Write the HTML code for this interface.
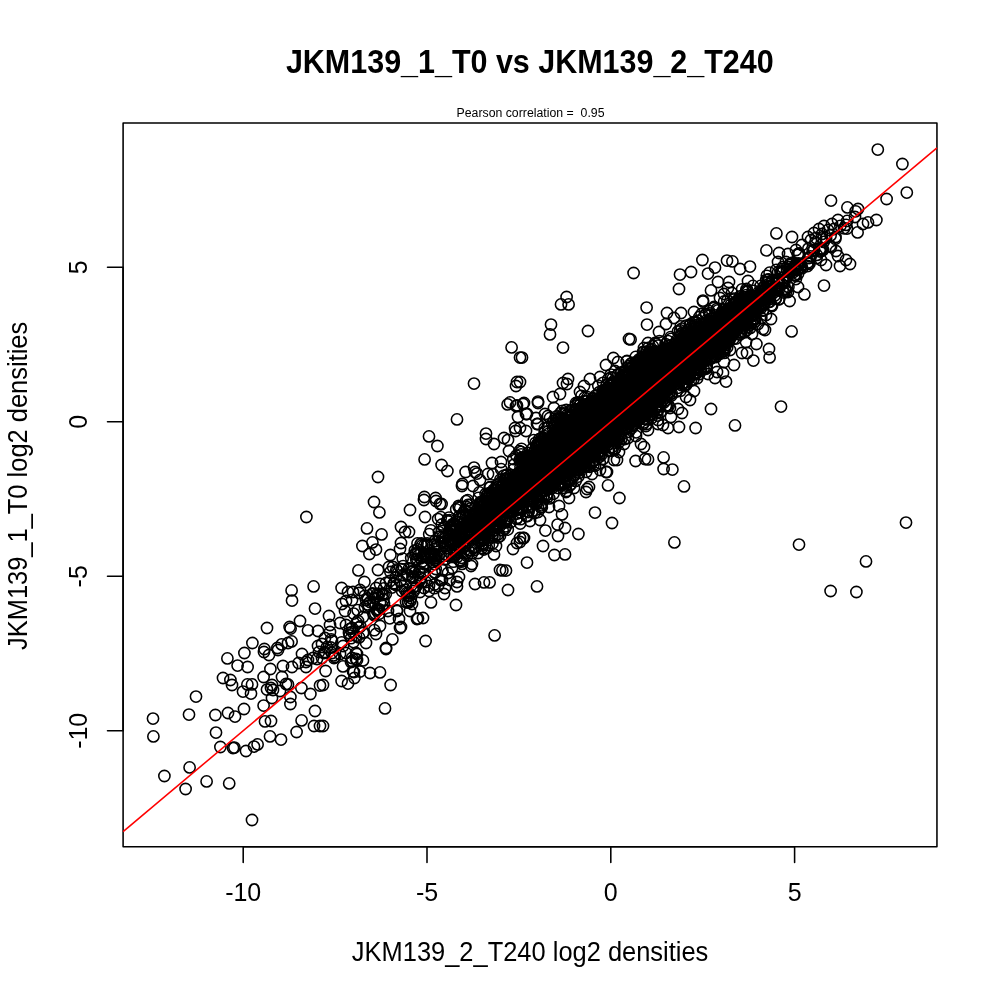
<!DOCTYPE html>
<html><head><meta charset="utf-8"><title>JKM139_1_T0 vs JKM139_2_T240</title>
<style>
html,body{margin:0;padding:0;background:#fff;}
body{width:1000px;height:1000px;overflow:hidden;font-family:"Liberation Sans",sans-serif;}
svg{display:block;will-change:transform;}
text{font-family:"Liberation Sans",sans-serif;fill:#000;}
.pts circle{r:5.62px;fill:none;stroke:#000;stroke-width:1.55px;}
.ln{stroke:#000;stroke-width:1.56px;fill:none;stroke-linecap:round;stroke-linejoin:round;}
.ax{font-size:25px;text-anchor:middle;}
</style></head><body>
<svg width="1000" height="1000" viewBox="0 0 1000 1000">
<rect width="1000" height="1000" fill="#fff"/>
<text transform="translate(529.8 72.7) scale(1.016 1.125)" text-anchor="middle" font-size="30" font-weight="bold">JKM139_1_T0 vs JKM139_2_T240</text>
<text transform="translate(530.5 117) scale(0.984 1.08)" text-anchor="middle" font-size="12.5">Pearson correlation =&#160; 0.95</text>
<g class="pts"><circle cx="636.1" cy="399.1"/><circle cx="672.2" cy="353.7"/><circle cx="567.3" cy="431.9"/><circle cx="374.3" cy="630.2"/><circle cx="678.3" cy="353.4"/><circle cx="567.9" cy="454.3"/><circle cx="556.3" cy="441.7"/><circle cx="611.1" cy="425.4"/><circle cx="812.7" cy="251"/><circle cx="635.5" cy="373.2"/><circle cx="545.7" cy="461.9"/><circle cx="633.4" cy="400.7"/><circle cx="449.1" cy="540.2"/><circle cx="603.3" cy="411"/><circle cx="637" cy="395.3"/><circle cx="609.5" cy="406.8"/><circle cx="538.9" cy="457.9"/><circle cx="541.4" cy="455.9"/><circle cx="363.8" cy="632.3"/><circle cx="526.1" cy="479.5"/><circle cx="707.3" cy="340.8"/><circle cx="694.4" cy="351.1"/><circle cx="663.3" cy="349.6"/><circle cx="618.5" cy="409.4"/><circle cx="703.6" cy="368.6"/><circle cx="630.3" cy="378.3"/><circle cx="586.9" cy="443"/><circle cx="524.5" cy="493.5"/><circle cx="585.1" cy="446"/><circle cx="628.6" cy="388.4"/><circle cx="639" cy="384.4"/><circle cx="524.7" cy="463.2"/><circle cx="552.3" cy="457.3"/><circle cx="500.5" cy="521.9"/><circle cx="545.6" cy="452.7"/><circle cx="567.3" cy="414.8"/><circle cx="644.4" cy="386.4"/><circle cx="693.7" cy="359.9"/><circle cx="717.9" cy="327.2"/><circle cx="522.7" cy="508.5"/><circle cx="730.7" cy="318"/><circle cx="535.1" cy="472.2"/><circle cx="639.8" cy="373"/><circle cx="584.5" cy="427.6"/><circle cx="552.3" cy="471.6"/><circle cx="705.6" cy="349.9"/><circle cx="619.8" cy="424.1"/><circle cx="665.7" cy="381.2"/><circle cx="583.6" cy="441.8"/><circle cx="513.3" cy="459"/><circle cx="643.4" cy="374"/><circle cx="615" cy="448.5"/><circle cx="577.4" cy="430.2"/><circle cx="649.3" cy="392.4"/><circle cx="614" cy="407.6"/><circle cx="720.5" cy="335.8"/><circle cx="734.1" cy="318"/><circle cx="666.1" cy="355.4"/><circle cx="519.2" cy="473"/><circle cx="683.8" cy="361"/><circle cx="636.9" cy="383.8"/><circle cx="612.8" cy="378.2"/><circle cx="548.8" cy="469.4"/><circle cx="581.6" cy="451.8"/><circle cx="577.8" cy="453.3"/><circle cx="625.1" cy="415.4"/><circle cx="560.4" cy="428.1"/><circle cx="598.8" cy="448.3"/><circle cx="613.3" cy="407.1"/><circle cx="714.4" cy="322.4"/><circle cx="626.6" cy="392"/><circle cx="706.4" cy="330.7"/><circle cx="727.8" cy="309"/><circle cx="595.9" cy="423.5"/><circle cx="746.4" cy="309.4"/><circle cx="680.9" cy="355.7"/><circle cx="657.2" cy="378.6"/><circle cx="574.8" cy="437.7"/><circle cx="542.1" cy="455.3"/><circle cx="545" cy="455.2"/><circle cx="692" cy="356.6"/><circle cx="605.9" cy="393.2"/><circle cx="643.7" cy="378.1"/><circle cx="755.1" cy="309.8"/><circle cx="636.8" cy="394.8"/><circle cx="536.2" cy="480.8"/><circle cx="592" cy="426.8"/><circle cx="683.8" cy="341"/><circle cx="508.9" cy="487.5"/><circle cx="679.7" cy="360.8"/><circle cx="614.9" cy="401.7"/><circle cx="461.9" cy="528.8"/><circle cx="424.5" cy="564.3"/><circle cx="554.7" cy="470.2"/><circle cx="623.8" cy="393.7"/><circle cx="628.7" cy="415.6"/><circle cx="648" cy="383.1"/><circle cx="569.7" cy="460.1"/><circle cx="617.9" cy="423.5"/><circle cx="643.4" cy="413.6"/><circle cx="538.5" cy="485.7"/><circle cx="454" cy="556"/><circle cx="754" cy="318.3"/><circle cx="466.1" cy="501.2"/><circle cx="571.4" cy="428.2"/><circle cx="636.5" cy="407.8"/><circle cx="570.4" cy="410.4"/><circle cx="678.3" cy="363.1"/><circle cx="669.8" cy="369.5"/><circle cx="540.4" cy="445"/><circle cx="639.1" cy="375.8"/><circle cx="500.2" cy="511.6"/><circle cx="637.6" cy="399.7"/><circle cx="680.2" cy="351.5"/><circle cx="658.4" cy="363.4"/><circle cx="712.8" cy="326"/><circle cx="436.1" cy="560.2"/><circle cx="545.5" cy="442.8"/><circle cx="741.8" cy="311.8"/><circle cx="555.7" cy="433.4"/><circle cx="643.3" cy="401"/><circle cx="585.4" cy="435.8"/><circle cx="644.4" cy="406.9"/><circle cx="584.6" cy="397.7"/><circle cx="618.2" cy="374.1"/><circle cx="554.4" cy="447.4"/><circle cx="601.5" cy="444.3"/><circle cx="666.1" cy="353.6"/><circle cx="567.1" cy="468.1"/><circle cx="668.8" cy="370.4"/><circle cx="517.8" cy="488.7"/><circle cx="491.3" cy="520.2"/><circle cx="559.8" cy="436.9"/><circle cx="689.5" cy="344.5"/><circle cx="537.2" cy="451.6"/><circle cx="708.8" cy="338.7"/><circle cx="655.7" cy="407.4"/><circle cx="659.7" cy="369.3"/><circle cx="687.1" cy="361"/><circle cx="583.3" cy="440.4"/><circle cx="614" cy="412.6"/><circle cx="538.4" cy="467.2"/><circle cx="617.5" cy="428.4"/><circle cx="714.5" cy="334.3"/><circle cx="536.3" cy="464.1"/><circle cx="640.4" cy="361"/><circle cx="820.2" cy="251.6"/><circle cx="693" cy="360.3"/><circle cx="588.5" cy="435.6"/><circle cx="536.4" cy="469.8"/><circle cx="667.4" cy="394.2"/><circle cx="598.9" cy="422.8"/><circle cx="593.7" cy="417"/><circle cx="693.4" cy="357.7"/><circle cx="586.9" cy="427.4"/><circle cx="658.3" cy="376.6"/><circle cx="688.7" cy="349"/><circle cx="586.9" cy="429.5"/><circle cx="668.1" cy="345.7"/><circle cx="523.7" cy="469.5"/><circle cx="687" cy="345"/><circle cx="513.5" cy="469.5"/><circle cx="789.5" cy="271.7"/><circle cx="625.4" cy="405.3"/><circle cx="665.5" cy="356.8"/><circle cx="723.2" cy="351.3"/><circle cx="670.4" cy="365.4"/><circle cx="604.7" cy="424.3"/><circle cx="570.4" cy="427.4"/><circle cx="657.8" cy="363.5"/><circle cx="471.9" cy="553.2"/><circle cx="710.9" cy="344.1"/><circle cx="554.1" cy="455.8"/><circle cx="549" cy="440.6"/><circle cx="610.8" cy="438.9"/><circle cx="533.7" cy="459.9"/><circle cx="606.9" cy="408.5"/><circle cx="646.1" cy="383.4"/><circle cx="615.6" cy="414.8"/><circle cx="613.4" cy="410.9"/><circle cx="617.5" cy="406.7"/><circle cx="676.5" cy="391.5"/><circle cx="534.7" cy="475.4"/><circle cx="508.9" cy="502.1"/><circle cx="739.5" cy="299.1"/><circle cx="763.6" cy="302.6"/><circle cx="611.4" cy="384.2"/><circle cx="723.5" cy="319.2"/><circle cx="570.8" cy="484.3"/><circle cx="480.5" cy="507.1"/><circle cx="603" cy="419.4"/><circle cx="668.2" cy="352.4"/><circle cx="668.3" cy="352.4"/><circle cx="695.3" cy="363.6"/><circle cx="661.7" cy="367.6"/><circle cx="530.8" cy="475.4"/><circle cx="530.2" cy="472.6"/><circle cx="630" cy="374.5"/><circle cx="736.2" cy="315.1"/><circle cx="613.1" cy="428.9"/><circle cx="759" cy="291.9"/><circle cx="680.2" cy="366.6"/><circle cx="679.7" cy="376.3"/><circle cx="640.2" cy="371.1"/><circle cx="596.6" cy="439.3"/><circle cx="651.3" cy="352.1"/><circle cx="575.3" cy="452.6"/><circle cx="543.9" cy="460.9"/><circle cx="670.4" cy="351.3"/><circle cx="659.8" cy="373.8"/><circle cx="752.5" cy="298"/><circle cx="591.5" cy="401.2"/><circle cx="614.9" cy="427.1"/><circle cx="493.6" cy="526.9"/><circle cx="622" cy="386.9"/><circle cx="454" cy="531.6"/><circle cx="637.4" cy="384.3"/><circle cx="486.5" cy="510"/><circle cx="547.6" cy="442.8"/><circle cx="706.6" cy="351.8"/><circle cx="600.8" cy="422.2"/><circle cx="654.9" cy="364.5"/><circle cx="681.3" cy="352.7"/><circle cx="635.1" cy="381.9"/><circle cx="648" cy="381.6"/><circle cx="590.9" cy="440.1"/><circle cx="588.7" cy="442"/><circle cx="585.4" cy="416"/><circle cx="666.8" cy="372.1"/><circle cx="576" cy="426.5"/><circle cx="585.5" cy="405.1"/><circle cx="674.9" cy="349"/><circle cx="656.2" cy="378.3"/><circle cx="699.3" cy="326.5"/><circle cx="621.9" cy="392.1"/><circle cx="647.9" cy="391.6"/><circle cx="593.9" cy="415.4"/><circle cx="565.5" cy="437.3"/><circle cx="596" cy="409.5"/><circle cx="599.4" cy="392.1"/><circle cx="626.8" cy="395.6"/><circle cx="711.1" cy="336.7"/><circle cx="559.3" cy="455.9"/><circle cx="608.9" cy="397.8"/><circle cx="485.9" cy="498.6"/><circle cx="540.6" cy="482.2"/><circle cx="687.9" cy="341.7"/><circle cx="604.8" cy="412.8"/><circle cx="619.5" cy="388.2"/><circle cx="571.1" cy="427.4"/><circle cx="670.8" cy="345.3"/><circle cx="661" cy="397.7"/><circle cx="599" cy="416.9"/><circle cx="649.1" cy="353.7"/><circle cx="640.2" cy="390.6"/><circle cx="638.8" cy="390.6"/><circle cx="605.4" cy="417.2"/><circle cx="637.4" cy="414.5"/><circle cx="755.8" cy="300.6"/><circle cx="568.6" cy="446.6"/><circle cx="481.4" cy="507"/><circle cx="671.1" cy="352.1"/><circle cx="539.8" cy="468.7"/><circle cx="572.2" cy="441.7"/><circle cx="607.7" cy="400.3"/><circle cx="643.1" cy="380"/><circle cx="670" cy="368.7"/><circle cx="577.3" cy="442"/><circle cx="597.4" cy="414.4"/><circle cx="521.2" cy="451.9"/><circle cx="639.4" cy="394.2"/><circle cx="519.8" cy="479.5"/><circle cx="563.3" cy="435.3"/><circle cx="434.6" cy="544.7"/><circle cx="529.9" cy="458.7"/><circle cx="412.9" cy="576.6"/><circle cx="559.9" cy="447.1"/><circle cx="536.3" cy="446"/><circle cx="590.9" cy="434.2"/><circle cx="684.3" cy="363.3"/><circle cx="728.3" cy="320.4"/><circle cx="645.8" cy="394"/><circle cx="644.6" cy="363"/><circle cx="671.2" cy="385.6"/><circle cx="748.3" cy="310.2"/><circle cx="509.4" cy="510.6"/><circle cx="723.6" cy="309.5"/><circle cx="633.3" cy="385.6"/><circle cx="648.1" cy="379.2"/><circle cx="747.6" cy="326.7"/><circle cx="575.5" cy="440.5"/><circle cx="421.3" cy="543.5"/><circle cx="651.7" cy="389.5"/><circle cx="696" cy="350.4"/><circle cx="575.7" cy="429"/><circle cx="517.4" cy="500.2"/><circle cx="568.1" cy="466.3"/><circle cx="730.8" cy="317.9"/><circle cx="715.4" cy="321.4"/><circle cx="696.7" cy="356"/><circle cx="360.4" cy="626.5"/><circle cx="553.9" cy="453.2"/><circle cx="679" cy="349.3"/><circle cx="544.8" cy="460.9"/><circle cx="737.9" cy="320.1"/><circle cx="653.7" cy="380.9"/><circle cx="613.4" cy="420.9"/><circle cx="620.3" cy="434.7"/><circle cx="493.3" cy="514.4"/><circle cx="669.2" cy="381.4"/><circle cx="570.2" cy="445.7"/><circle cx="600.9" cy="455.4"/><circle cx="565.5" cy="449.3"/><circle cx="638.5" cy="414.6"/><circle cx="584.9" cy="459.8"/><circle cx="652.8" cy="378.8"/><circle cx="435.7" cy="569"/><circle cx="656.4" cy="354.8"/><circle cx="660.5" cy="381.4"/><circle cx="603.9" cy="393.7"/><circle cx="599.6" cy="431.6"/><circle cx="568.5" cy="439.7"/><circle cx="546.8" cy="460.9"/><circle cx="532.6" cy="461.3"/><circle cx="603.2" cy="423.7"/><circle cx="662.5" cy="385.2"/><circle cx="560.8" cy="438.2"/><circle cx="611.5" cy="407.2"/><circle cx="514.2" cy="494.6"/><circle cx="604.9" cy="408"/><circle cx="480.6" cy="540.8"/><circle cx="701.2" cy="370.7"/><circle cx="377.2" cy="609.9"/><circle cx="582.9" cy="434.3"/><circle cx="485.8" cy="517.7"/><circle cx="683" cy="347"/><circle cx="600.6" cy="398"/><circle cx="571.8" cy="432.2"/><circle cx="587.9" cy="436.1"/><circle cx="491.8" cy="505"/><circle cx="748.5" cy="298.3"/><circle cx="641" cy="373.6"/><circle cx="624.7" cy="402.2"/><circle cx="628.5" cy="393.9"/><circle cx="620.4" cy="417.7"/><circle cx="627.1" cy="383.4"/><circle cx="684.3" cy="356.2"/><circle cx="619.3" cy="441.7"/><circle cx="590.2" cy="424.4"/><circle cx="583.6" cy="444.3"/><circle cx="650" cy="375.6"/><circle cx="505.9" cy="526.3"/><circle cx="728.4" cy="331.3"/><circle cx="554.9" cy="446.4"/><circle cx="695.1" cy="346.9"/><circle cx="459.3" cy="548.4"/><circle cx="538.9" cy="443.3"/><circle cx="727.1" cy="315.8"/><circle cx="532.1" cy="466.7"/><circle cx="615" cy="371"/><circle cx="597.4" cy="429.2"/><circle cx="579.5" cy="472.8"/><circle cx="665.6" cy="344.1"/><circle cx="681.6" cy="342.5"/><circle cx="673.8" cy="367.1"/><circle cx="703.6" cy="347.4"/><circle cx="601.1" cy="427"/><circle cx="611.7" cy="407.7"/><circle cx="520.2" cy="477.3"/><circle cx="467.7" cy="500.2"/><circle cx="516.5" cy="518.9"/><circle cx="580.1" cy="461.1"/><circle cx="562.7" cy="440.9"/><circle cx="574.4" cy="442.2"/><circle cx="556.5" cy="452.3"/><circle cx="666.7" cy="364.6"/><circle cx="710.2" cy="324.2"/><circle cx="569.7" cy="485.6"/><circle cx="555.8" cy="453.8"/><circle cx="597.5" cy="436.9"/><circle cx="735.5" cy="315.4"/><circle cx="656.1" cy="383.7"/><circle cx="517.1" cy="513.6"/><circle cx="652.1" cy="383.6"/><circle cx="718.8" cy="348.9"/><circle cx="498.2" cy="493.9"/><circle cx="737" cy="323.9"/><circle cx="725.2" cy="342.2"/><circle cx="481" cy="532.6"/><circle cx="601.7" cy="410.1"/><circle cx="662.1" cy="360.2"/><circle cx="823.7" cy="241.9"/><circle cx="683" cy="349.5"/><circle cx="674.3" cy="370.1"/><circle cx="799.6" cy="263.9"/><circle cx="600.6" cy="409.6"/><circle cx="742.5" cy="299.1"/><circle cx="738.5" cy="308.2"/><circle cx="584.1" cy="434.5"/><circle cx="604.3" cy="431.1"/><circle cx="586.6" cy="439.5"/><circle cx="520.5" cy="495.9"/><circle cx="666.4" cy="390.7"/><circle cx="646.6" cy="392.8"/><circle cx="549.8" cy="438.2"/><circle cx="561.9" cy="448.6"/><circle cx="668.2" cy="349.3"/><circle cx="572.6" cy="446.3"/><circle cx="537" cy="444.6"/><circle cx="652.5" cy="380.6"/><circle cx="566.4" cy="451"/><circle cx="447" cy="555.5"/><circle cx="626.1" cy="400.9"/><circle cx="628.6" cy="391.9"/><circle cx="654.7" cy="393"/><circle cx="763.4" cy="291.5"/><circle cx="555.9" cy="441.2"/><circle cx="798.2" cy="263.4"/><circle cx="631.9" cy="373.1"/><circle cx="745.7" cy="311.3"/><circle cx="614.4" cy="380.6"/><circle cx="653.7" cy="394"/><circle cx="573.7" cy="442.3"/><circle cx="448.5" cy="555.8"/><circle cx="487.7" cy="494.4"/><circle cx="574.9" cy="467.3"/><circle cx="442.5" cy="570.4"/><circle cx="596.9" cy="441.3"/><circle cx="655.1" cy="377.5"/><circle cx="553.7" cy="472.4"/><circle cx="715" cy="332.9"/><circle cx="498.5" cy="524.7"/><circle cx="438.1" cy="519.1"/><circle cx="434" cy="555.9"/><circle cx="637.9" cy="414.6"/><circle cx="526.6" cy="494.1"/><circle cx="575.4" cy="457.1"/><circle cx="494.7" cy="520.9"/><circle cx="647.6" cy="388.1"/><circle cx="634.6" cy="379.8"/><circle cx="557.6" cy="464.2"/><circle cx="747.4" cy="303.9"/><circle cx="639.6" cy="387"/><circle cx="413.1" cy="571.5"/><circle cx="480.9" cy="519.6"/><circle cx="651.5" cy="367.1"/><circle cx="675.2" cy="374.7"/><circle cx="534" cy="478.1"/><circle cx="695.9" cy="364"/><circle cx="553.5" cy="493.7"/><circle cx="590.1" cy="443.3"/><circle cx="611.2" cy="415.2"/><circle cx="598.5" cy="401.7"/><circle cx="656.1" cy="378.5"/><circle cx="702.6" cy="346.2"/><circle cx="571.1" cy="450.4"/><circle cx="737.8" cy="316.3"/><circle cx="500.4" cy="494.5"/><circle cx="795.3" cy="274.7"/><circle cx="469.8" cy="530.9"/><circle cx="611" cy="431.3"/><circle cx="746.7" cy="301.6"/><circle cx="514.2" cy="496.1"/><circle cx="591.1" cy="450.1"/><circle cx="635.8" cy="414.1"/><circle cx="625.7" cy="383.3"/><circle cx="684.6" cy="356.3"/><circle cx="652.8" cy="376"/><circle cx="604.2" cy="439.6"/><circle cx="618.1" cy="414.6"/><circle cx="595.6" cy="415.4"/><circle cx="471.9" cy="526.2"/><circle cx="420.6" cy="558.3"/><circle cx="585.6" cy="434.8"/><circle cx="566.2" cy="442.3"/><circle cx="532.7" cy="479.6"/><circle cx="754" cy="315.5"/><circle cx="603.1" cy="458.9"/><circle cx="564.8" cy="464.4"/><circle cx="564.2" cy="482.7"/><circle cx="575.1" cy="409.4"/><circle cx="729.5" cy="330.1"/><circle cx="681.3" cy="370.7"/><circle cx="585.1" cy="442.4"/><circle cx="482.9" cy="516.9"/><circle cx="635.7" cy="356.9"/><circle cx="646" cy="369.9"/><circle cx="777.3" cy="282.7"/><circle cx="681.1" cy="365.7"/><circle cx="763.9" cy="287.1"/><circle cx="702.7" cy="343.3"/><circle cx="635.4" cy="392.1"/><circle cx="541.3" cy="466.9"/><circle cx="565" cy="450.9"/><circle cx="515.6" cy="499.1"/><circle cx="727.6" cy="320.1"/><circle cx="407.9" cy="575.6"/><circle cx="518.3" cy="473.2"/><circle cx="627.2" cy="394"/><circle cx="595.7" cy="412.2"/><circle cx="644.9" cy="394"/><circle cx="589.4" cy="465.6"/><circle cx="718.2" cy="352.9"/><circle cx="657.6" cy="367.6"/><circle cx="713.5" cy="340.5"/><circle cx="611.2" cy="414.3"/><circle cx="646.8" cy="356.7"/><circle cx="519.3" cy="451.2"/><circle cx="439.9" cy="536.7"/><circle cx="752.9" cy="302"/><circle cx="528.6" cy="456.1"/><circle cx="494.6" cy="490.4"/><circle cx="629.1" cy="383.1"/><circle cx="506.7" cy="480.4"/><circle cx="680.5" cy="340.9"/><circle cx="519.6" cy="481.3"/><circle cx="637.1" cy="402.8"/><circle cx="700.7" cy="347.8"/><circle cx="612.3" cy="396"/><circle cx="623.1" cy="399.6"/><circle cx="660.7" cy="375.2"/><circle cx="799.2" cy="253.4"/><circle cx="594.6" cy="442.2"/><circle cx="673.2" cy="354.4"/><circle cx="639.3" cy="369"/><circle cx="603.7" cy="400.9"/><circle cx="563.6" cy="444.8"/><circle cx="571" cy="431.8"/><circle cx="591.5" cy="444.6"/><circle cx="744.1" cy="307"/><circle cx="808.4" cy="248.6"/><circle cx="464.8" cy="520.8"/><circle cx="536.7" cy="503.6"/><circle cx="568.3" cy="428.4"/><circle cx="686" cy="372.8"/><circle cx="573.9" cy="427.3"/><circle cx="703" cy="340"/><circle cx="565.8" cy="452.8"/><circle cx="564.7" cy="447.2"/><circle cx="665.4" cy="361.2"/><circle cx="523.5" cy="486.9"/><circle cx="566.5" cy="438.5"/><circle cx="663.8" cy="379.1"/><circle cx="781.9" cy="269.2"/><circle cx="704.5" cy="327.1"/><circle cx="710.7" cy="334.8"/><circle cx="702.8" cy="340.9"/><circle cx="656.8" cy="390.8"/><circle cx="559" cy="447.8"/><circle cx="628.9" cy="398.7"/><circle cx="732.9" cy="317.8"/><circle cx="539.2" cy="477"/><circle cx="684.6" cy="362.6"/><circle cx="612.6" cy="410.1"/><circle cx="642.8" cy="401.7"/><circle cx="495" cy="530.1"/><circle cx="707.2" cy="330.6"/><circle cx="468.6" cy="517.3"/><circle cx="586.3" cy="421.5"/><circle cx="628" cy="387"/><circle cx="576" cy="429.4"/><circle cx="633.6" cy="395.3"/><circle cx="654.6" cy="390.9"/><circle cx="683.6" cy="347.6"/><circle cx="757.1" cy="304.1"/><circle cx="515.3" cy="482"/><circle cx="566.6" cy="491"/><circle cx="632.7" cy="399"/><circle cx="494.9" cy="518.1"/><circle cx="480.1" cy="502.7"/><circle cx="705.9" cy="329.1"/><circle cx="515.5" cy="491.6"/><circle cx="606" cy="403.3"/><circle cx="591.2" cy="427"/><circle cx="723.7" cy="339.4"/><circle cx="528.5" cy="466.1"/><circle cx="608.5" cy="400"/><circle cx="494.9" cy="508.6"/><circle cx="723.2" cy="323.1"/><circle cx="558" cy="464.6"/><circle cx="571.9" cy="440.8"/><circle cx="493.6" cy="489.8"/><circle cx="565.6" cy="453.8"/><circle cx="713.1" cy="325.5"/><circle cx="556.6" cy="457.1"/><circle cx="586.9" cy="401.3"/><circle cx="669" cy="356.5"/><circle cx="653.7" cy="384.7"/><circle cx="761.3" cy="306.3"/><circle cx="700.3" cy="357.6"/><circle cx="580.5" cy="457.6"/><circle cx="659.7" cy="374.3"/><circle cx="586.2" cy="447.8"/><circle cx="622.3" cy="407.9"/><circle cx="744.1" cy="307.1"/><circle cx="847.2" cy="220.9"/><circle cx="581.8" cy="422.2"/><circle cx="514.9" cy="504.8"/><circle cx="536.8" cy="471.5"/><circle cx="711.5" cy="326.4"/><circle cx="646.6" cy="382.3"/><circle cx="497.8" cy="534.4"/><circle cx="611" cy="388.2"/><circle cx="643.3" cy="364.9"/><circle cx="461.6" cy="557.8"/><circle cx="714.9" cy="315.4"/><circle cx="616.9" cy="430.1"/><circle cx="737.9" cy="308.4"/><circle cx="591.7" cy="434.3"/><circle cx="657.6" cy="397.2"/><circle cx="661.9" cy="393.8"/><circle cx="487.3" cy="525.5"/><circle cx="766.5" cy="292.5"/><circle cx="671.9" cy="361.5"/><circle cx="602" cy="415.1"/><circle cx="633.8" cy="419.9"/><circle cx="650.2" cy="387.3"/><circle cx="656.7" cy="396"/><circle cx="608.8" cy="407.7"/><circle cx="553" cy="463.4"/><circle cx="598" cy="416.2"/><circle cx="690.9" cy="380.6"/><circle cx="577.3" cy="419.9"/><circle cx="717.2" cy="337.4"/><circle cx="621.3" cy="418.5"/><circle cx="641.7" cy="374.8"/><circle cx="520" cy="498.5"/><circle cx="645.2" cy="392.8"/><circle cx="573.3" cy="467.5"/><circle cx="558.6" cy="453.5"/><circle cx="648.8" cy="399.3"/><circle cx="475.9" cy="529.4"/><circle cx="681.8" cy="352"/><circle cx="572.2" cy="454.7"/><circle cx="493" cy="516.5"/><circle cx="625.7" cy="427.4"/><circle cx="599.3" cy="398.1"/><circle cx="659.3" cy="353.9"/><circle cx="664.2" cy="359.9"/><circle cx="495.4" cy="517.1"/><circle cx="635.6" cy="411.2"/><circle cx="710.5" cy="335"/><circle cx="671.1" cy="370.6"/><circle cx="652.5" cy="381.5"/><circle cx="572.4" cy="415.8"/><circle cx="616.3" cy="393.7"/><circle cx="638.9" cy="405.9"/><circle cx="586.2" cy="447"/><circle cx="577.6" cy="459.4"/><circle cx="601.9" cy="431.9"/><circle cx="547" cy="468.5"/><circle cx="486.2" cy="520.2"/><circle cx="713.1" cy="318"/><circle cx="504.9" cy="528.8"/><circle cx="515.1" cy="486.8"/><circle cx="513.1" cy="506.4"/><circle cx="609" cy="427.5"/><circle cx="571.6" cy="454.6"/><circle cx="656.3" cy="400.7"/><circle cx="581.5" cy="433.9"/><circle cx="520.7" cy="499.7"/><circle cx="596.4" cy="432.3"/><circle cx="685.8" cy="338.5"/><circle cx="518.1" cy="476.4"/><circle cx="685.1" cy="339.3"/><circle cx="633.2" cy="365.4"/><circle cx="782.8" cy="267.2"/><circle cx="640.5" cy="397.6"/><circle cx="583.2" cy="410.7"/><circle cx="729.8" cy="332.7"/><circle cx="588.5" cy="426.4"/><circle cx="652.4" cy="376.6"/><circle cx="678.5" cy="343.1"/><circle cx="643.8" cy="393.4"/><circle cx="602.9" cy="403.7"/><circle cx="590.2" cy="440.5"/><circle cx="537.9" cy="482.2"/><circle cx="602.6" cy="390.4"/><circle cx="679.3" cy="367.7"/><circle cx="742.1" cy="289.3"/><circle cx="641.1" cy="402.9"/><circle cx="686.2" cy="325.6"/><circle cx="664.6" cy="355.3"/><circle cx="688.5" cy="371.7"/><circle cx="646.7" cy="388.7"/><circle cx="575.9" cy="452.5"/><circle cx="582.8" cy="448.5"/><circle cx="696.1" cy="336.7"/><circle cx="648.5" cy="410.8"/><circle cx="546.4" cy="464.9"/><circle cx="498.2" cy="502.1"/><circle cx="745.9" cy="291.5"/><circle cx="667.4" cy="355.5"/><circle cx="612" cy="411"/><circle cx="598.1" cy="446.4"/><circle cx="611.3" cy="433.9"/><circle cx="569" cy="441.7"/><circle cx="790.7" cy="264.3"/><circle cx="549.4" cy="440.7"/><circle cx="520" cy="512.3"/><circle cx="696.7" cy="351.4"/><circle cx="595.4" cy="407"/><circle cx="505.4" cy="522.5"/><circle cx="578.5" cy="448.1"/><circle cx="728.3" cy="331.6"/><circle cx="523" cy="496.6"/><circle cx="527.9" cy="484.4"/><circle cx="741.1" cy="307"/><circle cx="538" cy="443.6"/><circle cx="642.1" cy="366.3"/><circle cx="403.1" cy="566.1"/><circle cx="556.7" cy="464.8"/><circle cx="607.8" cy="402.5"/><circle cx="601.4" cy="434.4"/><circle cx="794.4" cy="275.3"/><circle cx="482.7" cy="543.2"/><circle cx="550.9" cy="486.8"/><circle cx="753.7" cy="319.5"/><circle cx="696.5" cy="350.7"/><circle cx="570.9" cy="447.6"/><circle cx="598.1" cy="412.8"/><circle cx="594.1" cy="431.3"/><circle cx="487.6" cy="515.5"/><circle cx="605.9" cy="405.8"/><circle cx="640.7" cy="359.1"/><circle cx="505" cy="520.9"/><circle cx="569.3" cy="456.2"/><circle cx="666.8" cy="355"/><circle cx="649.2" cy="376.1"/><circle cx="566.6" cy="462.1"/><circle cx="728.6" cy="316.5"/><circle cx="578.4" cy="444.7"/><circle cx="638" cy="409.8"/><circle cx="576.6" cy="455.7"/><circle cx="356.6" cy="622.7"/><circle cx="695.9" cy="336.9"/><circle cx="582.2" cy="430.2"/><circle cx="644.2" cy="400.4"/><circle cx="589.9" cy="427.5"/><circle cx="650.3" cy="410.4"/><circle cx="537.6" cy="501.7"/><circle cx="603.3" cy="445.4"/><circle cx="617.2" cy="420.6"/><circle cx="551.5" cy="440.6"/><circle cx="538.4" cy="499.5"/><circle cx="592.7" cy="441.7"/><circle cx="581.5" cy="426.1"/><circle cx="426.8" cy="545.5"/><circle cx="681.5" cy="350.9"/><circle cx="597.7" cy="427.3"/><circle cx="618.7" cy="382.5"/><circle cx="698.5" cy="362.5"/><circle cx="572.3" cy="438.5"/><circle cx="710.5" cy="344.6"/><circle cx="643.2" cy="360.6"/><circle cx="607.9" cy="433.6"/><circle cx="602.2" cy="419.1"/><circle cx="606.3" cy="397"/><circle cx="669.9" cy="391.8"/><circle cx="521" cy="478.4"/><circle cx="586.1" cy="426.1"/><circle cx="750.7" cy="296.3"/><circle cx="760.6" cy="285.9"/><circle cx="647.8" cy="383.7"/><circle cx="583.7" cy="435.7"/><circle cx="689.5" cy="347.6"/><circle cx="490" cy="492.8"/><circle cx="572.6" cy="469.7"/><circle cx="714.4" cy="323.3"/><circle cx="637" cy="414.4"/><circle cx="547.7" cy="464.2"/><circle cx="668.2" cy="368.4"/><circle cx="528.5" cy="511.6"/><circle cx="585.1" cy="466.6"/><circle cx="475.8" cy="515.4"/><circle cx="599.7" cy="434.3"/><circle cx="586.2" cy="422.1"/><circle cx="584.6" cy="405.8"/><circle cx="609.6" cy="428.8"/><circle cx="677.7" cy="368.5"/><circle cx="601.7" cy="432.8"/><circle cx="665.9" cy="406"/><circle cx="682.5" cy="354"/><circle cx="658.2" cy="384.5"/><circle cx="653" cy="382.9"/><circle cx="557" cy="422.6"/><circle cx="588.9" cy="426.7"/><circle cx="643.2" cy="361.1"/><circle cx="672.2" cy="366.5"/><circle cx="639.7" cy="372.2"/><circle cx="449.5" cy="520.2"/><circle cx="559.5" cy="477.7"/><circle cx="532.3" cy="467.8"/><circle cx="577.3" cy="434.1"/><circle cx="616.5" cy="412.9"/><circle cx="554.1" cy="421"/><circle cx="661.5" cy="358.9"/><circle cx="482.2" cy="504"/><circle cx="625.8" cy="406.9"/><circle cx="596.7" cy="427.6"/><circle cx="613.7" cy="398.6"/><circle cx="558.8" cy="483.9"/><circle cx="673.6" cy="356.2"/><circle cx="452.8" cy="524.1"/><circle cx="541.6" cy="473.6"/><circle cx="772.1" cy="281.8"/><circle cx="617.8" cy="427.3"/><circle cx="468.7" cy="532.5"/><circle cx="735.5" cy="308.3"/><circle cx="593.4" cy="465.1"/><circle cx="530.7" cy="469.1"/><circle cx="673.9" cy="363.3"/><circle cx="647.4" cy="388.9"/><circle cx="549.6" cy="466.3"/><circle cx="653.8" cy="385.5"/><circle cx="599.8" cy="398.5"/><circle cx="430.8" cy="557.1"/><circle cx="564.8" cy="414.1"/><circle cx="549.1" cy="456.7"/><circle cx="593" cy="424"/><circle cx="525.7" cy="488.2"/><circle cx="540.1" cy="454.9"/><circle cx="528.8" cy="481.6"/><circle cx="541.6" cy="459.6"/><circle cx="691.5" cy="351.6"/><circle cx="498.3" cy="487.4"/><circle cx="609.9" cy="428.9"/><circle cx="673.8" cy="377.6"/><circle cx="609.5" cy="385.4"/><circle cx="600.9" cy="415.2"/><circle cx="528.5" cy="471.1"/><circle cx="558.8" cy="419.2"/><circle cx="674.2" cy="344.4"/><circle cx="542.8" cy="461.3"/><circle cx="570.1" cy="423.2"/><circle cx="583.8" cy="435.5"/><circle cx="647.2" cy="395.2"/><circle cx="696.4" cy="338.1"/><circle cx="600.3" cy="430.3"/><circle cx="552.1" cy="481.5"/><circle cx="482.3" cy="505.5"/><circle cx="644.3" cy="405"/><circle cx="562.1" cy="470.7"/><circle cx="591.6" cy="450.5"/><circle cx="497.3" cy="504.1"/><circle cx="503.8" cy="502.8"/><circle cx="709.5" cy="326.7"/><circle cx="718" cy="341"/><circle cx="550.6" cy="472.8"/><circle cx="600.3" cy="427.3"/><circle cx="754.4" cy="302"/><circle cx="573.1" cy="431.2"/><circle cx="487.8" cy="502.8"/><circle cx="650.2" cy="353.7"/><circle cx="692.4" cy="348.4"/><circle cx="573.4" cy="428.2"/><circle cx="579.1" cy="427.4"/><circle cx="740.4" cy="302.7"/><circle cx="494.5" cy="536.9"/><circle cx="645" cy="359.3"/><circle cx="623.8" cy="422"/><circle cx="725.8" cy="339"/><circle cx="540.1" cy="467.5"/><circle cx="577" cy="417"/><circle cx="546.5" cy="454"/><circle cx="766" cy="294.7"/><circle cx="566" cy="463.3"/><circle cx="500" cy="511.5"/><circle cx="690" cy="358.5"/><circle cx="629.1" cy="391.1"/><circle cx="651.6" cy="399.1"/><circle cx="586.2" cy="415.1"/><circle cx="565.3" cy="437.5"/><circle cx="718.2" cy="332.8"/><circle cx="580.9" cy="450"/><circle cx="608.2" cy="422.9"/><circle cx="578.6" cy="447.6"/><circle cx="576.8" cy="431.9"/><circle cx="742" cy="322.7"/><circle cx="681.8" cy="328.7"/><circle cx="661.2" cy="364"/><circle cx="691" cy="333.6"/><circle cx="655.7" cy="361"/><circle cx="562.1" cy="459.2"/><circle cx="545.3" cy="478.6"/><circle cx="597.7" cy="406.6"/><circle cx="673" cy="365.4"/><circle cx="739.9" cy="334.5"/><circle cx="565.4" cy="454.5"/><circle cx="713.4" cy="352.6"/><circle cx="574.8" cy="459.9"/><circle cx="690.1" cy="368.9"/><circle cx="680.7" cy="355.3"/><circle cx="603.8" cy="425.1"/><circle cx="586.2" cy="471.9"/><circle cx="616.6" cy="395.1"/><circle cx="617.6" cy="388"/><circle cx="798" cy="274"/><circle cx="451.4" cy="530.4"/><circle cx="616.5" cy="409.2"/><circle cx="685.5" cy="365"/><circle cx="656.3" cy="372.2"/><circle cx="617.9" cy="403.2"/><circle cx="686.1" cy="339.2"/><circle cx="721" cy="327"/><circle cx="674.8" cy="344.7"/><circle cx="579.8" cy="445"/><circle cx="575.1" cy="443.7"/><circle cx="550.2" cy="479.6"/><circle cx="506.5" cy="492.9"/><circle cx="595.2" cy="444"/><circle cx="563.6" cy="470.8"/><circle cx="666.2" cy="390.2"/><circle cx="630" cy="410.7"/><circle cx="621.7" cy="411.5"/><circle cx="559.4" cy="458.8"/><circle cx="650.1" cy="375.4"/><circle cx="755.7" cy="301"/><circle cx="683.9" cy="356.9"/><circle cx="724.1" cy="350.7"/><circle cx="615.7" cy="387.9"/><circle cx="724.5" cy="322.7"/><circle cx="631.2" cy="401.2"/><circle cx="624.8" cy="385.6"/><circle cx="718.5" cy="339.3"/><circle cx="662.1" cy="363.8"/><circle cx="480.3" cy="525.6"/><circle cx="602.7" cy="420.3"/><circle cx="566.3" cy="410"/><circle cx="686.8" cy="363.5"/><circle cx="565.1" cy="427.7"/><circle cx="696" cy="352.4"/><circle cx="686.3" cy="376.1"/><circle cx="568" cy="462"/><circle cx="642.5" cy="388.4"/><circle cx="706.9" cy="340.3"/><circle cx="664.2" cy="375.1"/><circle cx="586.6" cy="428.8"/><circle cx="714.9" cy="323.1"/><circle cx="724.1" cy="326.1"/><circle cx="530.3" cy="476"/><circle cx="568.5" cy="481.8"/><circle cx="609.5" cy="422.5"/><circle cx="666.5" cy="405.5"/><circle cx="522.6" cy="482.7"/><circle cx="679.3" cy="366.1"/><circle cx="703.1" cy="343.1"/><circle cx="582.5" cy="421.7"/><circle cx="533.8" cy="458.9"/><circle cx="550" cy="456.9"/><circle cx="585.4" cy="450.1"/><circle cx="604.1" cy="400.5"/><circle cx="642" cy="366.9"/><circle cx="709.6" cy="336.9"/><circle cx="714.9" cy="325.6"/><circle cx="678.8" cy="351.2"/><circle cx="615.6" cy="435.6"/><circle cx="630.5" cy="396.4"/><circle cx="675.4" cy="371.9"/><circle cx="688.9" cy="352.3"/><circle cx="552" cy="472.6"/><circle cx="556.9" cy="454.2"/><circle cx="431.4" cy="553.3"/><circle cx="625.3" cy="412.2"/><circle cx="671.7" cy="365.2"/><circle cx="547" cy="485.1"/><circle cx="513" cy="479.6"/><circle cx="550.2" cy="486"/><circle cx="739.9" cy="301.3"/><circle cx="623.2" cy="395.3"/><circle cx="651.6" cy="383.2"/><circle cx="575.6" cy="421.6"/><circle cx="541.5" cy="457.9"/><circle cx="638.2" cy="403"/><circle cx="459.5" cy="529.8"/><circle cx="585.8" cy="420.1"/><circle cx="629.6" cy="409.9"/><circle cx="684.7" cy="357.6"/><circle cx="647.2" cy="393.7"/><circle cx="631.7" cy="420.3"/><circle cx="487.5" cy="512.7"/><circle cx="606" cy="422.1"/><circle cx="570.2" cy="448.3"/><circle cx="544.2" cy="452.6"/><circle cx="590.1" cy="436.6"/><circle cx="453.2" cy="524.3"/><circle cx="794.9" cy="265.7"/><circle cx="580.9" cy="414.5"/><circle cx="535.9" cy="484.2"/><circle cx="696" cy="347.9"/><circle cx="675.1" cy="359.3"/><circle cx="422.1" cy="545.5"/><circle cx="661.6" cy="392.7"/><circle cx="570.4" cy="416.5"/><circle cx="544.2" cy="483.2"/><circle cx="509.7" cy="499.9"/><circle cx="494.9" cy="497.7"/><circle cx="669.7" cy="369.1"/><circle cx="644.3" cy="363"/><circle cx="632.1" cy="419.2"/><circle cx="652.8" cy="359.9"/><circle cx="560" cy="443.4"/><circle cx="509.4" cy="508.4"/><circle cx="642.1" cy="381.8"/><circle cx="583.2" cy="438.5"/><circle cx="543.4" cy="469.3"/><circle cx="626.6" cy="388.4"/><circle cx="455.1" cy="529.1"/><circle cx="795.9" cy="279.1"/><circle cx="659.3" cy="389.8"/><circle cx="641.9" cy="397.8"/><circle cx="635.7" cy="394.1"/><circle cx="505.9" cy="482.8"/><circle cx="429.2" cy="534.2"/><circle cx="673" cy="374.3"/><circle cx="664.3" cy="362.8"/><circle cx="514.8" cy="484.8"/><circle cx="650.6" cy="364.1"/><circle cx="610.9" cy="384.3"/><circle cx="638.5" cy="392.7"/><circle cx="480.1" cy="503.4"/><circle cx="695.7" cy="374"/><circle cx="690.2" cy="374.7"/><circle cx="625.7" cy="395.7"/><circle cx="661.6" cy="391.8"/><circle cx="609.5" cy="399"/><circle cx="644.3" cy="405.3"/><circle cx="534.7" cy="483.4"/><circle cx="657.1" cy="412.2"/><circle cx="603.1" cy="382.8"/><circle cx="612" cy="410.4"/><circle cx="584" cy="429.8"/><circle cx="636.5" cy="403.7"/><circle cx="577.7" cy="439.4"/><circle cx="652.2" cy="390.6"/><circle cx="625.7" cy="403.2"/><circle cx="666.2" cy="357.4"/><circle cx="657.5" cy="356"/><circle cx="576.3" cy="457.9"/><circle cx="586.5" cy="420.5"/><circle cx="714.2" cy="340.4"/><circle cx="689" cy="358.2"/><circle cx="661.1" cy="366.7"/><circle cx="521.5" cy="459.8"/><circle cx="625.5" cy="404.6"/><circle cx="524" cy="501.7"/><circle cx="666" cy="349.2"/><circle cx="495.5" cy="508.6"/><circle cx="671.6" cy="372.9"/><circle cx="582" cy="459"/><circle cx="566.5" cy="476.1"/><circle cx="725.6" cy="328.8"/><circle cx="699.5" cy="355.5"/><circle cx="653.7" cy="369.8"/><circle cx="617.6" cy="407.2"/><circle cx="582.4" cy="414.8"/><circle cx="716.6" cy="340.1"/><circle cx="671.2" cy="374.9"/><circle cx="536.2" cy="481.3"/><circle cx="625.1" cy="411.8"/><circle cx="553" cy="428.1"/><circle cx="573" cy="439.8"/><circle cx="427.2" cy="543.5"/><circle cx="631.3" cy="391.3"/><circle cx="565.8" cy="458.3"/><circle cx="807.6" cy="266"/><circle cx="531.5" cy="473"/><circle cx="600.1" cy="409.4"/><circle cx="606.2" cy="408.4"/><circle cx="706" cy="338.8"/><circle cx="477.9" cy="517.8"/><circle cx="786.4" cy="277.8"/><circle cx="548.5" cy="474.1"/><circle cx="652.3" cy="355.9"/><circle cx="579.2" cy="410.6"/><circle cx="566.5" cy="436.4"/><circle cx="556.3" cy="446.9"/><circle cx="389.8" cy="618.3"/><circle cx="675.9" cy="359.2"/><circle cx="629.7" cy="413.5"/><circle cx="645.7" cy="368.5"/><circle cx="661.5" cy="352.9"/><circle cx="624.9" cy="418.5"/><circle cx="561.2" cy="434.8"/><circle cx="640.6" cy="387"/><circle cx="564.5" cy="483.8"/><circle cx="505.1" cy="505.3"/><circle cx="507.6" cy="487.4"/><circle cx="669.1" cy="382.9"/><circle cx="585.9" cy="441.2"/><circle cx="695.5" cy="322.1"/><circle cx="575.7" cy="480.9"/><circle cx="650.1" cy="400.3"/><circle cx="797.3" cy="266.4"/><circle cx="645" cy="378"/><circle cx="485.1" cy="502.8"/><circle cx="671.4" cy="338.8"/><circle cx="558.2" cy="457.4"/><circle cx="616.9" cy="396.4"/><circle cx="664.9" cy="353.7"/><circle cx="681.4" cy="348.4"/><circle cx="608.9" cy="451.1"/><circle cx="673.5" cy="355.4"/><circle cx="551" cy="479.5"/><circle cx="648.9" cy="408.3"/><circle cx="697.4" cy="348.7"/><circle cx="740.1" cy="322.3"/><circle cx="783" cy="271.5"/><circle cx="661.5" cy="369.4"/><circle cx="594.6" cy="428.9"/><circle cx="461" cy="517.1"/><circle cx="504.3" cy="484.2"/><circle cx="547.3" cy="497.3"/><circle cx="573.8" cy="463.7"/><circle cx="735.2" cy="317.1"/><circle cx="641.7" cy="372.2"/><circle cx="685.6" cy="358.2"/><circle cx="489.6" cy="494.6"/><circle cx="531.6" cy="472.7"/><circle cx="726" cy="325.2"/><circle cx="592.6" cy="430.9"/><circle cx="668.3" cy="359.8"/><circle cx="533.1" cy="488"/><circle cx="746.3" cy="322.9"/><circle cx="687.4" cy="350"/><circle cx="567.3" cy="451.6"/><circle cx="525" cy="473.9"/><circle cx="480.2" cy="523.6"/><circle cx="656.8" cy="400.2"/><circle cx="652.5" cy="372.7"/><circle cx="690.3" cy="343.2"/><circle cx="694.3" cy="347.3"/><circle cx="730.4" cy="317.5"/><circle cx="458.2" cy="540.4"/><circle cx="587.2" cy="433.6"/><circle cx="668" cy="341.1"/><circle cx="557.1" cy="475.9"/><circle cx="668.7" cy="363.8"/><circle cx="519" cy="484.9"/><circle cx="777.9" cy="279.3"/><circle cx="483.3" cy="538"/><circle cx="584.4" cy="451.5"/><circle cx="566.1" cy="450.9"/><circle cx="423.5" cy="573.3"/><circle cx="699.3" cy="349.5"/><circle cx="649.2" cy="371.8"/><circle cx="539.6" cy="466"/><circle cx="715.7" cy="351.3"/><circle cx="598.5" cy="433.1"/><circle cx="566.2" cy="458.9"/><circle cx="587.4" cy="408.8"/><circle cx="602.4" cy="427.8"/><circle cx="422.2" cy="561.5"/><circle cx="652.2" cy="358.9"/><circle cx="525.7" cy="458.1"/><circle cx="629.9" cy="418"/><circle cx="604.4" cy="434.1"/><circle cx="629.6" cy="384.4"/><circle cx="702.3" cy="339.1"/><circle cx="591.8" cy="426.4"/><circle cx="703.3" cy="351.1"/><circle cx="695.9" cy="351.8"/><circle cx="563.9" cy="476"/><circle cx="703.3" cy="337.3"/><circle cx="582.5" cy="464.3"/><circle cx="599.5" cy="436"/><circle cx="547.3" cy="467.4"/><circle cx="559.2" cy="456.5"/><circle cx="613.3" cy="420.5"/><circle cx="673.5" cy="378.9"/><circle cx="598.7" cy="418.9"/><circle cx="519.8" cy="479.3"/><circle cx="623" cy="399.2"/><circle cx="712.6" cy="331"/><circle cx="512.4" cy="507.3"/><circle cx="620.3" cy="417.4"/><circle cx="528.1" cy="452.9"/><circle cx="653.1" cy="373.2"/><circle cx="680.9" cy="343.4"/><circle cx="689.4" cy="350.6"/><circle cx="645.9" cy="379.9"/><circle cx="590.7" cy="417.4"/><circle cx="707.7" cy="347.1"/><circle cx="585.3" cy="426.8"/><circle cx="532.7" cy="478.8"/><circle cx="711.9" cy="333.2"/><circle cx="664" cy="382.6"/><circle cx="450.2" cy="552.9"/><circle cx="605.9" cy="412.8"/><circle cx="441.5" cy="556.4"/><circle cx="575.9" cy="444"/><circle cx="539.6" cy="493.5"/><circle cx="589" cy="418.4"/><circle cx="645.3" cy="390"/><circle cx="478.3" cy="521.1"/><circle cx="735.5" cy="315.2"/><circle cx="727.2" cy="347.2"/><circle cx="632" cy="401.7"/><circle cx="579.9" cy="456.1"/><circle cx="547.7" cy="482.3"/><circle cx="611.7" cy="417.4"/><circle cx="588.2" cy="437.3"/><circle cx="638.1" cy="379.7"/><circle cx="633.8" cy="384.6"/><circle cx="633.7" cy="397"/><circle cx="584.5" cy="406.7"/><circle cx="742.7" cy="321.5"/><circle cx="699" cy="330.8"/><circle cx="684.3" cy="364.1"/><circle cx="718.4" cy="342.6"/><circle cx="598.8" cy="413.8"/><circle cx="545.8" cy="453.2"/><circle cx="558.1" cy="431.4"/><circle cx="680.4" cy="369.2"/><circle cx="794.5" cy="269.1"/><circle cx="667.1" cy="377"/><circle cx="508.7" cy="483.2"/><circle cx="740.6" cy="314.1"/><circle cx="722.4" cy="339.2"/><circle cx="712.2" cy="336.4"/><circle cx="637" cy="405.2"/><circle cx="654.3" cy="398.8"/><circle cx="618.2" cy="410.2"/><circle cx="351" cy="638.2"/><circle cx="689.8" cy="366.7"/><circle cx="486.6" cy="529.8"/><circle cx="614" cy="432.4"/><circle cx="706" cy="314.7"/><circle cx="762.3" cy="297.9"/><circle cx="600" cy="419.5"/><circle cx="750.3" cy="327.9"/><circle cx="635.5" cy="397.1"/><circle cx="684.3" cy="365.6"/><circle cx="593.9" cy="460.3"/><circle cx="699.4" cy="317"/><circle cx="637.4" cy="387.4"/><circle cx="533.8" cy="440.2"/><circle cx="669.2" cy="395"/><circle cx="823" cy="250.1"/><circle cx="534.5" cy="513.1"/><circle cx="564.2" cy="448"/><circle cx="601.9" cy="430.3"/><circle cx="727" cy="332.8"/><circle cx="592.8" cy="398.2"/><circle cx="699.4" cy="341.7"/><circle cx="620.6" cy="411.4"/><circle cx="608.5" cy="392.7"/><circle cx="560.5" cy="445.2"/><circle cx="585.1" cy="453.8"/><circle cx="590" cy="439.1"/><circle cx="498.7" cy="486.6"/><circle cx="646.7" cy="370.9"/><circle cx="601.4" cy="429.5"/><circle cx="636.5" cy="371.6"/><circle cx="668.6" cy="358.1"/><circle cx="480.8" cy="518"/><circle cx="745.4" cy="319.9"/><circle cx="744" cy="304.7"/><circle cx="475.1" cy="519.2"/><circle cx="591.9" cy="431.4"/><circle cx="735.9" cy="312.5"/><circle cx="761.8" cy="294.9"/><circle cx="554.4" cy="484.2"/><circle cx="613.9" cy="438.6"/><circle cx="709.8" cy="342.9"/><circle cx="459" cy="541.6"/><circle cx="631.9" cy="401.3"/><circle cx="606" cy="440"/><circle cx="640" cy="386.2"/><circle cx="554.1" cy="476.1"/><circle cx="574.3" cy="456.7"/><circle cx="608.6" cy="444.4"/><circle cx="353.6" cy="642.1"/><circle cx="572.2" cy="438.8"/><circle cx="599.4" cy="430"/><circle cx="604.9" cy="424.9"/><circle cx="559.3" cy="441.2"/><circle cx="437.3" cy="545.1"/><circle cx="605.3" cy="399.5"/><circle cx="574.7" cy="417.1"/><circle cx="613.5" cy="421.9"/><circle cx="573.8" cy="422.8"/><circle cx="452.3" cy="543.8"/><circle cx="570.4" cy="435.3"/><circle cx="630" cy="415.5"/><circle cx="630.6" cy="404.4"/><circle cx="590.8" cy="437.1"/><circle cx="416.6" cy="586"/><circle cx="601.8" cy="423.3"/><circle cx="709.3" cy="324.6"/><circle cx="684" cy="358.6"/><circle cx="538.3" cy="478.2"/><circle cx="627.2" cy="399.8"/><circle cx="760.8" cy="300.8"/><circle cx="576.9" cy="420.7"/><circle cx="513.7" cy="495.4"/><circle cx="512.9" cy="478.1"/><circle cx="569.5" cy="432.6"/><circle cx="643.1" cy="400.7"/><circle cx="655.6" cy="408.9"/><circle cx="644.6" cy="407.8"/><circle cx="663.2" cy="352.1"/><circle cx="544.7" cy="491.1"/><circle cx="538.9" cy="474.9"/><circle cx="557.6" cy="444.7"/><circle cx="689.9" cy="362.6"/><circle cx="599" cy="430.1"/><circle cx="680.6" cy="367.9"/><circle cx="597.9" cy="404.7"/><circle cx="651.4" cy="418.3"/><circle cx="644.9" cy="385.5"/><circle cx="620.4" cy="422"/><circle cx="692.8" cy="329.5"/><circle cx="604.9" cy="398.6"/><circle cx="472.9" cy="535.5"/><circle cx="656.8" cy="391.8"/><circle cx="583.5" cy="425"/><circle cx="721.9" cy="337.1"/><circle cx="690" cy="344.7"/><circle cx="575.9" cy="432.9"/><circle cx="545.1" cy="455.3"/><circle cx="528.7" cy="463"/><circle cx="768.8" cy="279.5"/><circle cx="470.1" cy="529.1"/><circle cx="733.2" cy="331.4"/><circle cx="648.5" cy="395.9"/><circle cx="540.7" cy="507.5"/><circle cx="650.7" cy="379.8"/><circle cx="701" cy="349.9"/><circle cx="551.3" cy="448.3"/><circle cx="642.7" cy="390.5"/><circle cx="571.4" cy="461.6"/><circle cx="602.7" cy="425.5"/><circle cx="617.9" cy="393.4"/><circle cx="639.6" cy="375.2"/><circle cx="608" cy="406.2"/><circle cx="608.4" cy="397.2"/><circle cx="535.6" cy="454.1"/><circle cx="704.4" cy="344.4"/><circle cx="693" cy="334"/><circle cx="626.2" cy="388.1"/><circle cx="667.2" cy="376.8"/><circle cx="565" cy="420"/><circle cx="606.6" cy="426.9"/><circle cx="481.8" cy="501.8"/><circle cx="632.8" cy="373.9"/><circle cx="501.7" cy="496.3"/><circle cx="635.6" cy="385.8"/><circle cx="598.2" cy="418.6"/><circle cx="725.7" cy="341.3"/><circle cx="673.2" cy="367"/><circle cx="524.6" cy="457.4"/><circle cx="749.9" cy="301.6"/><circle cx="613.2" cy="417.9"/><circle cx="591" cy="433.8"/><circle cx="560.2" cy="437.2"/><circle cx="503.9" cy="491.5"/><circle cx="599.1" cy="412.5"/><circle cx="639.4" cy="371.2"/><circle cx="576.3" cy="439.9"/><circle cx="586.3" cy="422.6"/><circle cx="680.6" cy="357.5"/><circle cx="599.2" cy="424.2"/><circle cx="507.7" cy="485.8"/><circle cx="499.5" cy="526.6"/><circle cx="635.7" cy="380.8"/><circle cx="846.1" cy="224.9"/><circle cx="523" cy="480"/><circle cx="598.2" cy="425.2"/><circle cx="670.2" cy="388.2"/><circle cx="622.7" cy="386.4"/><circle cx="626.9" cy="412.8"/><circle cx="730.7" cy="309.3"/><circle cx="775.5" cy="290.3"/><circle cx="504.7" cy="478.9"/><circle cx="673.8" cy="361.7"/><circle cx="632.2" cy="385.1"/><circle cx="542.3" cy="460.8"/><circle cx="483.5" cy="532.4"/><circle cx="549.8" cy="479.1"/><circle cx="571.6" cy="444.3"/><circle cx="679.7" cy="351.8"/><circle cx="465.4" cy="546.2"/><circle cx="633.1" cy="377.2"/><circle cx="554.6" cy="434.3"/><circle cx="609" cy="412.9"/><circle cx="622.2" cy="402"/><circle cx="453.7" cy="543.1"/><circle cx="569" cy="446.6"/><circle cx="539.5" cy="456.9"/><circle cx="682.5" cy="352.9"/><circle cx="700.4" cy="336"/><circle cx="546.1" cy="480.2"/><circle cx="565.6" cy="436.7"/><circle cx="487.1" cy="494.8"/><circle cx="611.3" cy="409.7"/><circle cx="690.7" cy="344.3"/><circle cx="466.9" cy="535"/><circle cx="584.2" cy="401.2"/><circle cx="648.6" cy="396.9"/><circle cx="582" cy="440.7"/><circle cx="500" cy="496.7"/><circle cx="646.4" cy="375.7"/><circle cx="655.6" cy="385.2"/><circle cx="521.8" cy="479.4"/><circle cx="466.7" cy="536.3"/><circle cx="597.7" cy="453.9"/><circle cx="542.3" cy="468.7"/><circle cx="774.7" cy="295.6"/><circle cx="717" cy="338.9"/><circle cx="628.4" cy="389.1"/><circle cx="631" cy="418.3"/><circle cx="581" cy="449.5"/><circle cx="479.6" cy="504.4"/><circle cx="670.6" cy="372.4"/><circle cx="529.5" cy="507.4"/><circle cx="456.1" cy="554.5"/><circle cx="642" cy="401.5"/><circle cx="592.2" cy="421.1"/><circle cx="383.5" cy="599.7"/><circle cx="614.3" cy="417.7"/><circle cx="589.9" cy="418.3"/><circle cx="458.7" cy="505.8"/><circle cx="647.9" cy="410.7"/><circle cx="662.5" cy="363.6"/><circle cx="650.1" cy="357"/><circle cx="816.6" cy="258.1"/><circle cx="541.5" cy="465.5"/><circle cx="615.1" cy="395"/><circle cx="656.7" cy="360.9"/><circle cx="683.6" cy="372.6"/><circle cx="701.1" cy="340.2"/><circle cx="390.4" cy="572"/><circle cx="512.7" cy="497.9"/><circle cx="496.2" cy="505.9"/><circle cx="536.1" cy="462.6"/><circle cx="642.4" cy="377.8"/><circle cx="545.4" cy="454.3"/><circle cx="454.2" cy="539.1"/><circle cx="573.4" cy="434.7"/><circle cx="582.9" cy="416.8"/><circle cx="624.5" cy="418.6"/><circle cx="654.3" cy="401.5"/><circle cx="568.8" cy="443.9"/><circle cx="616.8" cy="408.3"/><circle cx="598.2" cy="440.4"/><circle cx="541.9" cy="457.5"/><circle cx="657.6" cy="383.2"/><circle cx="728.8" cy="336.8"/><circle cx="727.2" cy="321"/><circle cx="648.2" cy="353.2"/><circle cx="629.7" cy="378.6"/><circle cx="484" cy="504.7"/><circle cx="552.7" cy="459.1"/><circle cx="584.8" cy="406.3"/><circle cx="638.9" cy="367.7"/><circle cx="532.6" cy="482.2"/><circle cx="706.1" cy="366.9"/><circle cx="748.1" cy="314.1"/><circle cx="587.4" cy="429.6"/><circle cx="598.6" cy="442.7"/><circle cx="594.6" cy="445.1"/><circle cx="561.6" cy="469.6"/><circle cx="596.8" cy="404.3"/><circle cx="599.4" cy="454.4"/><circle cx="674.6" cy="344.1"/><circle cx="588.9" cy="425.5"/><circle cx="576" cy="402.9"/><circle cx="657.5" cy="382.6"/><circle cx="586.4" cy="429.4"/><circle cx="615.5" cy="420"/><circle cx="794.3" cy="267.7"/><circle cx="619.5" cy="385.5"/><circle cx="595.9" cy="424"/><circle cx="560.6" cy="429.3"/><circle cx="744.3" cy="332.4"/><circle cx="563.3" cy="423.2"/><circle cx="589.6" cy="441.2"/><circle cx="620.9" cy="386.4"/><circle cx="508.1" cy="483.6"/><circle cx="651.1" cy="373.1"/><circle cx="519.3" cy="498.2"/><circle cx="678.3" cy="362.1"/><circle cx="605.9" cy="419.3"/><circle cx="570.7" cy="422.2"/><circle cx="690.9" cy="363.4"/><circle cx="608.2" cy="410.8"/><circle cx="717.5" cy="326.1"/><circle cx="594.7" cy="450.7"/><circle cx="579.2" cy="454.3"/><circle cx="550.8" cy="462.2"/><circle cx="665.7" cy="383.4"/><circle cx="607" cy="396.8"/><circle cx="637.6" cy="389.9"/><circle cx="569.5" cy="449.7"/><circle cx="536.6" cy="466.1"/><circle cx="379.3" cy="593.8"/><circle cx="501.4" cy="499.9"/><circle cx="586" cy="414"/><circle cx="654.5" cy="378.3"/><circle cx="660.9" cy="393.3"/><circle cx="618.6" cy="415.8"/><circle cx="349.6" cy="635.5"/><circle cx="559" cy="445.6"/><circle cx="706.7" cy="366.3"/><circle cx="503.5" cy="501.5"/><circle cx="618" cy="389.9"/><circle cx="578.4" cy="476.6"/><circle cx="562.4" cy="488"/><circle cx="678.8" cy="363.1"/><circle cx="723.8" cy="334.5"/><circle cx="548.2" cy="471.1"/><circle cx="611.9" cy="415.9"/><circle cx="624.4" cy="416.6"/><circle cx="631.5" cy="387"/><circle cx="450.4" cy="531.1"/><circle cx="415.9" cy="554"/><circle cx="640" cy="398.3"/><circle cx="494" cy="508.8"/><circle cx="582.8" cy="435.2"/><circle cx="632.7" cy="413.4"/><circle cx="594.6" cy="418.7"/><circle cx="553.3" cy="457.1"/><circle cx="705.1" cy="347.9"/><circle cx="586.6" cy="466.2"/><circle cx="574.2" cy="475.7"/><circle cx="720.5" cy="338.3"/><circle cx="552.7" cy="462.6"/><circle cx="561.3" cy="465.1"/><circle cx="708" cy="325.1"/><circle cx="821.8" cy="248.8"/><circle cx="694.2" cy="363.8"/><circle cx="546.2" cy="465.1"/><circle cx="687.4" cy="336.1"/><circle cx="543" cy="479.7"/><circle cx="519.6" cy="479.5"/><circle cx="610.7" cy="414.3"/><circle cx="470.6" cy="515.5"/><circle cx="510.7" cy="497.9"/><circle cx="536.8" cy="451.5"/><circle cx="583.8" cy="431"/><circle cx="645.4" cy="399.1"/><circle cx="677.5" cy="359.8"/><circle cx="584.9" cy="429.7"/><circle cx="567.7" cy="470.5"/><circle cx="699.9" cy="344.1"/><circle cx="649.7" cy="380.1"/><circle cx="552.8" cy="444.2"/><circle cx="722.2" cy="332.3"/><circle cx="715.7" cy="345.7"/><circle cx="680.6" cy="365.3"/><circle cx="669.5" cy="362.8"/><circle cx="642.9" cy="398.1"/><circle cx="759.3" cy="299.8"/><circle cx="529.9" cy="473"/><circle cx="686.4" cy="342.2"/><circle cx="623.6" cy="411"/><circle cx="634.8" cy="396.1"/><circle cx="658.6" cy="398.7"/><circle cx="621.3" cy="394.8"/><circle cx="402.2" cy="586"/><circle cx="580.8" cy="446.1"/><circle cx="551.7" cy="453"/><circle cx="755.1" cy="299.6"/><circle cx="640.8" cy="386.8"/><circle cx="646.8" cy="393"/><circle cx="528.6" cy="488.1"/><circle cx="612.1" cy="388.6"/><circle cx="666.8" cy="358.1"/><circle cx="742.1" cy="312.3"/><circle cx="693.4" cy="360.8"/><circle cx="484.3" cy="521"/><circle cx="639.5" cy="402.4"/><circle cx="598" cy="412.4"/><circle cx="556.2" cy="453.1"/><circle cx="534.5" cy="450.9"/><circle cx="699.3" cy="347.2"/><circle cx="671.4" cy="395.6"/><circle cx="603.2" cy="405.1"/><circle cx="688.8" cy="363"/><circle cx="719" cy="336.6"/><circle cx="567.5" cy="454.4"/><circle cx="605.9" cy="433.2"/><circle cx="719.9" cy="334.1"/><circle cx="577.8" cy="449.1"/><circle cx="642.5" cy="375.3"/><circle cx="589.7" cy="413.3"/><circle cx="377" cy="610.7"/><circle cx="661.3" cy="375.8"/><circle cx="618.3" cy="410.4"/><circle cx="685.6" cy="374.7"/><circle cx="568.8" cy="426.7"/><circle cx="632.3" cy="396.7"/><circle cx="608" cy="436"/><circle cx="572" cy="424.7"/><circle cx="771.8" cy="281.5"/><circle cx="687.6" cy="330.6"/><circle cx="588.2" cy="443.2"/><circle cx="708.9" cy="344.6"/><circle cx="546.6" cy="440.9"/><circle cx="594" cy="447.3"/><circle cx="607.1" cy="409.1"/><circle cx="569.6" cy="441.4"/><circle cx="581.2" cy="445.9"/><circle cx="693.2" cy="361.7"/><circle cx="663.1" cy="359.4"/><circle cx="659.9" cy="380.6"/><circle cx="518.5" cy="486.2"/><circle cx="742.4" cy="327.9"/><circle cx="640.5" cy="379"/><circle cx="533.1" cy="499"/><circle cx="685.4" cy="332.5"/><circle cx="509" cy="505.6"/><circle cx="636.4" cy="419.7"/><circle cx="757.6" cy="307.2"/><circle cx="724.2" cy="342.3"/><circle cx="666.9" cy="387.2"/><circle cx="449" cy="517.6"/><circle cx="537.2" cy="462.5"/><circle cx="550.5" cy="482.2"/><circle cx="574.8" cy="447.5"/><circle cx="648.2" cy="383.2"/><circle cx="704" cy="361.2"/><circle cx="650.6" cy="391.4"/><circle cx="501.2" cy="469.2"/><circle cx="719.4" cy="317.1"/><circle cx="613.5" cy="413.1"/><circle cx="660.4" cy="370"/><circle cx="581.6" cy="421.1"/><circle cx="582.9" cy="432.5"/><circle cx="679" cy="355.7"/><circle cx="689.8" cy="377.5"/><circle cx="793.9" cy="269.9"/><circle cx="584.7" cy="433.6"/><circle cx="434.5" cy="548.8"/><circle cx="602.8" cy="412.6"/><circle cx="710.4" cy="337.6"/><circle cx="613.6" cy="408.5"/><circle cx="499.3" cy="503.9"/><circle cx="614.9" cy="409.4"/><circle cx="700.6" cy="334.6"/><circle cx="696.4" cy="351.2"/><circle cx="618.1" cy="389.6"/><circle cx="522.6" cy="492.5"/><circle cx="752.1" cy="322.1"/><circle cx="352.1" cy="627.9"/><circle cx="646.4" cy="387.7"/><circle cx="541.6" cy="505.3"/><circle cx="682" cy="358.2"/><circle cx="480.2" cy="502.4"/><circle cx="640.6" cy="397.2"/><circle cx="664.8" cy="358.8"/><circle cx="356" cy="635.8"/><circle cx="707" cy="325"/><circle cx="670.3" cy="370.2"/><circle cx="554.6" cy="463.5"/><circle cx="593.8" cy="447"/><circle cx="652.8" cy="388.4"/><circle cx="651.6" cy="364.9"/><circle cx="611.9" cy="416.6"/><circle cx="588.7" cy="433.5"/><circle cx="720.5" cy="348"/><circle cx="657.4" cy="372.1"/><circle cx="460.8" cy="530.8"/><circle cx="740.4" cy="318.6"/><circle cx="637.1" cy="389.7"/><circle cx="588.2" cy="415.2"/><circle cx="581.1" cy="425.7"/><circle cx="722.4" cy="329.7"/><circle cx="650.4" cy="383.3"/><circle cx="533.1" cy="460.7"/><circle cx="606.4" cy="413.7"/><circle cx="669.4" cy="370.3"/><circle cx="621.7" cy="379.5"/><circle cx="579.3" cy="405.7"/><circle cx="621.7" cy="376.4"/><circle cx="554.9" cy="461.9"/><circle cx="545.3" cy="468"/><circle cx="630.2" cy="368.4"/><circle cx="565.6" cy="461.4"/><circle cx="524.2" cy="497.9"/><circle cx="670.9" cy="368.2"/><circle cx="617.3" cy="414.2"/><circle cx="505.7" cy="504.4"/><circle cx="560.5" cy="443.6"/><circle cx="785.1" cy="288.7"/><circle cx="577.2" cy="425.4"/><circle cx="590.6" cy="423.1"/><circle cx="701.6" cy="314"/><circle cx="592.1" cy="441.2"/><circle cx="763.2" cy="290.1"/><circle cx="591.9" cy="457"/><circle cx="694.9" cy="328.6"/><circle cx="763.1" cy="310.7"/><circle cx="643.4" cy="352.4"/><circle cx="545.6" cy="462.6"/><circle cx="739.9" cy="313.8"/><circle cx="722.2" cy="322.9"/><circle cx="574" cy="467.8"/><circle cx="789.7" cy="267.2"/><circle cx="699.6" cy="341.3"/><circle cx="747.5" cy="308.5"/><circle cx="558.5" cy="454"/><circle cx="528.5" cy="474.4"/><circle cx="435.5" cy="560.6"/><circle cx="629.3" cy="394.3"/><circle cx="408" cy="601.7"/><circle cx="514.2" cy="478.2"/><circle cx="434" cy="553.6"/><circle cx="589.9" cy="437.8"/><circle cx="572.7" cy="453.1"/><circle cx="574.6" cy="465.8"/><circle cx="561" cy="443.9"/><circle cx="493.1" cy="524.1"/><circle cx="594" cy="426"/><circle cx="691.9" cy="327.1"/><circle cx="593.9" cy="440.8"/><circle cx="688.6" cy="336.7"/><circle cx="688.1" cy="347.5"/><circle cx="559.1" cy="462.3"/><circle cx="675.9" cy="355.5"/><circle cx="549" cy="447.8"/><circle cx="633.7" cy="403.2"/><circle cx="707.7" cy="351.3"/><circle cx="597.6" cy="414"/><circle cx="644" cy="381.9"/><circle cx="650.4" cy="388.7"/><circle cx="653.4" cy="381.4"/><circle cx="555.7" cy="452.7"/><circle cx="733.5" cy="338.7"/><circle cx="631.8" cy="391.5"/><circle cx="514" cy="476.7"/><circle cx="587.6" cy="425.3"/><circle cx="496.3" cy="511.5"/><circle cx="676.9" cy="352.7"/><circle cx="569.4" cy="430.6"/><circle cx="618.7" cy="381.4"/><circle cx="591.8" cy="462.5"/><circle cx="587.6" cy="440.6"/><circle cx="669.8" cy="351"/><circle cx="706.1" cy="346.2"/><circle cx="540.3" cy="475.7"/><circle cx="761.1" cy="308.1"/><circle cx="635.8" cy="378.2"/><circle cx="795.5" cy="275.6"/><circle cx="622.2" cy="416.3"/><circle cx="682.1" cy="342.8"/><circle cx="586.7" cy="435.1"/><circle cx="775.9" cy="287"/><circle cx="562.9" cy="456"/><circle cx="680.1" cy="330.4"/><circle cx="624.4" cy="405.6"/><circle cx="643.8" cy="381.4"/><circle cx="626.1" cy="413.6"/><circle cx="708" cy="341"/><circle cx="607.4" cy="406.1"/><circle cx="652.3" cy="365.9"/><circle cx="756.5" cy="298.1"/><circle cx="509.1" cy="498.7"/><circle cx="687.6" cy="353.5"/><circle cx="559.1" cy="431.5"/><circle cx="581.2" cy="462.1"/><circle cx="674.1" cy="376.6"/><circle cx="593.6" cy="427.8"/><circle cx="517.8" cy="489.9"/><circle cx="626.2" cy="409.2"/><circle cx="645.6" cy="389.6"/><circle cx="625.8" cy="397.4"/><circle cx="753.7" cy="313.7"/><circle cx="577.8" cy="436.7"/><circle cx="634.8" cy="389.4"/><circle cx="598" cy="424.1"/><circle cx="601.4" cy="419"/><circle cx="591.8" cy="431"/><circle cx="612.6" cy="403.1"/><circle cx="655.4" cy="386"/><circle cx="641.4" cy="402.9"/><circle cx="736.2" cy="301.2"/><circle cx="680.8" cy="356.1"/><circle cx="588.9" cy="406.5"/><circle cx="642.8" cy="377.2"/><circle cx="706.3" cy="322.4"/><circle cx="610.8" cy="415.9"/><circle cx="492.2" cy="499.8"/><circle cx="802.1" cy="268.2"/><circle cx="510.5" cy="488.7"/><circle cx="577.4" cy="433.4"/><circle cx="596.3" cy="415.1"/><circle cx="613.7" cy="397"/><circle cx="506.9" cy="512.4"/><circle cx="746.4" cy="295.2"/><circle cx="743.6" cy="323"/><circle cx="639.3" cy="387.5"/><circle cx="496.7" cy="485.5"/><circle cx="598.3" cy="424.6"/><circle cx="566.2" cy="438.2"/><circle cx="570.2" cy="434.4"/><circle cx="569.9" cy="465.9"/><circle cx="607.3" cy="425.5"/><circle cx="596" cy="421.4"/><circle cx="385.8" cy="593.9"/><circle cx="501.8" cy="493"/><circle cx="592.1" cy="453.2"/><circle cx="651.9" cy="367.8"/><circle cx="581.3" cy="422.7"/><circle cx="600.6" cy="423.3"/><circle cx="492.8" cy="526"/><circle cx="605.4" cy="394"/><circle cx="652.6" cy="377.4"/><circle cx="656.1" cy="373.2"/><circle cx="605.7" cy="426.6"/><circle cx="542.1" cy="503.3"/><circle cx="625.7" cy="413.5"/><circle cx="672" cy="359.4"/><circle cx="527.7" cy="466.6"/><circle cx="558.5" cy="455.2"/><circle cx="609" cy="428.2"/><circle cx="597.3" cy="434.6"/><circle cx="745.9" cy="303.2"/><circle cx="551.8" cy="485.1"/><circle cx="591.7" cy="409.4"/><circle cx="611" cy="429.7"/><circle cx="720.3" cy="334.4"/><circle cx="685.1" cy="348.2"/><circle cx="708.8" cy="350.4"/><circle cx="533.1" cy="457.4"/><circle cx="554.3" cy="443.3"/><circle cx="651.8" cy="386.4"/><circle cx="645.4" cy="415.8"/><circle cx="474.7" cy="538.1"/><circle cx="539.9" cy="459"/><circle cx="594.6" cy="453.2"/><circle cx="541.8" cy="507.2"/><circle cx="590.1" cy="434.2"/><circle cx="603.4" cy="420.3"/><circle cx="667.6" cy="354.4"/><circle cx="580.4" cy="420.1"/><circle cx="565.3" cy="426.2"/><circle cx="581.2" cy="420.3"/><circle cx="604.7" cy="391.9"/><circle cx="702.5" cy="338.9"/><circle cx="499.6" cy="490.5"/><circle cx="556.4" cy="449.3"/><circle cx="606.2" cy="422.9"/><circle cx="525.1" cy="464.2"/><circle cx="595.8" cy="412.7"/><circle cx="604" cy="419.6"/><circle cx="595.1" cy="465.7"/><circle cx="577" cy="453.6"/><circle cx="554.1" cy="425.8"/><circle cx="577.4" cy="450.3"/><circle cx="694.6" cy="355.1"/><circle cx="581" cy="431.5"/><circle cx="645.6" cy="371.9"/><circle cx="587.5" cy="436.7"/><circle cx="632.3" cy="425.7"/><circle cx="582.7" cy="451"/><circle cx="756.4" cy="297.5"/><circle cx="486.2" cy="508.4"/><circle cx="740.6" cy="318.5"/><circle cx="639.9" cy="397.4"/><circle cx="620.5" cy="427.6"/><circle cx="642.7" cy="388.3"/><circle cx="487" cy="509.6"/><circle cx="561" cy="442.5"/><circle cx="540.7" cy="462.4"/><circle cx="597.4" cy="412.3"/><circle cx="609.6" cy="400.4"/><circle cx="655.5" cy="352.7"/><circle cx="627.5" cy="388.7"/><circle cx="601.8" cy="427.7"/><circle cx="631.8" cy="414.8"/><circle cx="618.2" cy="404.8"/><circle cx="697.5" cy="369.9"/><circle cx="643.8" cy="411.3"/><circle cx="561.3" cy="418.6"/><circle cx="574.1" cy="444.9"/><circle cx="557.5" cy="457.4"/><circle cx="646.8" cy="394.9"/><circle cx="540.3" cy="488"/><circle cx="680.4" cy="354.1"/><circle cx="603.5" cy="435.6"/><circle cx="681.6" cy="333.2"/><circle cx="612.8" cy="421.2"/><circle cx="613.5" cy="390.3"/><circle cx="624.4" cy="381.6"/><circle cx="710.7" cy="347.5"/><circle cx="477.8" cy="509.9"/><circle cx="739.9" cy="320.4"/><circle cx="431.7" cy="554.9"/><circle cx="625.9" cy="405.2"/><circle cx="622.6" cy="396.8"/><circle cx="555.7" cy="478.1"/><circle cx="579.5" cy="459.4"/><circle cx="590.3" cy="431.5"/><circle cx="595.6" cy="423.6"/><circle cx="580.3" cy="425.1"/><circle cx="575.3" cy="425.7"/><circle cx="782" cy="272.6"/><circle cx="701.8" cy="326.7"/><circle cx="502.8" cy="497.7"/><circle cx="708.9" cy="353.3"/><circle cx="505.5" cy="490.4"/><circle cx="654.7" cy="386.6"/><circle cx="610.2" cy="421.8"/><circle cx="571.5" cy="432.1"/><circle cx="638.4" cy="402.6"/><circle cx="493.5" cy="506.9"/><circle cx="579.1" cy="463.4"/><circle cx="629.6" cy="420.2"/><circle cx="561.6" cy="448"/><circle cx="716.3" cy="329.2"/><circle cx="725.7" cy="344.9"/><circle cx="640.7" cy="374.8"/><circle cx="561.8" cy="484.3"/><circle cx="714.1" cy="349.8"/><circle cx="494.7" cy="499.9"/><circle cx="545" cy="464"/><circle cx="625.1" cy="416.3"/><circle cx="659.6" cy="358.2"/><circle cx="583.7" cy="418.6"/><circle cx="721.9" cy="338.5"/><circle cx="537.5" cy="477"/><circle cx="554.6" cy="464.9"/><circle cx="612.3" cy="415.8"/><circle cx="749.1" cy="302.2"/><circle cx="624.3" cy="419.5"/><circle cx="525.4" cy="490.9"/><circle cx="541.2" cy="461.1"/><circle cx="572.8" cy="427.9"/><circle cx="550.9" cy="468.5"/><circle cx="627.7" cy="393"/><circle cx="731.6" cy="311.5"/><circle cx="573.3" cy="432.4"/><circle cx="607.6" cy="439"/><circle cx="525.5" cy="478.3"/><circle cx="661.8" cy="378.2"/><circle cx="698.1" cy="328.3"/><circle cx="552.5" cy="438.2"/><circle cx="581.3" cy="407.3"/><circle cx="547.1" cy="465.7"/><circle cx="558.9" cy="443.9"/><circle cx="690.1" cy="324.5"/><circle cx="666.1" cy="406.1"/><circle cx="567" cy="449.2"/><circle cx="620.5" cy="391.9"/><circle cx="517.3" cy="503.9"/><circle cx="519.6" cy="492.4"/><circle cx="621.8" cy="410.1"/><circle cx="706.5" cy="359.2"/><circle cx="598.5" cy="419.9"/><circle cx="604" cy="431.7"/><circle cx="627.4" cy="385.1"/><circle cx="632.5" cy="377.8"/><circle cx="635.8" cy="376.7"/><circle cx="523.9" cy="486.6"/><circle cx="689.1" cy="353.9"/><circle cx="556.6" cy="447.9"/><circle cx="610.1" cy="420.6"/><circle cx="545.1" cy="484"/><circle cx="528.3" cy="456.9"/><circle cx="565.1" cy="460.3"/><circle cx="650.3" cy="398.1"/><circle cx="645.1" cy="392.3"/><circle cx="619.5" cy="414.9"/><circle cx="734.6" cy="314.8"/><circle cx="780.9" cy="271.9"/><circle cx="566.7" cy="467.4"/><circle cx="611.9" cy="399"/><circle cx="599.4" cy="432.4"/><circle cx="653.1" cy="404.2"/><circle cx="708.1" cy="352.5"/><circle cx="566.2" cy="452.4"/><circle cx="567.8" cy="451.3"/><circle cx="463.8" cy="551.8"/><circle cx="661.6" cy="395.4"/><circle cx="594.7" cy="409.7"/><circle cx="417.5" cy="543.4"/><circle cx="705.2" cy="345.4"/><circle cx="640.8" cy="399.5"/><circle cx="593.1" cy="428.4"/><circle cx="554.3" cy="459.7"/><circle cx="468.3" cy="521.5"/><circle cx="439.2" cy="554.7"/><circle cx="658.9" cy="352.2"/><circle cx="612.6" cy="420.4"/><circle cx="528.5" cy="493.9"/><circle cx="513.7" cy="499.6"/><circle cx="665.8" cy="355.9"/><circle cx="746.7" cy="304.1"/><circle cx="615.7" cy="413.4"/><circle cx="610.2" cy="411.7"/><circle cx="461.3" cy="538.4"/><circle cx="676.1" cy="368.6"/><circle cx="619.6" cy="388.9"/><circle cx="590.5" cy="437.4"/><circle cx="636.1" cy="432.3"/><circle cx="715.2" cy="328.7"/><circle cx="840.4" cy="225.9"/><circle cx="559.8" cy="459.2"/><circle cx="484.1" cy="519.2"/><circle cx="511.6" cy="508.5"/><circle cx="650.7" cy="393"/><circle cx="585.9" cy="450.3"/><circle cx="557.4" cy="449.4"/><circle cx="414.9" cy="588.7"/><circle cx="625" cy="413.7"/><circle cx="697" cy="363.9"/><circle cx="583.2" cy="458.8"/><circle cx="562.7" cy="437.9"/><circle cx="562.7" cy="435.6"/><circle cx="626.4" cy="392.5"/><circle cx="694.1" cy="368.6"/><circle cx="658.3" cy="382.4"/><circle cx="682.2" cy="339.3"/><circle cx="624.2" cy="399.2"/><circle cx="541.6" cy="443.8"/><circle cx="507.8" cy="529.6"/><circle cx="548.3" cy="472.9"/><circle cx="555.4" cy="438.3"/><circle cx="594.1" cy="434.1"/><circle cx="621.7" cy="412"/><circle cx="606.5" cy="394.6"/><circle cx="568" cy="441.8"/><circle cx="597.6" cy="436.5"/><circle cx="576.5" cy="454.5"/><circle cx="592.2" cy="439.5"/><circle cx="539.7" cy="453"/><circle cx="620" cy="418.1"/><circle cx="440.4" cy="579.9"/><circle cx="605.1" cy="404.6"/><circle cx="521.1" cy="471.8"/><circle cx="651.6" cy="368.6"/><circle cx="548.2" cy="470.3"/><circle cx="566.7" cy="446.7"/><circle cx="581.6" cy="467.5"/><circle cx="408.3" cy="602.7"/><circle cx="445.7" cy="558.8"/><circle cx="543" cy="473.6"/><circle cx="698.3" cy="327.6"/><circle cx="734.8" cy="315.6"/><circle cx="414.9" cy="572.5"/><circle cx="715.7" cy="353.7"/><circle cx="687.8" cy="355.8"/><circle cx="660.9" cy="394.3"/><circle cx="720.1" cy="335.4"/><circle cx="597.8" cy="436"/><circle cx="581" cy="431.1"/><circle cx="364.9" cy="595.8"/><circle cx="713.6" cy="345.6"/><circle cx="741.8" cy="325"/><circle cx="544.3" cy="436.2"/><circle cx="604.7" cy="410.7"/><circle cx="584.5" cy="433.8"/><circle cx="516.4" cy="500.9"/><circle cx="563.2" cy="430.5"/><circle cx="693.3" cy="379.5"/><circle cx="631.1" cy="394.9"/><circle cx="609.1" cy="423.5"/><circle cx="616.5" cy="409.1"/><circle cx="566.9" cy="469.6"/><circle cx="580.4" cy="451.3"/><circle cx="530" cy="496.2"/><circle cx="551.2" cy="455.7"/><circle cx="513.3" cy="498.3"/><circle cx="583.5" cy="447.6"/><circle cx="682" cy="372.6"/><circle cx="591" cy="430.8"/><circle cx="712.7" cy="354.5"/><circle cx="653.3" cy="372.7"/><circle cx="652.5" cy="389.9"/><circle cx="600.3" cy="429.8"/><circle cx="531.9" cy="470.9"/><circle cx="690.4" cy="350.7"/><circle cx="603.5" cy="428.9"/><circle cx="521.9" cy="459.6"/><circle cx="601.3" cy="424.7"/><circle cx="698.3" cy="320.7"/><circle cx="575.6" cy="405.7"/><circle cx="647" cy="403.1"/><circle cx="649.1" cy="384"/><circle cx="517.9" cy="500.2"/><circle cx="562.8" cy="459"/><circle cx="709.1" cy="311.2"/><circle cx="722.9" cy="343.8"/><circle cx="495.1" cy="505.3"/><circle cx="677.8" cy="355.7"/><circle cx="692.9" cy="347.7"/><circle cx="563.3" cy="418.5"/><circle cx="662.7" cy="386.9"/><circle cx="642.9" cy="357.6"/><circle cx="661.5" cy="382.6"/><circle cx="489.9" cy="524.5"/><circle cx="702.8" cy="328.1"/><circle cx="703.9" cy="328.5"/><circle cx="623" cy="381.3"/><circle cx="596.1" cy="409.8"/><circle cx="557.2" cy="451"/><circle cx="582.3" cy="424.8"/><circle cx="482.2" cy="510.3"/><circle cx="357.7" cy="610.2"/><circle cx="714.7" cy="356.4"/><circle cx="675" cy="365.5"/><circle cx="510.2" cy="484"/><circle cx="535.4" cy="455.8"/><circle cx="724.6" cy="332.3"/><circle cx="669.8" cy="369.3"/><circle cx="696.3" cy="359.9"/><circle cx="572.7" cy="444"/><circle cx="518.7" cy="498.4"/><circle cx="689.2" cy="344.8"/><circle cx="595.8" cy="395.5"/><circle cx="712.6" cy="328.2"/><circle cx="642.9" cy="371.8"/><circle cx="640.9" cy="374"/><circle cx="686.8" cy="365.3"/><circle cx="565.5" cy="457.2"/><circle cx="513.2" cy="493"/><circle cx="511.7" cy="484.9"/><circle cx="462.6" cy="543.4"/><circle cx="676.3" cy="360.8"/><circle cx="767.7" cy="294.2"/><circle cx="460.2" cy="548.4"/><circle cx="564" cy="445.7"/><circle cx="422.8" cy="556.9"/><circle cx="630.3" cy="416.2"/><circle cx="622.8" cy="396.8"/><circle cx="630.1" cy="396.9"/><circle cx="478.1" cy="540.3"/><circle cx="591.6" cy="425.2"/><circle cx="730.2" cy="315.9"/><circle cx="462" cy="563.9"/><circle cx="551.8" cy="470.7"/><circle cx="438.9" cy="532.1"/><circle cx="446.2" cy="546"/><circle cx="641.5" cy="380.9"/><circle cx="709.7" cy="335.2"/><circle cx="559.8" cy="478"/><circle cx="747.2" cy="290.7"/><circle cx="622.4" cy="376.7"/><circle cx="569.6" cy="455.6"/><circle cx="494.6" cy="497.4"/><circle cx="540.5" cy="456.7"/><circle cx="730.8" cy="304.8"/><circle cx="571" cy="469.1"/><circle cx="627.2" cy="420.8"/><circle cx="547.7" cy="460.4"/><circle cx="585.1" cy="423.4"/><circle cx="589.1" cy="441.8"/><circle cx="706.2" cy="352.9"/><circle cx="752.4" cy="307.6"/><circle cx="562.8" cy="450.4"/><circle cx="568.6" cy="428"/><circle cx="536.2" cy="475.8"/><circle cx="565.8" cy="485.5"/><circle cx="599.2" cy="407.9"/><circle cx="747.8" cy="291.7"/><circle cx="483" cy="515.1"/><circle cx="564.8" cy="468.5"/><circle cx="632.6" cy="415.6"/><circle cx="537.5" cy="463.7"/><circle cx="600.9" cy="412.9"/><circle cx="482.2" cy="543.8"/><circle cx="623.4" cy="406.3"/><circle cx="693.9" cy="361.6"/><circle cx="573.8" cy="441.1"/><circle cx="554.8" cy="470.5"/><circle cx="544.6" cy="467.8"/><circle cx="482" cy="541.1"/><circle cx="452.4" cy="525.2"/><circle cx="637.5" cy="372.2"/><circle cx="636.4" cy="402.1"/><circle cx="709.6" cy="313.4"/><circle cx="595.9" cy="433.8"/><circle cx="522.3" cy="502"/><circle cx="579.4" cy="447.1"/><circle cx="729" cy="324.5"/><circle cx="618.3" cy="418.2"/><circle cx="620.7" cy="407.7"/><circle cx="490.4" cy="487.2"/><circle cx="529.2" cy="477"/><circle cx="662" cy="360.6"/><circle cx="705.8" cy="360.3"/><circle cx="570.5" cy="458.8"/><circle cx="699.2" cy="344.4"/><circle cx="564.4" cy="456.7"/><circle cx="591.9" cy="424.4"/><circle cx="549" cy="486.9"/><circle cx="656.3" cy="366.1"/><circle cx="570.5" cy="480.1"/><circle cx="732" cy="333.5"/><circle cx="634.2" cy="378.9"/><circle cx="588.8" cy="424.8"/><circle cx="565.3" cy="454.7"/><circle cx="503.6" cy="509"/><circle cx="585.6" cy="452.4"/><circle cx="616.8" cy="401.5"/><circle cx="579.2" cy="424.3"/><circle cx="652.7" cy="381.6"/><circle cx="608.3" cy="379.1"/><circle cx="731.5" cy="311.3"/><circle cx="481" cy="512.6"/><circle cx="599.4" cy="404.1"/><circle cx="668.7" cy="405.7"/><circle cx="695.6" cy="358.4"/><circle cx="656.3" cy="377.8"/><circle cx="626.5" cy="413.2"/><circle cx="589.2" cy="431.1"/><circle cx="639.5" cy="381"/><circle cx="654.9" cy="388.6"/><circle cx="663.4" cy="354.3"/><circle cx="623.9" cy="390.3"/><circle cx="673.7" cy="380.2"/><circle cx="423.1" cy="567.7"/><circle cx="638.2" cy="405.8"/><circle cx="704.3" cy="346.4"/><circle cx="663.8" cy="353.2"/><circle cx="637.1" cy="386"/><circle cx="700" cy="359.4"/><circle cx="606.4" cy="415.2"/><circle cx="577.4" cy="454.5"/><circle cx="758.1" cy="300.6"/><circle cx="570.6" cy="426"/><circle cx="744.5" cy="320.4"/><circle cx="694.9" cy="345.3"/><circle cx="710.1" cy="315.3"/><circle cx="727.9" cy="341.9"/><circle cx="552.8" cy="457.4"/><circle cx="496.8" cy="496.6"/><circle cx="655.2" cy="343"/><circle cx="698" cy="341.7"/><circle cx="510.2" cy="499.1"/><circle cx="551.6" cy="454.1"/><circle cx="598.3" cy="385.7"/><circle cx="645.7" cy="402.3"/><circle cx="675.1" cy="365.4"/><circle cx="561.5" cy="468.7"/><circle cx="636.9" cy="421.2"/><circle cx="672.8" cy="356.7"/><circle cx="663.2" cy="389"/><circle cx="561.7" cy="438.3"/><circle cx="560.9" cy="461.8"/><circle cx="465.9" cy="516.5"/><circle cx="578.7" cy="470.6"/><circle cx="543.1" cy="479.2"/><circle cx="694.8" cy="322.8"/><circle cx="590.6" cy="430.1"/><circle cx="559.8" cy="443.8"/><circle cx="591.1" cy="442.8"/><circle cx="662" cy="370.6"/><circle cx="699" cy="362.6"/><circle cx="566.5" cy="460.1"/><circle cx="614.4" cy="449.4"/><circle cx="556" cy="465.5"/><circle cx="602.8" cy="409.8"/><circle cx="539.5" cy="469.3"/><circle cx="742" cy="304"/><circle cx="655.3" cy="361.9"/><circle cx="590.7" cy="433.4"/><circle cx="536.4" cy="481.7"/><circle cx="595.7" cy="420.4"/><circle cx="787.9" cy="275.5"/><circle cx="558.6" cy="438.4"/><circle cx="623.8" cy="391.7"/><circle cx="595.3" cy="418"/><circle cx="798" cy="254.9"/><circle cx="574.4" cy="432.6"/><circle cx="722.4" cy="314.4"/><circle cx="481.5" cy="511.6"/><circle cx="587.5" cy="397.2"/><circle cx="575.5" cy="448.1"/><circle cx="546.4" cy="485"/><circle cx="559.5" cy="451.2"/><circle cx="595.4" cy="432.9"/><circle cx="614.6" cy="410.5"/><circle cx="481.8" cy="530.5"/><circle cx="764.7" cy="294.7"/><circle cx="580.2" cy="411.5"/><circle cx="640.7" cy="418.2"/><circle cx="590.1" cy="402.6"/><circle cx="578.6" cy="448.3"/><circle cx="496.6" cy="518.4"/><circle cx="572.8" cy="420.8"/><circle cx="521.1" cy="476.8"/><circle cx="543.3" cy="460.8"/><circle cx="690.9" cy="353"/><circle cx="518.6" cy="498.6"/><circle cx="553.4" cy="436.4"/><circle cx="740.6" cy="310.5"/><circle cx="689.1" cy="365.3"/><circle cx="623.5" cy="418.6"/><circle cx="576.3" cy="458.1"/><circle cx="719.8" cy="338.8"/><circle cx="659" cy="372"/><circle cx="567.1" cy="429.9"/><circle cx="641.2" cy="407.5"/><circle cx="664.4" cy="369.5"/><circle cx="588.4" cy="443.2"/><circle cx="367.9" cy="598.5"/><circle cx="734" cy="299.6"/><circle cx="634.1" cy="400.8"/><circle cx="700.1" cy="365.2"/><circle cx="629.1" cy="389"/><circle cx="654.6" cy="358.3"/><circle cx="738.9" cy="319.5"/><circle cx="676.4" cy="368.4"/><circle cx="525.2" cy="472.2"/><circle cx="640.4" cy="365.9"/><circle cx="556.1" cy="481.8"/><circle cx="551.1" cy="452.9"/><circle cx="641.2" cy="412.4"/><circle cx="654.5" cy="355.5"/><circle cx="575.6" cy="445.4"/><circle cx="768.1" cy="284.3"/><circle cx="592.3" cy="423.1"/><circle cx="769" cy="295.2"/><circle cx="712.6" cy="331.2"/><circle cx="574.6" cy="453.8"/><circle cx="583" cy="439.2"/><circle cx="594.9" cy="413.2"/><circle cx="601.5" cy="398.2"/><circle cx="625.7" cy="384.5"/><circle cx="760.3" cy="305.8"/><circle cx="720" cy="316"/><circle cx="695.1" cy="321.8"/><circle cx="635.6" cy="405.9"/><circle cx="596.5" cy="441.5"/><circle cx="671.9" cy="347.5"/><circle cx="598.1" cy="433.3"/><circle cx="498" cy="492.7"/><circle cx="506.1" cy="478.3"/><circle cx="579.8" cy="445.8"/><circle cx="490" cy="493.2"/><circle cx="690.6" cy="359.9"/><circle cx="547.1" cy="461.1"/><circle cx="550.9" cy="439.7"/><circle cx="561.2" cy="468.1"/><circle cx="606" cy="403.9"/><circle cx="566.3" cy="442.1"/><circle cx="567.9" cy="456.4"/><circle cx="637.8" cy="410.7"/><circle cx="646.4" cy="376.4"/><circle cx="559.5" cy="453.1"/><circle cx="658.8" cy="361"/><circle cx="623" cy="376.1"/><circle cx="731" cy="324.1"/><circle cx="722" cy="334.4"/><circle cx="651.8" cy="401.5"/><circle cx="526" cy="477"/><circle cx="560.8" cy="485.3"/><circle cx="596.1" cy="409.5"/><circle cx="563.3" cy="439.2"/><circle cx="352.4" cy="631.8"/><circle cx="576.8" cy="409.4"/><circle cx="567.1" cy="455.6"/><circle cx="544.1" cy="463.9"/><circle cx="646.7" cy="386.4"/><circle cx="658.5" cy="352.5"/><circle cx="576.6" cy="434.4"/><circle cx="549.3" cy="469.2"/><circle cx="601" cy="431"/><circle cx="546.5" cy="465.5"/><circle cx="654.1" cy="391.1"/><circle cx="680.5" cy="390.7"/><circle cx="660.6" cy="372.3"/><circle cx="645" cy="366.4"/><circle cx="644.3" cy="422.3"/><circle cx="579.5" cy="423.6"/><circle cx="738.1" cy="328.5"/><circle cx="531.3" cy="482.9"/><circle cx="417.6" cy="553.5"/><circle cx="531.3" cy="488.7"/><circle cx="517.4" cy="517.7"/><circle cx="591.2" cy="434"/><circle cx="715.5" cy="334.1"/><circle cx="474.9" cy="549.8"/><circle cx="673" cy="376.8"/><circle cx="645.4" cy="367.2"/><circle cx="624.8" cy="409.4"/><circle cx="528" cy="491.5"/><circle cx="639.5" cy="383.7"/><circle cx="698.7" cy="343.6"/><circle cx="564.3" cy="432.2"/><circle cx="540" cy="480.6"/><circle cx="743.1" cy="311.6"/><circle cx="597.3" cy="436.4"/><circle cx="692.9" cy="346.4"/><circle cx="670.1" cy="355.5"/><circle cx="587.5" cy="421.1"/><circle cx="725.1" cy="347"/><circle cx="593.7" cy="448"/><circle cx="359.1" cy="637.4"/><circle cx="681.8" cy="376.9"/><circle cx="605.4" cy="414.3"/><circle cx="558.8" cy="454.4"/><circle cx="607.6" cy="392.5"/><circle cx="636.6" cy="404.1"/><circle cx="485.5" cy="535"/><circle cx="502" cy="494.8"/><circle cx="771.4" cy="305.2"/><circle cx="536.4" cy="456.9"/><circle cx="633.4" cy="393.3"/><circle cx="674.4" cy="367.1"/><circle cx="548.4" cy="481.6"/><circle cx="655.4" cy="399.5"/><circle cx="618.9" cy="393.5"/><circle cx="518.4" cy="501.5"/><circle cx="596.8" cy="415.5"/><circle cx="765.4" cy="301.5"/><circle cx="585" cy="430.8"/><circle cx="619.6" cy="420.6"/><circle cx="630.7" cy="393.1"/><circle cx="644.6" cy="401.7"/><circle cx="623.2" cy="390.6"/><circle cx="640.6" cy="393.7"/><circle cx="625" cy="412.8"/><circle cx="517.9" cy="488.3"/><circle cx="635.8" cy="384.2"/><circle cx="589.5" cy="457.8"/><circle cx="727.4" cy="300.4"/><circle cx="770.9" cy="286.8"/><circle cx="709.2" cy="351.7"/><circle cx="620.3" cy="401.4"/><circle cx="683.6" cy="364.6"/><circle cx="518" cy="492.7"/><circle cx="616.8" cy="403"/><circle cx="623.2" cy="404.1"/><circle cx="679.3" cy="343.3"/><circle cx="576.3" cy="437.6"/><circle cx="666.7" cy="369.2"/><circle cx="636.5" cy="394.2"/><circle cx="610.8" cy="400.1"/><circle cx="487.2" cy="502.8"/><circle cx="606.8" cy="384.5"/><circle cx="699" cy="359.6"/><circle cx="640.1" cy="380.1"/><circle cx="562.3" cy="434.9"/><circle cx="556.1" cy="420.1"/><circle cx="574.7" cy="431.9"/><circle cx="756.1" cy="310.4"/><circle cx="594.7" cy="454.4"/><circle cx="651.1" cy="349.7"/><circle cx="633.7" cy="421.5"/><circle cx="517" cy="478.3"/><circle cx="532.4" cy="458.5"/><circle cx="629.8" cy="397.4"/><circle cx="695.5" cy="346.6"/><circle cx="607.2" cy="431.2"/><circle cx="719.4" cy="327.6"/><circle cx="700.9" cy="341.7"/><circle cx="648.4" cy="385"/><circle cx="617.6" cy="416.7"/><circle cx="530.5" cy="497.8"/><circle cx="510.6" cy="495.3"/><circle cx="567.5" cy="458.2"/><circle cx="670.9" cy="381.7"/><circle cx="587" cy="443.6"/><circle cx="735.6" cy="318.8"/><circle cx="642.3" cy="376.6"/><circle cx="565.5" cy="441.1"/><circle cx="460.4" cy="522.4"/><circle cx="533.1" cy="500.7"/><circle cx="612.8" cy="384.8"/><circle cx="594.6" cy="445"/><circle cx="494.2" cy="527.1"/><circle cx="600.2" cy="430"/><circle cx="675.7" cy="357"/><circle cx="434.6" cy="556.5"/><circle cx="591.5" cy="436.9"/><circle cx="564.6" cy="452.2"/><circle cx="458.9" cy="507.2"/><circle cx="531.2" cy="464.5"/><circle cx="647.1" cy="381.7"/><circle cx="427" cy="545.8"/><circle cx="566.1" cy="454.6"/><circle cx="630.1" cy="399"/><circle cx="688.7" cy="378.2"/><circle cx="675" cy="359.4"/><circle cx="638.2" cy="389.5"/><circle cx="585" cy="461.3"/><circle cx="614.8" cy="425"/><circle cx="662.6" cy="359.3"/><circle cx="689.7" cy="363.4"/><circle cx="595.3" cy="412.2"/><circle cx="686.4" cy="362.3"/><circle cx="646.5" cy="424"/><circle cx="455.6" cy="534.8"/><circle cx="639.5" cy="406.9"/><circle cx="694.8" cy="357.8"/><circle cx="552.2" cy="485.7"/><circle cx="478.6" cy="513.8"/><circle cx="759.9" cy="300"/><circle cx="540.8" cy="480.8"/><circle cx="575.9" cy="437.3"/><circle cx="650.8" cy="375"/><circle cx="375.3" cy="613.3"/><circle cx="579.5" cy="452.6"/><circle cx="595" cy="436.9"/><circle cx="604.9" cy="406"/><circle cx="491.1" cy="515.7"/><circle cx="589.7" cy="433.5"/><circle cx="575.5" cy="464.8"/><circle cx="688.3" cy="346"/><circle cx="553.5" cy="454.7"/><circle cx="552.1" cy="487.9"/><circle cx="593.7" cy="423.6"/><circle cx="709.2" cy="328"/><circle cx="647.9" cy="379.2"/><circle cx="635.3" cy="387.7"/><circle cx="571.7" cy="437.7"/><circle cx="461.2" cy="561.7"/><circle cx="634.6" cy="384.7"/><circle cx="685.4" cy="337.6"/><circle cx="653.7" cy="401.7"/><circle cx="476.1" cy="527.5"/><circle cx="485.3" cy="525"/><circle cx="516.9" cy="492.6"/><circle cx="844" cy="228.3"/><circle cx="626.9" cy="412"/><circle cx="777.4" cy="286.8"/><circle cx="650.3" cy="360.5"/><circle cx="566.3" cy="451"/><circle cx="450.8" cy="526.2"/><circle cx="666.5" cy="376.4"/><circle cx="714.4" cy="335.6"/><circle cx="629.5" cy="422.2"/><circle cx="548" cy="427.9"/><circle cx="747.5" cy="299.8"/><circle cx="677.7" cy="349.8"/><circle cx="561.9" cy="437"/><circle cx="665.1" cy="381.4"/><circle cx="781.8" cy="272.9"/><circle cx="479.8" cy="505"/><circle cx="483.3" cy="529.6"/><circle cx="568.9" cy="428.4"/><circle cx="554.1" cy="434.1"/><circle cx="607.9" cy="400.2"/><circle cx="630.6" cy="400.1"/><circle cx="485.6" cy="494"/><circle cx="580.3" cy="438.8"/><circle cx="720.6" cy="321.3"/><circle cx="630.5" cy="412.7"/><circle cx="730.8" cy="319.2"/><circle cx="634.1" cy="424.8"/><circle cx="551.5" cy="459.4"/><circle cx="499.4" cy="490.9"/><circle cx="717.4" cy="332.8"/><circle cx="531.6" cy="473.4"/><circle cx="503.4" cy="491.8"/><circle cx="697.2" cy="378.2"/><circle cx="575.4" cy="463.3"/><circle cx="641.1" cy="407.1"/><circle cx="550.3" cy="479.3"/><circle cx="682.5" cy="346.3"/><circle cx="614.5" cy="401.7"/><circle cx="573.1" cy="424.8"/><circle cx="593.2" cy="446.3"/><circle cx="660.4" cy="404.1"/><circle cx="693.6" cy="345.7"/><circle cx="564.9" cy="449.5"/><circle cx="534" cy="468.9"/><circle cx="580.9" cy="443.9"/><circle cx="704.6" cy="344"/><circle cx="608.7" cy="420.8"/><circle cx="647" cy="394.1"/><circle cx="686.8" cy="358"/><circle cx="651.7" cy="379"/><circle cx="667.2" cy="390.4"/><circle cx="576.4" cy="448.7"/><circle cx="554.2" cy="446.8"/><circle cx="717.9" cy="348.5"/><circle cx="589.8" cy="430"/><circle cx="769.9" cy="299"/><circle cx="757.2" cy="300.4"/><circle cx="613" cy="440.6"/><circle cx="710.2" cy="358.9"/><circle cx="577.8" cy="441.3"/><circle cx="741.8" cy="311.5"/><circle cx="679.7" cy="357.4"/><circle cx="689.4" cy="361"/><circle cx="343.1" cy="646"/><circle cx="753" cy="285.9"/><circle cx="518.3" cy="473.5"/><circle cx="612" cy="436"/><circle cx="582.9" cy="439.6"/><circle cx="574.8" cy="443.4"/><circle cx="567.3" cy="436.4"/><circle cx="609.3" cy="408.4"/><circle cx="661.5" cy="360.5"/><circle cx="755.3" cy="298.6"/><circle cx="556.7" cy="439.4"/><circle cx="597.6" cy="416.5"/><circle cx="574.7" cy="429"/><circle cx="618" cy="422.2"/><circle cx="618.9" cy="401.2"/><circle cx="382.3" cy="605.2"/><circle cx="764.7" cy="289.3"/><circle cx="479.1" cy="533.8"/><circle cx="654.1" cy="383.9"/><circle cx="590.1" cy="422.7"/><circle cx="618.8" cy="424.6"/><circle cx="552.3" cy="457.3"/><circle cx="520.2" cy="523.6"/><circle cx="482.9" cy="522"/><circle cx="682.2" cy="361.6"/><circle cx="646.2" cy="389.5"/><circle cx="596.2" cy="447.7"/><circle cx="613.2" cy="415.1"/><circle cx="518.6" cy="480.9"/><circle cx="707.4" cy="325.7"/><circle cx="687.8" cy="378.9"/><circle cx="576.2" cy="463.4"/><circle cx="738.8" cy="332"/><circle cx="653.6" cy="380.3"/><circle cx="695" cy="335.3"/><circle cx="543.1" cy="472.6"/><circle cx="637.4" cy="378.7"/><circle cx="717.4" cy="326.5"/><circle cx="680.5" cy="378.5"/><circle cx="664.6" cy="365"/><circle cx="525.8" cy="462.5"/><circle cx="575" cy="444.1"/><circle cx="522.5" cy="457.6"/><circle cx="459.4" cy="545.3"/><circle cx="501.5" cy="486.9"/><circle cx="633.4" cy="418.1"/><circle cx="652.8" cy="360"/><circle cx="615" cy="390.1"/><circle cx="560.4" cy="446.5"/><circle cx="695" cy="333.3"/><circle cx="704.1" cy="340.6"/><circle cx="782.1" cy="284.3"/><circle cx="715.7" cy="330.4"/><circle cx="587.5" cy="440.2"/><circle cx="751.8" cy="306.6"/><circle cx="641.5" cy="389.3"/><circle cx="644.9" cy="372.6"/><circle cx="645.7" cy="382.2"/><circle cx="590.3" cy="446.4"/><circle cx="568.7" cy="462.4"/><circle cx="604.3" cy="428.8"/><circle cx="735.9" cy="308.4"/><circle cx="629.5" cy="419.4"/><circle cx="738.8" cy="307.2"/><circle cx="544.8" cy="466.8"/><circle cx="565.3" cy="478.5"/><circle cx="571.3" cy="414.5"/><circle cx="453" cy="541"/><circle cx="406.8" cy="592.9"/><circle cx="582.5" cy="430.9"/><circle cx="626.6" cy="371.5"/><circle cx="672.7" cy="379.6"/><circle cx="715.3" cy="348.1"/><circle cx="705.7" cy="360.6"/><circle cx="654.7" cy="363.3"/><circle cx="607.4" cy="390.6"/><circle cx="659.2" cy="381.3"/><circle cx="684.8" cy="385.1"/><circle cx="515.8" cy="486"/><circle cx="660.9" cy="391.5"/><circle cx="442.3" cy="537.4"/><circle cx="576.3" cy="451.2"/><circle cx="501" cy="514.8"/><circle cx="410.4" cy="569.2"/><circle cx="434.3" cy="588.2"/><circle cx="665" cy="370.5"/><circle cx="631.7" cy="427.9"/><circle cx="537.3" cy="461.7"/><circle cx="536.7" cy="453.1"/><circle cx="683.4" cy="332.8"/><circle cx="633.6" cy="413.7"/><circle cx="679.8" cy="364.5"/><circle cx="562" cy="446.2"/><circle cx="532.1" cy="465"/><circle cx="762.2" cy="292.3"/><circle cx="530.4" cy="499"/><circle cx="562.9" cy="461.7"/><circle cx="521.5" cy="448.8"/><circle cx="570.6" cy="423.2"/><circle cx="570.8" cy="419.6"/><circle cx="629.1" cy="404.5"/><circle cx="672.6" cy="368.4"/><circle cx="601" cy="437.2"/><circle cx="608" cy="408.2"/><circle cx="572" cy="438.6"/><circle cx="754" cy="297"/><circle cx="563.1" cy="463.8"/><circle cx="511" cy="475"/><circle cx="591.1" cy="419.8"/><circle cx="617.5" cy="375.3"/><circle cx="647.7" cy="397.7"/><circle cx="558.9" cy="431.9"/><circle cx="636.2" cy="385.1"/><circle cx="688.6" cy="353.4"/><circle cx="618.6" cy="399.9"/><circle cx="544.8" cy="428.2"/><circle cx="546.1" cy="473.6"/><circle cx="696.9" cy="357.9"/><circle cx="510.3" cy="496"/><circle cx="493.1" cy="502.1"/><circle cx="719.3" cy="329.3"/><circle cx="526.3" cy="516"/><circle cx="665.3" cy="359.6"/><circle cx="353.6" cy="613.6"/><circle cx="538.1" cy="485.3"/><circle cx="502.7" cy="530.4"/><circle cx="601.4" cy="439.8"/><circle cx="542.4" cy="468.4"/><circle cx="719.4" cy="352"/><circle cx="552.4" cy="451.5"/><circle cx="569.2" cy="457"/><circle cx="583.4" cy="406"/><circle cx="610.7" cy="428.5"/><circle cx="579.4" cy="438.5"/><circle cx="661.7" cy="396.1"/><circle cx="556.5" cy="463.8"/><circle cx="719.6" cy="329.5"/><circle cx="606.2" cy="414.1"/><circle cx="508.3" cy="500.2"/><circle cx="724.5" cy="322.8"/><circle cx="556.3" cy="470.5"/><circle cx="414.8" cy="550.6"/><circle cx="434.4" cy="564.2"/><circle cx="592.3" cy="448.5"/><circle cx="739.2" cy="303.9"/><circle cx="665.2" cy="371.6"/><circle cx="473.7" cy="513.7"/><circle cx="773.1" cy="293.1"/><circle cx="523.7" cy="491.5"/><circle cx="584.8" cy="440.5"/><circle cx="815.3" cy="242.4"/><circle cx="617.2" cy="422.6"/><circle cx="611.3" cy="427.2"/><circle cx="695.7" cy="338.7"/><circle cx="657.8" cy="406.4"/><circle cx="590.1" cy="428.9"/><circle cx="552.4" cy="466.7"/><circle cx="607.9" cy="391.1"/><circle cx="646.2" cy="394.7"/><circle cx="680.9" cy="344.2"/><circle cx="645.5" cy="362.7"/><circle cx="579.2" cy="441.6"/><circle cx="484.3" cy="539.8"/><circle cx="754.6" cy="296.3"/><circle cx="603.5" cy="402.9"/><circle cx="590.1" cy="450.8"/><circle cx="547.5" cy="481.1"/><circle cx="707.6" cy="339.6"/><circle cx="696.5" cy="352.9"/><circle cx="699" cy="333.9"/><circle cx="646.3" cy="366.6"/><circle cx="659.4" cy="355.6"/><circle cx="604.7" cy="413.6"/><circle cx="514.4" cy="503.8"/><circle cx="535.5" cy="468.9"/><circle cx="528.2" cy="480.2"/><circle cx="750.2" cy="313.5"/><circle cx="605.2" cy="434.7"/><circle cx="524.1" cy="488.4"/><circle cx="725.8" cy="313.7"/><circle cx="720.5" cy="326.9"/><circle cx="647.2" cy="362.2"/><circle cx="643.9" cy="397.8"/><circle cx="526.3" cy="481.5"/><circle cx="508" cy="493.1"/><circle cx="586.3" cy="412.9"/><circle cx="699.6" cy="351.5"/><circle cx="528.4" cy="487.4"/><circle cx="724.6" cy="333.7"/><circle cx="430.8" cy="530.3"/><circle cx="637.3" cy="387.8"/><circle cx="537.5" cy="464.9"/><circle cx="617.6" cy="422.7"/><circle cx="577.8" cy="453.3"/><circle cx="542" cy="476.2"/><circle cx="544.1" cy="481.6"/><circle cx="565.4" cy="451.3"/><circle cx="665.7" cy="368.4"/><circle cx="563.1" cy="451.5"/><circle cx="615.3" cy="390.8"/><circle cx="704.6" cy="345.9"/><circle cx="658.2" cy="381.9"/><circle cx="560.3" cy="473.9"/><circle cx="696.2" cy="353.6"/><circle cx="643.8" cy="369.2"/><circle cx="569.2" cy="447.9"/><circle cx="633.6" cy="397.3"/><circle cx="610.5" cy="425"/><circle cx="723" cy="328.9"/><circle cx="531.6" cy="469.4"/><circle cx="494.5" cy="510.3"/><circle cx="656" cy="382"/><circle cx="613.2" cy="395.1"/><circle cx="486.9" cy="501.9"/><circle cx="579.2" cy="441.1"/><circle cx="536.7" cy="489.8"/><circle cx="636.6" cy="396.7"/><circle cx="532.8" cy="475.6"/><circle cx="677.5" cy="369.9"/><circle cx="650.3" cy="384.7"/><circle cx="691.3" cy="332.1"/><circle cx="534.1" cy="466.9"/><circle cx="636.6" cy="413.4"/><circle cx="604.2" cy="421.5"/><circle cx="660.3" cy="359.5"/><circle cx="774.6" cy="288.2"/><circle cx="637.9" cy="391"/><circle cx="624.7" cy="439"/><circle cx="668.5" cy="356.7"/><circle cx="601.2" cy="432.3"/><circle cx="528" cy="499.1"/><circle cx="598.6" cy="434.9"/><circle cx="612.4" cy="395"/><circle cx="661.2" cy="378.1"/><circle cx="550.5" cy="449.2"/><circle cx="472.4" cy="519.9"/><circle cx="666" cy="382"/><circle cx="520" cy="461.7"/><circle cx="693" cy="363.8"/><circle cx="571" cy="473.3"/><circle cx="645.9" cy="399.6"/><circle cx="504.1" cy="495.1"/><circle cx="602" cy="450.7"/><circle cx="609.8" cy="421.2"/><circle cx="514.1" cy="464.6"/><circle cx="651.3" cy="368.6"/><circle cx="553.4" cy="465.2"/><circle cx="671.4" cy="370.1"/><circle cx="578.4" cy="449.4"/><circle cx="619.1" cy="415"/><circle cx="633" cy="384.4"/><circle cx="589.4" cy="424.8"/><circle cx="641.9" cy="395.6"/><circle cx="569.7" cy="479"/><circle cx="551" cy="478.7"/><circle cx="497.3" cy="527.9"/><circle cx="529.5" cy="489.9"/><circle cx="591.9" cy="427.1"/><circle cx="672.9" cy="359"/><circle cx="643.1" cy="368.7"/><circle cx="569.6" cy="446.5"/><circle cx="637.4" cy="398.8"/><circle cx="684.2" cy="349.5"/><circle cx="639.4" cy="365.1"/><circle cx="635.5" cy="362.4"/><circle cx="652.9" cy="352.1"/><circle cx="594.6" cy="452.3"/><circle cx="644" cy="415"/><circle cx="662" cy="389.9"/><circle cx="630.3" cy="408.9"/><circle cx="731.9" cy="326.6"/><circle cx="441.8" cy="524.5"/><circle cx="657.4" cy="415.6"/><circle cx="445.6" cy="545.9"/><circle cx="654.8" cy="382.7"/><circle cx="586.6" cy="426.6"/><circle cx="467.9" cy="505"/><circle cx="596.1" cy="431.1"/><circle cx="606.9" cy="435.2"/><circle cx="699.8" cy="352.4"/><circle cx="586.9" cy="410.9"/><circle cx="611" cy="377.5"/><circle cx="712.2" cy="356.6"/><circle cx="580" cy="458.2"/><circle cx="590.7" cy="407.1"/><circle cx="537" cy="466.5"/><circle cx="658.2" cy="409.9"/><circle cx="646.6" cy="380.8"/><circle cx="391.9" cy="587.6"/><circle cx="575.7" cy="444.1"/><circle cx="587" cy="440.1"/><circle cx="576.4" cy="440"/><circle cx="701.1" cy="357.1"/><circle cx="634.1" cy="391.5"/><circle cx="600" cy="413.4"/><circle cx="630.7" cy="369.1"/><circle cx="653.1" cy="386.1"/><circle cx="642.8" cy="424.2"/><circle cx="611.2" cy="423.3"/><circle cx="516.2" cy="509"/><circle cx="465.7" cy="537.4"/><circle cx="529.4" cy="483.7"/><circle cx="630.6" cy="364"/><circle cx="621.6" cy="395.9"/><circle cx="675.2" cy="360.8"/><circle cx="580.9" cy="451"/><circle cx="648.5" cy="381.8"/><circle cx="623.7" cy="375.6"/><circle cx="562.7" cy="421.6"/><circle cx="693.1" cy="347.3"/><circle cx="665.8" cy="373.4"/><circle cx="612.7" cy="449.1"/><circle cx="520.5" cy="466.7"/><circle cx="533.5" cy="465.3"/><circle cx="646" cy="377.5"/><circle cx="543.7" cy="495.3"/><circle cx="522.9" cy="479"/><circle cx="593.9" cy="424.6"/><circle cx="548.4" cy="472.3"/><circle cx="572.2" cy="463.5"/><circle cx="656.9" cy="379.8"/><circle cx="699.9" cy="354"/><circle cx="718.1" cy="310.3"/><circle cx="595.2" cy="445.2"/><circle cx="535.1" cy="486.6"/><circle cx="606.9" cy="416.4"/><circle cx="506.5" cy="519.9"/><circle cx="615.3" cy="425.7"/><circle cx="639.9" cy="390.8"/><circle cx="624.6" cy="371.4"/><circle cx="665.1" cy="387.4"/><circle cx="729.7" cy="322.7"/><circle cx="558.2" cy="483.2"/><circle cx="675.2" cy="366"/><circle cx="677.4" cy="341.6"/><circle cx="623.4" cy="405.5"/><circle cx="643.2" cy="390.8"/><circle cx="690.9" cy="359.4"/><circle cx="670.1" cy="379.4"/><circle cx="588.6" cy="432.1"/><circle cx="566.9" cy="420.5"/><circle cx="704.5" cy="326.4"/><circle cx="743.8" cy="311.9"/><circle cx="694.9" cy="350.9"/><circle cx="632.8" cy="415.3"/><circle cx="419.3" cy="571.5"/><circle cx="668" cy="386.5"/><circle cx="626.5" cy="406"/><circle cx="657.5" cy="372.6"/><circle cx="643.6" cy="418.9"/><circle cx="617.1" cy="407.8"/><circle cx="624.1" cy="402"/><circle cx="515" cy="493.8"/><circle cx="508.6" cy="512.5"/><circle cx="535.6" cy="470"/><circle cx="579.9" cy="443.3"/><circle cx="548.5" cy="453.8"/><circle cx="647.3" cy="393.6"/><circle cx="578.6" cy="403"/><circle cx="644.3" cy="377.7"/><circle cx="587.2" cy="424.6"/><circle cx="567.9" cy="445.5"/><circle cx="720.2" cy="325"/><circle cx="599.3" cy="440.7"/><circle cx="478.7" cy="534.6"/><circle cx="579.5" cy="423.1"/><circle cx="713.7" cy="338.3"/><circle cx="699.9" cy="365.1"/><circle cx="647.9" cy="376.3"/><circle cx="615.6" cy="404.9"/><circle cx="678.4" cy="370.7"/><circle cx="568.4" cy="424.9"/><circle cx="657.1" cy="377.7"/><circle cx="700.7" cy="362.4"/><circle cx="750.6" cy="324.7"/><circle cx="545.1" cy="451.7"/><circle cx="613.1" cy="433"/><circle cx="417.6" cy="549.3"/><circle cx="647.3" cy="419.3"/><circle cx="579.6" cy="449.5"/><circle cx="612.1" cy="411.8"/><circle cx="588.4" cy="427.7"/><circle cx="580.7" cy="449.4"/><circle cx="598" cy="452.1"/><circle cx="596.9" cy="437.7"/><circle cx="639.2" cy="412.8"/><circle cx="593.6" cy="447.1"/><circle cx="409.8" cy="595.5"/><circle cx="724.2" cy="352.9"/><circle cx="620.8" cy="427"/><circle cx="544.7" cy="470.8"/><circle cx="468.9" cy="538.1"/><circle cx="582.4" cy="414.8"/><circle cx="683.8" cy="337.2"/><circle cx="577.2" cy="437.5"/><circle cx="642" cy="392.3"/><circle cx="673.7" cy="362.9"/><circle cx="461.3" cy="533.6"/><circle cx="632.1" cy="417.3"/><circle cx="655.3" cy="387"/><circle cx="637.7" cy="366.4"/><circle cx="656.8" cy="393.6"/><circle cx="720.2" cy="340.4"/><circle cx="783.6" cy="280.4"/><circle cx="569.9" cy="453.2"/><circle cx="633.8" cy="389.3"/><circle cx="644.2" cy="398.1"/><circle cx="696.6" cy="343.6"/><circle cx="547.2" cy="465.2"/><circle cx="522" cy="501.4"/><circle cx="793.2" cy="272.3"/><circle cx="588.6" cy="435.1"/><circle cx="492.3" cy="537.2"/><circle cx="664.3" cy="371.6"/><circle cx="633.2" cy="416.4"/><circle cx="623" cy="411"/><circle cx="543.1" cy="461.8"/><circle cx="748.9" cy="304.3"/><circle cx="652.4" cy="393.9"/><circle cx="573.2" cy="475.6"/><circle cx="395.8" cy="577.1"/><circle cx="682.7" cy="344.5"/><circle cx="641.3" cy="416.1"/><circle cx="526.9" cy="496.9"/><circle cx="553.4" cy="466.2"/><circle cx="577.5" cy="418.1"/><circle cx="744.6" cy="324"/><circle cx="607.2" cy="393.7"/><circle cx="633.9" cy="413.2"/><circle cx="478.4" cy="520.4"/><circle cx="726.6" cy="327.1"/><circle cx="535.3" cy="470"/><circle cx="600.7" cy="410.3"/><circle cx="608.1" cy="411.6"/><circle cx="528.6" cy="491"/><circle cx="746.6" cy="289"/><circle cx="578.4" cy="418.3"/><circle cx="543" cy="482.2"/><circle cx="743.9" cy="315.8"/><circle cx="528.3" cy="512.1"/><circle cx="555.6" cy="439.4"/><circle cx="554" cy="445.2"/><circle cx="560.5" cy="455.3"/><circle cx="657" cy="382.4"/><circle cx="589.6" cy="437.8"/><circle cx="585.3" cy="440.6"/><circle cx="579.4" cy="453.6"/><circle cx="532.9" cy="448.1"/><circle cx="578.1" cy="446.1"/><circle cx="511.9" cy="486.5"/><circle cx="456.7" cy="528.9"/><circle cx="700.5" cy="369"/><circle cx="544.4" cy="463.6"/><circle cx="690.5" cy="371.8"/><circle cx="623.5" cy="400"/><circle cx="622.1" cy="406.8"/><circle cx="597.4" cy="425.8"/><circle cx="801.4" cy="265.1"/><circle cx="639.3" cy="418.2"/><circle cx="755.6" cy="312.3"/><circle cx="526.3" cy="485.5"/><circle cx="612" cy="415.9"/><circle cx="636.1" cy="382"/><circle cx="691.1" cy="359.3"/><circle cx="372.3" cy="593.4"/><circle cx="457.2" cy="525.9"/><circle cx="341.7" cy="642.3"/><circle cx="639.1" cy="381.8"/><circle cx="666.3" cy="351"/><circle cx="512.5" cy="492.4"/><circle cx="628.8" cy="384.3"/><circle cx="742.2" cy="319.7"/><circle cx="533.7" cy="480.3"/><circle cx="528.3" cy="460.1"/><circle cx="544.1" cy="475.2"/><circle cx="591.3" cy="443.4"/><circle cx="632.3" cy="402"/><circle cx="613.9" cy="409.5"/><circle cx="519.1" cy="481.6"/><circle cx="686.3" cy="384.5"/><circle cx="548.4" cy="468.2"/><circle cx="671.1" cy="370.5"/><circle cx="570.7" cy="443"/><circle cx="539.8" cy="452.9"/><circle cx="666.3" cy="365.4"/><circle cx="624.4" cy="414.5"/><circle cx="765" cy="299"/><circle cx="602" cy="428.5"/><circle cx="516.6" cy="492.9"/><circle cx="582.1" cy="423.8"/><circle cx="810.5" cy="256.4"/><circle cx="554.3" cy="477.1"/><circle cx="652.1" cy="383.6"/><circle cx="552.2" cy="423.4"/><circle cx="564" cy="439.9"/><circle cx="580.4" cy="408.1"/><circle cx="722.8" cy="318.2"/><circle cx="639.5" cy="386.2"/><circle cx="651.8" cy="370"/><circle cx="629.1" cy="373.3"/><circle cx="604.4" cy="416.6"/><circle cx="722.7" cy="344.3"/><circle cx="633.9" cy="383.2"/><circle cx="455.9" cy="548.4"/><circle cx="496.6" cy="511.6"/><circle cx="697.2" cy="341.4"/><circle cx="683.3" cy="370.4"/><circle cx="443.4" cy="541.8"/><circle cx="531.2" cy="466.3"/><circle cx="552.1" cy="450.9"/><circle cx="650.3" cy="389.2"/><circle cx="686.2" cy="384.8"/><circle cx="551.8" cy="478.8"/><circle cx="670" cy="359.2"/><circle cx="766.6" cy="294.8"/><circle cx="438.7" cy="537.1"/><circle cx="623.7" cy="389.1"/><circle cx="621.3" cy="412.8"/><circle cx="596.3" cy="417.5"/><circle cx="569.5" cy="444.9"/><circle cx="746.1" cy="314.3"/><circle cx="550.9" cy="439.1"/><circle cx="680.4" cy="344.7"/><circle cx="647.4" cy="394.6"/><circle cx="582.4" cy="420"/><circle cx="591.6" cy="414"/><circle cx="518.3" cy="504.1"/><circle cx="659.4" cy="341.1"/><circle cx="732.8" cy="319.9"/><circle cx="600.8" cy="444.9"/><circle cx="784" cy="292.6"/><circle cx="747.1" cy="324.6"/><circle cx="523.4" cy="461.3"/><circle cx="358.7" cy="627.6"/><circle cx="614.8" cy="427.5"/><circle cx="574.3" cy="450.6"/><circle cx="644.6" cy="382.5"/><circle cx="633.6" cy="379.2"/><circle cx="633" cy="408.8"/><circle cx="721.9" cy="312"/><circle cx="700.7" cy="324.5"/><circle cx="401.7" cy="569.2"/><circle cx="581.5" cy="438.7"/><circle cx="613.7" cy="434.8"/><circle cx="607.4" cy="412.6"/><circle cx="546.8" cy="481.4"/><circle cx="645.8" cy="372"/><circle cx="488.9" cy="506"/><circle cx="586.2" cy="427.9"/><circle cx="559.1" cy="444.1"/><circle cx="597.1" cy="445.5"/><circle cx="561.7" cy="428.8"/><circle cx="636.2" cy="368.6"/><circle cx="769.8" cy="301.7"/><circle cx="766.3" cy="296.8"/><circle cx="655.3" cy="391.5"/><circle cx="492.5" cy="497.5"/><circle cx="604.3" cy="430.9"/><circle cx="603.3" cy="391"/><circle cx="649" cy="382.9"/><circle cx="564.9" cy="456.6"/><circle cx="648.9" cy="352.6"/><circle cx="727.2" cy="316.1"/><circle cx="546.8" cy="441.8"/><circle cx="614.2" cy="396.4"/><circle cx="562.1" cy="447.4"/><circle cx="621.8" cy="397.3"/><circle cx="658" cy="345.6"/><circle cx="651.2" cy="393.6"/><circle cx="634.7" cy="373.5"/><circle cx="623" cy="408.6"/><circle cx="656.6" cy="367.2"/><circle cx="610.6" cy="385.8"/><circle cx="521.9" cy="498.1"/><circle cx="762.9" cy="294.4"/><circle cx="682.7" cy="364.7"/><circle cx="733.6" cy="324.2"/><circle cx="545.6" cy="470.8"/><circle cx="695.8" cy="338.9"/><circle cx="689.5" cy="360.1"/><circle cx="763.6" cy="304.5"/><circle cx="610.7" cy="402.1"/><circle cx="535.5" cy="456.2"/><circle cx="531.3" cy="467.2"/><circle cx="724.9" cy="338.6"/><circle cx="490.5" cy="510"/><circle cx="622.1" cy="428.7"/><circle cx="713.7" cy="329.8"/><circle cx="456.8" cy="538.2"/><circle cx="649" cy="408.6"/><circle cx="540.9" cy="497.2"/><circle cx="494.7" cy="520"/><circle cx="396.3" cy="569.7"/><circle cx="623.4" cy="403.9"/><circle cx="646" cy="385.9"/><circle cx="597.5" cy="407"/><circle cx="564" cy="472.4"/><circle cx="559.6" cy="461.7"/><circle cx="620.6" cy="390.8"/><circle cx="616" cy="389.8"/><circle cx="695.5" cy="352.2"/><circle cx="621.7" cy="376.2"/><circle cx="559.4" cy="471.1"/><circle cx="641.1" cy="382.8"/><circle cx="621.6" cy="383.4"/><circle cx="584.3" cy="444.7"/><circle cx="623.8" cy="388.6"/><circle cx="639.2" cy="389.6"/><circle cx="725.8" cy="327.3"/><circle cx="614.7" cy="394.2"/><circle cx="594.9" cy="433.8"/><circle cx="635.1" cy="416.6"/><circle cx="629.2" cy="416.9"/><circle cx="450" cy="541.7"/><circle cx="566.1" cy="463.1"/><circle cx="742.3" cy="300.7"/><circle cx="621.3" cy="402.2"/><circle cx="590.1" cy="449.4"/><circle cx="648.2" cy="368.2"/><circle cx="682.8" cy="361.7"/><circle cx="822.5" cy="248.8"/><circle cx="667.2" cy="372.9"/><circle cx="618.3" cy="437.4"/><circle cx="705.2" cy="336.8"/><circle cx="657.9" cy="369.5"/><circle cx="478.6" cy="497.8"/><circle cx="493" cy="513.5"/><circle cx="698" cy="349.1"/><circle cx="709" cy="328.6"/><circle cx="569.2" cy="454"/><circle cx="586.2" cy="460.8"/><circle cx="574.1" cy="434.7"/><circle cx="782.6" cy="290.3"/><circle cx="608.9" cy="427.9"/><circle cx="691.8" cy="349.8"/><circle cx="677.9" cy="331.5"/><circle cx="590.7" cy="401.9"/><circle cx="752" cy="303.6"/><circle cx="584.6" cy="421.7"/><circle cx="604.7" cy="424.5"/><circle cx="564" cy="442.3"/><circle cx="582.6" cy="433"/><circle cx="608.6" cy="403.2"/><circle cx="619.8" cy="396.6"/><circle cx="598" cy="431.4"/><circle cx="559.3" cy="424.7"/><circle cx="644.6" cy="406.9"/><circle cx="619" cy="417"/><circle cx="541.7" cy="438"/><circle cx="691" cy="356.7"/><circle cx="441.1" cy="542.1"/><circle cx="602.4" cy="410.4"/><circle cx="644.8" cy="384"/><circle cx="582.7" cy="433.8"/><circle cx="688" cy="343.2"/><circle cx="644.1" cy="379.9"/><circle cx="641.7" cy="407.4"/><circle cx="557.8" cy="429.9"/><circle cx="616.9" cy="423.6"/><circle cx="673.8" cy="353.6"/><circle cx="641.5" cy="397.9"/><circle cx="659.7" cy="354.7"/><circle cx="470.5" cy="513.2"/><circle cx="641.7" cy="385.5"/><circle cx="516.4" cy="455.6"/><circle cx="534.3" cy="452.8"/><circle cx="548.1" cy="489.3"/><circle cx="656.9" cy="391.3"/><circle cx="646.4" cy="401.7"/><circle cx="563.7" cy="461.5"/><circle cx="480.4" cy="510.2"/><circle cx="740.9" cy="332.5"/><circle cx="666.3" cy="405.9"/><circle cx="635.9" cy="374.9"/><circle cx="596" cy="425.3"/><circle cx="659.4" cy="374.4"/><circle cx="604.1" cy="418"/><circle cx="598.7" cy="439.4"/><circle cx="593.9" cy="427.5"/><circle cx="708" cy="340.9"/><circle cx="677.5" cy="362.9"/><circle cx="560.3" cy="432"/><circle cx="510.4" cy="522.2"/><circle cx="637.9" cy="369.4"/><circle cx="542.5" cy="462.7"/><circle cx="698.3" cy="344.1"/><circle cx="616.5" cy="415.2"/><circle cx="626.9" cy="411.1"/><circle cx="639" cy="359.5"/><circle cx="679.4" cy="363.9"/><circle cx="644.1" cy="371.3"/><circle cx="528.7" cy="486.6"/><circle cx="548" cy="431.6"/><circle cx="709.3" cy="341.5"/><circle cx="648.2" cy="348"/><circle cx="636.3" cy="372"/><circle cx="685.4" cy="355.4"/><circle cx="613.8" cy="421.9"/><circle cx="532.3" cy="489.6"/><circle cx="664.8" cy="378.7"/><circle cx="733.7" cy="312.1"/><circle cx="657.9" cy="382.1"/><circle cx="633.5" cy="394.6"/><circle cx="566.3" cy="440"/><circle cx="666.7" cy="387.4"/><circle cx="625.3" cy="404"/><circle cx="762.8" cy="297.5"/><circle cx="552.7" cy="473.6"/><circle cx="726.8" cy="318.4"/><circle cx="626.1" cy="399.8"/><circle cx="664.6" cy="353.6"/><circle cx="686.2" cy="343.5"/><circle cx="653.7" cy="358.1"/><circle cx="641.3" cy="371"/><circle cx="642.1" cy="372.6"/><circle cx="636.7" cy="391"/><circle cx="594.4" cy="435.7"/><circle cx="579.1" cy="429.3"/><circle cx="543.5" cy="468.8"/><circle cx="706.8" cy="367.8"/><circle cx="702.6" cy="334.9"/><circle cx="660.3" cy="371.1"/><circle cx="651.7" cy="411.2"/><circle cx="795.2" cy="266.1"/><circle cx="592.5" cy="456.7"/><circle cx="412.5" cy="577.9"/><circle cx="629" cy="374.2"/><circle cx="508.9" cy="501"/><circle cx="648.9" cy="369.7"/><circle cx="460.8" cy="532.6"/><circle cx="524.1" cy="493.8"/><circle cx="666.5" cy="373.8"/><circle cx="750.3" cy="295.3"/><circle cx="523.7" cy="457.6"/><circle cx="640.1" cy="380.1"/><circle cx="554.8" cy="462.9"/><circle cx="578.7" cy="428"/><circle cx="579.7" cy="427.3"/><circle cx="694.7" cy="349.4"/><circle cx="565" cy="466.3"/><circle cx="550.5" cy="443.5"/><circle cx="638.3" cy="369.7"/><circle cx="501.6" cy="493.6"/><circle cx="540" cy="483.8"/><circle cx="616.4" cy="417.2"/><circle cx="460.5" cy="536.7"/><circle cx="420.8" cy="578"/><circle cx="566.6" cy="446.6"/><circle cx="525.7" cy="482.7"/><circle cx="788.4" cy="286.9"/><circle cx="463.6" cy="545.8"/><circle cx="612.4" cy="432.7"/><circle cx="779.1" cy="299.3"/><circle cx="711.6" cy="321.1"/><circle cx="611.6" cy="450.8"/><circle cx="546" cy="444.7"/><circle cx="623" cy="425.8"/><circle cx="481" cy="516.4"/><circle cx="532" cy="511.3"/><circle cx="571.5" cy="467.1"/><circle cx="751.7" cy="296.7"/><circle cx="606.9" cy="427.1"/><circle cx="547.2" cy="474.8"/><circle cx="624.2" cy="392.1"/><circle cx="561.9" cy="457"/><circle cx="416.3" cy="559.9"/><circle cx="466.8" cy="525.2"/><circle cx="791" cy="272.1"/><circle cx="607.3" cy="417.5"/><circle cx="585.8" cy="416.1"/><circle cx="651" cy="413.8"/><circle cx="578" cy="416.6"/><circle cx="691.9" cy="354.5"/><circle cx="587" cy="422.6"/><circle cx="611.1" cy="436.4"/><circle cx="717.6" cy="326.5"/><circle cx="674.4" cy="358.8"/><circle cx="685.5" cy="382.6"/><circle cx="554.3" cy="450.7"/><circle cx="687.7" cy="354.7"/><circle cx="731.4" cy="312"/><circle cx="733.6" cy="325.1"/><circle cx="740.9" cy="315.9"/><circle cx="740.3" cy="302.3"/><circle cx="621.5" cy="409.7"/><circle cx="646.7" cy="377.6"/><circle cx="564.6" cy="458"/><circle cx="646.5" cy="367.9"/><circle cx="557.2" cy="471.3"/><circle cx="538" cy="488.6"/><circle cx="645.6" cy="372.5"/><circle cx="556" cy="456.4"/><circle cx="455.5" cy="550.3"/><circle cx="604.3" cy="396"/><circle cx="543.7" cy="468.7"/><circle cx="682.9" cy="363.2"/><circle cx="575.7" cy="421.2"/><circle cx="491.4" cy="496.7"/><circle cx="624.1" cy="424.9"/><circle cx="571.1" cy="451.9"/><circle cx="495.6" cy="501.9"/><circle cx="636.4" cy="376.1"/><circle cx="651.9" cy="392.4"/><circle cx="629.5" cy="389.1"/><circle cx="660.5" cy="412.1"/><circle cx="534.8" cy="479.7"/><circle cx="513.9" cy="508.8"/><circle cx="730" cy="324.5"/><circle cx="623.8" cy="429.4"/><circle cx="612.2" cy="418.7"/><circle cx="626.7" cy="385.5"/><circle cx="650.1" cy="387.6"/><circle cx="621.3" cy="399.7"/><circle cx="671.7" cy="370.3"/><circle cx="575.7" cy="438.2"/><circle cx="769.3" cy="291.1"/><circle cx="681.6" cy="351.6"/><circle cx="636.9" cy="387.2"/><circle cx="674.9" cy="368.3"/><circle cx="501" cy="498.3"/><circle cx="541.9" cy="486.1"/><circle cx="510.5" cy="507.6"/><circle cx="616.2" cy="402.6"/><circle cx="677.4" cy="345.7"/><circle cx="567.8" cy="470.8"/><circle cx="771" cy="286.5"/><circle cx="548.6" cy="443.1"/><circle cx="673.2" cy="355"/><circle cx="526" cy="476.7"/><circle cx="568.6" cy="470.9"/><circle cx="664.7" cy="385.9"/><circle cx="664.7" cy="374.6"/><circle cx="595.6" cy="404"/><circle cx="463.7" cy="526.6"/><circle cx="417.3" cy="559.1"/><circle cx="613.8" cy="436.8"/><circle cx="642.4" cy="386.7"/><circle cx="508.3" cy="504.6"/><circle cx="539.7" cy="458.5"/><circle cx="668.8" cy="372.4"/><circle cx="612.5" cy="397.6"/><circle cx="631.7" cy="405.3"/><circle cx="561.4" cy="417.7"/><circle cx="611" cy="434.3"/><circle cx="546.5" cy="468.6"/><circle cx="497.2" cy="518.9"/><circle cx="753.7" cy="290.9"/><circle cx="618.2" cy="386"/><circle cx="742.2" cy="314.6"/><circle cx="547.2" cy="443.4"/><circle cx="665.2" cy="367.2"/><circle cx="531.1" cy="482.5"/><circle cx="503.9" cy="475.6"/><circle cx="512.7" cy="489.9"/><circle cx="572.2" cy="452.3"/><circle cx="662.5" cy="358.2"/><circle cx="685.2" cy="369.8"/><circle cx="635.1" cy="391.5"/><circle cx="609.1" cy="394.5"/><circle cx="627.2" cy="389.1"/><circle cx="725.4" cy="315.4"/><circle cx="677.5" cy="361.8"/><circle cx="672.1" cy="376.5"/><circle cx="557.6" cy="455.9"/><circle cx="509.3" cy="499.9"/><circle cx="560.5" cy="453.3"/><circle cx="637.4" cy="402"/><circle cx="626.2" cy="419.8"/><circle cx="835.4" cy="238.7"/><circle cx="567.7" cy="421.4"/><circle cx="681.5" cy="361.7"/><circle cx="746.7" cy="306.8"/><circle cx="576" cy="466.7"/><circle cx="674.8" cy="380.2"/><circle cx="623" cy="381.3"/><circle cx="645.3" cy="377.9"/><circle cx="624.4" cy="371.7"/><circle cx="501.8" cy="508.1"/><circle cx="559.6" cy="458.9"/><circle cx="758.5" cy="296.5"/><circle cx="587" cy="406.9"/><circle cx="505.8" cy="505"/><circle cx="708.8" cy="327"/><circle cx="677" cy="372.5"/><circle cx="623.7" cy="388.1"/><circle cx="505.2" cy="521.7"/><circle cx="636.9" cy="362.6"/><circle cx="591.7" cy="446.4"/><circle cx="544.3" cy="486"/><circle cx="640.9" cy="378"/><circle cx="621.6" cy="403.8"/><circle cx="444.9" cy="537.3"/><circle cx="665.8" cy="384.9"/><circle cx="527.5" cy="516.1"/><circle cx="553.7" cy="440.1"/><circle cx="582.2" cy="414.6"/><circle cx="554" cy="467.8"/><circle cx="491.8" cy="492.9"/><circle cx="617.2" cy="421.3"/><circle cx="524.8" cy="476.2"/><circle cx="622.4" cy="411.7"/><circle cx="565.2" cy="465.7"/><circle cx="662.1" cy="377.7"/><circle cx="728.5" cy="334.6"/><circle cx="574.1" cy="425.4"/><circle cx="598" cy="404.5"/><circle cx="681.9" cy="362.1"/><circle cx="599.2" cy="404.3"/><circle cx="548.5" cy="462.7"/><circle cx="542.5" cy="477"/><circle cx="744.1" cy="310.6"/><circle cx="559.2" cy="461.8"/><circle cx="578.8" cy="444.3"/><circle cx="493.9" cy="504.4"/><circle cx="601.6" cy="412.9"/><circle cx="731.1" cy="337.1"/><circle cx="625.2" cy="423.7"/><circle cx="531.8" cy="467.4"/><circle cx="478.3" cy="537.7"/><circle cx="639.9" cy="386.8"/><circle cx="694.9" cy="358.2"/><circle cx="615.1" cy="387.9"/><circle cx="517.2" cy="499.5"/><circle cx="611.7" cy="425.7"/><circle cx="489.7" cy="487.5"/><circle cx="726" cy="330.5"/><circle cx="654.1" cy="402.8"/><circle cx="581" cy="436.3"/><circle cx="735.3" cy="331.2"/><circle cx="601.3" cy="405.6"/><circle cx="444.1" cy="527.2"/><circle cx="466.6" cy="507"/><circle cx="764.4" cy="303.7"/><circle cx="713.9" cy="308.1"/><circle cx="568.6" cy="459.8"/><circle cx="648.2" cy="380.8"/><circle cx="671.9" cy="380.1"/><circle cx="612.7" cy="416.3"/><circle cx="563" cy="451.7"/><circle cx="670.7" cy="378.7"/><circle cx="670.9" cy="383.1"/><circle cx="654.1" cy="399.5"/><circle cx="558.6" cy="474"/><circle cx="585.1" cy="448.5"/><circle cx="654.2" cy="371.4"/><circle cx="708.7" cy="336.4"/><circle cx="541.5" cy="442.1"/><circle cx="407.1" cy="574.3"/><circle cx="494.3" cy="504.6"/><circle cx="661.9" cy="396.4"/><circle cx="563.9" cy="482.6"/><circle cx="465.7" cy="510.3"/><circle cx="520" cy="459.3"/><circle cx="434.8" cy="541.2"/><circle cx="536.2" cy="476.9"/><circle cx="665.6" cy="400.3"/><circle cx="470.8" cy="504.7"/><circle cx="662.7" cy="352.9"/><circle cx="637.8" cy="371.9"/><circle cx="602.6" cy="442.2"/><circle cx="506.6" cy="486.8"/><circle cx="672.7" cy="361.5"/><circle cx="551.2" cy="441.3"/><circle cx="776.5" cy="289.7"/><circle cx="664.9" cy="366.5"/><circle cx="601.6" cy="420.9"/><circle cx="650.9" cy="371.2"/><circle cx="648.8" cy="374.6"/><circle cx="588.4" cy="452.2"/><circle cx="606" cy="407.6"/><circle cx="622.5" cy="415.1"/><circle cx="541.4" cy="461.3"/><circle cx="599.8" cy="403.6"/><circle cx="463.8" cy="538.1"/><circle cx="627" cy="384.8"/><circle cx="590.7" cy="430.7"/><circle cx="496.7" cy="523.2"/><circle cx="592.6" cy="423.4"/><circle cx="588.6" cy="419.7"/><circle cx="540.6" cy="487.6"/><circle cx="559.6" cy="451.9"/><circle cx="620.5" cy="392.7"/><circle cx="681.6" cy="359.4"/><circle cx="544.1" cy="478.5"/><circle cx="784.4" cy="282.7"/><circle cx="603.9" cy="425.3"/><circle cx="655.1" cy="388"/><circle cx="698.8" cy="345.5"/><circle cx="464.8" cy="510.2"/><circle cx="601.2" cy="421.3"/><circle cx="563.8" cy="420.7"/><circle cx="671.7" cy="373.9"/><circle cx="705.8" cy="327.7"/><circle cx="792.7" cy="262.6"/><circle cx="569.4" cy="472.4"/><circle cx="607.7" cy="419.3"/><circle cx="615.1" cy="412.5"/><circle cx="570.1" cy="439.8"/><circle cx="665" cy="373.2"/><circle cx="643.9" cy="376.2"/><circle cx="654.5" cy="371.5"/><circle cx="521.3" cy="484.6"/><circle cx="532.4" cy="475.9"/><circle cx="470.8" cy="550.3"/><circle cx="496.9" cy="493.7"/><circle cx="625.4" cy="416.3"/><circle cx="453.3" cy="561.7"/><circle cx="611.7" cy="418.3"/><circle cx="645.7" cy="378.5"/><circle cx="596.8" cy="434.2"/><circle cx="533.6" cy="467.6"/><circle cx="533.9" cy="456.6"/><circle cx="604.5" cy="429.7"/><circle cx="572.5" cy="445.8"/><circle cx="597.6" cy="448.9"/><circle cx="690.2" cy="351.6"/><circle cx="595.3" cy="430.4"/><circle cx="664.4" cy="374.8"/><circle cx="760.1" cy="295.3"/><circle cx="534.9" cy="481.8"/><circle cx="593.7" cy="436.3"/><circle cx="665.6" cy="379.9"/><circle cx="781.6" cy="273.2"/><circle cx="472.1" cy="521.1"/><circle cx="645.3" cy="389.6"/><circle cx="678.9" cy="351.6"/><circle cx="653.2" cy="356.9"/><circle cx="498.5" cy="525.1"/><circle cx="710.8" cy="349.8"/><circle cx="586.7" cy="439.2"/><circle cx="561.7" cy="445.1"/><circle cx="616.6" cy="419.2"/><circle cx="631.8" cy="415.4"/><circle cx="485.1" cy="518.1"/><circle cx="609.5" cy="414.5"/><circle cx="814.2" cy="249.8"/><circle cx="662.6" cy="373.7"/><circle cx="577.5" cy="424.8"/><circle cx="577.7" cy="444.4"/><circle cx="660" cy="361.7"/><circle cx="680.3" cy="350.8"/><circle cx="571.3" cy="425.5"/><circle cx="641.9" cy="366"/><circle cx="730" cy="322.6"/><circle cx="677.9" cy="387.8"/><circle cx="514.8" cy="489.1"/><circle cx="639.8" cy="363.9"/><circle cx="566.1" cy="447.5"/><circle cx="559.2" cy="427.2"/><circle cx="642.9" cy="386.4"/><circle cx="830.6" cy="235.4"/><circle cx="551.7" cy="461.5"/><circle cx="704.3" cy="346.3"/><circle cx="575.9" cy="438.1"/><circle cx="480.4" cy="518.2"/><circle cx="524" cy="468.7"/><circle cx="559.6" cy="443.5"/><circle cx="517.2" cy="482.7"/><circle cx="510.2" cy="492.1"/><circle cx="653.9" cy="384.1"/><circle cx="633.8" cy="401.6"/><circle cx="616.4" cy="385.4"/><circle cx="594" cy="443.4"/><circle cx="616.4" cy="414.4"/><circle cx="618.2" cy="405.5"/><circle cx="613.2" cy="410.3"/><circle cx="397.3" cy="570.7"/><circle cx="625" cy="410"/><circle cx="610.8" cy="374.6"/><circle cx="553.1" cy="470.1"/><circle cx="727.3" cy="315.6"/><circle cx="547.1" cy="459.7"/><circle cx="611.2" cy="399.3"/><circle cx="379.1" cy="613.7"/><circle cx="603.3" cy="401.5"/><circle cx="632" cy="395.7"/><circle cx="651.2" cy="388.4"/><circle cx="552.2" cy="485.6"/><circle cx="589.2" cy="448"/><circle cx="605.7" cy="417.3"/><circle cx="523.7" cy="495"/><circle cx="619.4" cy="396.9"/><circle cx="592.6" cy="427.3"/><circle cx="678.6" cy="372.1"/><circle cx="475.4" cy="546.8"/><circle cx="600.2" cy="401.1"/><circle cx="750.1" cy="301.5"/><circle cx="512.9" cy="498.9"/><circle cx="521.8" cy="493.7"/><circle cx="592.5" cy="432.8"/><circle cx="642.5" cy="385.8"/><circle cx="640.3" cy="374"/><circle cx="626.5" cy="380.5"/><circle cx="675.3" cy="370.3"/><circle cx="619.5" cy="396.2"/><circle cx="583.1" cy="431.4"/><circle cx="517.2" cy="475.9"/><circle cx="572.4" cy="435.9"/><circle cx="578.8" cy="423.3"/><circle cx="560.6" cy="447"/><circle cx="747.7" cy="304.7"/><circle cx="663.2" cy="379.9"/><circle cx="492.3" cy="494"/><circle cx="629.5" cy="368.3"/><circle cx="566.9" cy="441.7"/><circle cx="574" cy="446.5"/><circle cx="528.5" cy="469.6"/><circle cx="612.6" cy="424.3"/><circle cx="653.3" cy="379.8"/><circle cx="657.1" cy="363.4"/><circle cx="462.6" cy="544.4"/><circle cx="654.4" cy="384.5"/><circle cx="696.3" cy="344.3"/><circle cx="688.2" cy="349.3"/><circle cx="855.6" cy="211.3"/><circle cx="629.2" cy="366"/><circle cx="560" cy="461"/><circle cx="705.9" cy="368.8"/><circle cx="754.3" cy="310.1"/><circle cx="627.6" cy="407.8"/><circle cx="450.8" cy="542.6"/><circle cx="586.2" cy="425.6"/><circle cx="536.7" cy="497.7"/><circle cx="646.9" cy="389.1"/><circle cx="692.5" cy="365.1"/><circle cx="770.5" cy="288.7"/><circle cx="562.6" cy="462.6"/><circle cx="492.8" cy="521.9"/><circle cx="568.5" cy="432.7"/><circle cx="665.4" cy="350.7"/><circle cx="705.5" cy="347.6"/><circle cx="608.1" cy="430.7"/><circle cx="453.3" cy="549.8"/><circle cx="558" cy="448.6"/><circle cx="686.7" cy="333.4"/><circle cx="737.2" cy="308.2"/><circle cx="579.8" cy="454.9"/><circle cx="697.5" cy="357.6"/><circle cx="672.4" cy="361.5"/><circle cx="601.1" cy="434.5"/><circle cx="593.8" cy="423.3"/><circle cx="668.8" cy="355.4"/><circle cx="518.9" cy="485.8"/><circle cx="534.3" cy="461.8"/><circle cx="537.8" cy="485.5"/><circle cx="563.5" cy="438"/><circle cx="684.8" cy="359.7"/><circle cx="677.5" cy="379"/><circle cx="537.4" cy="470.2"/><circle cx="450.3" cy="527.5"/><circle cx="753.7" cy="312.4"/><circle cx="698.9" cy="351.9"/><circle cx="457.2" cy="557.1"/><circle cx="557.6" cy="453.6"/><circle cx="585.7" cy="440.3"/><circle cx="396.5" cy="585.3"/><circle cx="564.9" cy="458.8"/><circle cx="652.2" cy="382.2"/><circle cx="638.7" cy="384.7"/><circle cx="621.6" cy="384.4"/><circle cx="454.6" cy="525"/><circle cx="622.8" cy="396.5"/><circle cx="612.5" cy="418.5"/><circle cx="631.9" cy="404.3"/><circle cx="681.1" cy="356.8"/><circle cx="412.7" cy="587.9"/><circle cx="755.3" cy="318.8"/><circle cx="674.3" cy="358.8"/><circle cx="594.6" cy="437.5"/><circle cx="577.3" cy="446.2"/><circle cx="590" cy="435.1"/><circle cx="615.2" cy="410.6"/><circle cx="680.8" cy="326.3"/><circle cx="601.2" cy="438.6"/><circle cx="584.3" cy="406"/><circle cx="763.1" cy="298"/><circle cx="570.2" cy="459.1"/><circle cx="531" cy="486"/><circle cx="610.3" cy="395.5"/><circle cx="535.6" cy="453.3"/><circle cx="656.4" cy="380"/><circle cx="479.3" cy="492.4"/><circle cx="686.6" cy="375.1"/><circle cx="775.8" cy="298.8"/><circle cx="708.3" cy="336.6"/><circle cx="637.5" cy="388.9"/><circle cx="580.4" cy="440.7"/><circle cx="497.9" cy="537.6"/><circle cx="568.7" cy="430.3"/><circle cx="673.9" cy="353.2"/><circle cx="515.4" cy="496"/><circle cx="534.8" cy="465.3"/><circle cx="704.2" cy="352.6"/><circle cx="589.6" cy="466.8"/><circle cx="625.5" cy="414.4"/><circle cx="367.5" cy="604.3"/><circle cx="626.8" cy="403"/><circle cx="737.1" cy="313.1"/><circle cx="767.8" cy="282.2"/><circle cx="539.3" cy="481.4"/><circle cx="638.9" cy="413"/><circle cx="605.3" cy="427.9"/><circle cx="711.7" cy="358"/><circle cx="580.9" cy="423.3"/><circle cx="427.3" cy="557.8"/><circle cx="579.5" cy="415.3"/><circle cx="689.3" cy="355.1"/><circle cx="516.7" cy="510.2"/><circle cx="432.4" cy="556"/><circle cx="616.6" cy="402"/><circle cx="592.5" cy="441"/><circle cx="584.8" cy="456.1"/><circle cx="650.8" cy="386.3"/><circle cx="698.6" cy="345.4"/><circle cx="536" cy="494.5"/><circle cx="686.5" cy="362.8"/><circle cx="680.8" cy="380.1"/><circle cx="663.7" cy="363.4"/><circle cx="691.4" cy="352"/><circle cx="673.7" cy="356.8"/><circle cx="543.7" cy="441.5"/><circle cx="603.2" cy="401.9"/><circle cx="620.4" cy="414.9"/><circle cx="778.5" cy="290.6"/><circle cx="649.1" cy="379.8"/><circle cx="700" cy="340"/><circle cx="503.9" cy="521.5"/><circle cx="374.4" cy="598"/><circle cx="542.9" cy="477"/><circle cx="745.3" cy="297.3"/><circle cx="604.1" cy="391.2"/><circle cx="570.4" cy="448.8"/><circle cx="656.3" cy="377.4"/><circle cx="566.7" cy="437.8"/><circle cx="460.2" cy="507.7"/><circle cx="722.1" cy="331.1"/><circle cx="682.5" cy="347"/><circle cx="681.7" cy="385.2"/><circle cx="591.3" cy="438.3"/><circle cx="603.1" cy="410.3"/><circle cx="558.7" cy="435.9"/><circle cx="585.7" cy="432.9"/><circle cx="674.5" cy="354.9"/><circle cx="693.6" cy="333.5"/><circle cx="583" cy="446.7"/><circle cx="535" cy="461"/><circle cx="615.2" cy="419.2"/><circle cx="652.4" cy="372.4"/><circle cx="551.1" cy="467.4"/><circle cx="747.7" cy="310.6"/><circle cx="611.1" cy="431.6"/><circle cx="497.3" cy="519.7"/><circle cx="628.2" cy="383.9"/><circle cx="546.7" cy="479.4"/><circle cx="755" cy="321.5"/><circle cx="534.5" cy="460.3"/><circle cx="682.9" cy="369.4"/><circle cx="680.5" cy="359.4"/><circle cx="575.1" cy="449.1"/><circle cx="677.9" cy="347.6"/><circle cx="558.7" cy="457.1"/><circle cx="536.5" cy="454.9"/><circle cx="641.2" cy="387.2"/><circle cx="576.6" cy="457.3"/><circle cx="555.4" cy="458"/><circle cx="592.7" cy="411.9"/><circle cx="610.8" cy="430.8"/><circle cx="508.2" cy="503.6"/><circle cx="450.3" cy="528.1"/><circle cx="477.6" cy="531.2"/><circle cx="646.9" cy="351.8"/><circle cx="776.2" cy="269.9"/><circle cx="552" cy="463.9"/><circle cx="641.6" cy="385.7"/><circle cx="631.6" cy="417.2"/><circle cx="750.6" cy="304.7"/><circle cx="570.2" cy="417.9"/><circle cx="599.8" cy="463.1"/><circle cx="605.5" cy="419"/><circle cx="724.6" cy="328.7"/><circle cx="685.8" cy="336.6"/><circle cx="663.9" cy="402.4"/><circle cx="718.7" cy="350"/><circle cx="640.6" cy="414.7"/><circle cx="608.9" cy="423.7"/><circle cx="575.7" cy="459.2"/><circle cx="594.4" cy="442.3"/><circle cx="568.3" cy="424.1"/><circle cx="538.6" cy="494.2"/><circle cx="498.2" cy="484.5"/><circle cx="531.8" cy="487.7"/><circle cx="562.4" cy="410.8"/><circle cx="685.7" cy="369.1"/><circle cx="680.4" cy="336"/><circle cx="577.9" cy="457.4"/><circle cx="483.1" cy="526.3"/><circle cx="517.8" cy="494.3"/><circle cx="643.8" cy="383.4"/><circle cx="544.1" cy="471.3"/><circle cx="617.4" cy="424.3"/><circle cx="539" cy="457.8"/><circle cx="700.2" cy="331.2"/><circle cx="593.4" cy="446.4"/><circle cx="652.8" cy="346.2"/><circle cx="606.1" cy="438.4"/><circle cx="577.9" cy="402.6"/><circle cx="593.3" cy="426.5"/><circle cx="535.5" cy="495.8"/><circle cx="489" cy="533.5"/><circle cx="644" cy="364.5"/><circle cx="771.6" cy="285.5"/><circle cx="560.7" cy="470.8"/><circle cx="639.9" cy="406.4"/><circle cx="422.8" cy="573.9"/><circle cx="589.8" cy="413.8"/><circle cx="615.6" cy="442.6"/><circle cx="384" cy="588.4"/><circle cx="599.1" cy="457"/><circle cx="585.1" cy="445.1"/><circle cx="575.4" cy="460.6"/><circle cx="581.2" cy="454"/><circle cx="596.6" cy="433.9"/><circle cx="631.7" cy="388"/><circle cx="368.9" cy="605.8"/><circle cx="539.7" cy="459.8"/><circle cx="459" cy="516.6"/><circle cx="637.8" cy="386.9"/><circle cx="587.7" cy="434.9"/><circle cx="526.9" cy="477.1"/><circle cx="635.9" cy="412.6"/><circle cx="439.4" cy="546.2"/><circle cx="531.6" cy="493.2"/><circle cx="600.8" cy="430.8"/><circle cx="626.9" cy="428.7"/><circle cx="505.1" cy="509.2"/><circle cx="701.1" cy="361.6"/><circle cx="656" cy="392.9"/><circle cx="755.8" cy="302.8"/><circle cx="677.1" cy="379.3"/><circle cx="659.4" cy="360.4"/><circle cx="490.3" cy="516.1"/><circle cx="647.8" cy="390.1"/><circle cx="744.9" cy="321.4"/><circle cx="683.5" cy="339"/><circle cx="565.9" cy="450.9"/><circle cx="579.4" cy="451.3"/><circle cx="548.7" cy="478.6"/><circle cx="764.9" cy="290.4"/><circle cx="635.7" cy="374.5"/><circle cx="574.6" cy="450.9"/><circle cx="565.8" cy="427.4"/><circle cx="459.5" cy="538.6"/><circle cx="476.2" cy="524.1"/><circle cx="625.5" cy="406.9"/><circle cx="745.7" cy="324.5"/><circle cx="620.3" cy="423"/><circle cx="616.2" cy="418.5"/><circle cx="673.3" cy="378.2"/><circle cx="474.8" cy="523.7"/><circle cx="548.8" cy="471"/><circle cx="500" cy="509.7"/><circle cx="543" cy="460.5"/><circle cx="651.2" cy="386.7"/><circle cx="514.5" cy="491.3"/><circle cx="528.8" cy="483.7"/><circle cx="735.1" cy="308.5"/><circle cx="556" cy="444.8"/><circle cx="470.2" cy="508.5"/><circle cx="636.6" cy="383.1"/><circle cx="634.1" cy="423.4"/><circle cx="775.6" cy="298.4"/><circle cx="603.2" cy="422.3"/><circle cx="554.8" cy="424"/><circle cx="553.4" cy="482"/><circle cx="409" cy="568.5"/><circle cx="610.3" cy="398.8"/><circle cx="614.4" cy="436.3"/><circle cx="655.1" cy="382.8"/><circle cx="746.7" cy="329.9"/><circle cx="729.7" cy="326.1"/><circle cx="654.9" cy="370.6"/><circle cx="587.8" cy="422.6"/><circle cx="766.8" cy="275.8"/><circle cx="724.4" cy="328.5"/><circle cx="625.3" cy="394"/><circle cx="588.6" cy="443.5"/><circle cx="676.8" cy="362.4"/><circle cx="585.5" cy="466.1"/><circle cx="691.7" cy="346.1"/><circle cx="689.9" cy="359.8"/><circle cx="558.3" cy="488.1"/><circle cx="587.5" cy="446.9"/><circle cx="646.9" cy="413.1"/><circle cx="604.6" cy="445.7"/><circle cx="636.7" cy="392.6"/><circle cx="591.1" cy="424"/><circle cx="643.1" cy="352"/><circle cx="530.6" cy="479.3"/><circle cx="593.3" cy="427.7"/><circle cx="634.7" cy="402"/><circle cx="682.3" cy="383.9"/><circle cx="488.9" cy="511.1"/><circle cx="470.7" cy="524.2"/><circle cx="650.9" cy="393"/><circle cx="646.2" cy="385.2"/><circle cx="639" cy="386"/><circle cx="331.2" cy="639.3"/><circle cx="569.7" cy="448.1"/><circle cx="738.1" cy="320.6"/><circle cx="586.3" cy="419"/><circle cx="445" cy="538.6"/><circle cx="612" cy="415.2"/><circle cx="421.4" cy="551.7"/><circle cx="605.7" cy="433.6"/><circle cx="640.6" cy="406.5"/><circle cx="719.1" cy="328.1"/><circle cx="484.6" cy="534.4"/><circle cx="563.9" cy="461.9"/><circle cx="632.5" cy="404.2"/><circle cx="465.8" cy="553.4"/><circle cx="593.8" cy="454.3"/><circle cx="591.5" cy="438.3"/><circle cx="562.3" cy="455"/><circle cx="599.2" cy="416"/><circle cx="706.3" cy="331.6"/><circle cx="610.8" cy="407.9"/><circle cx="623.8" cy="401.7"/><circle cx="759.2" cy="296.8"/><circle cx="394" cy="583.2"/><circle cx="744.8" cy="317.7"/><circle cx="586.7" cy="414.3"/><circle cx="674.7" cy="347.1"/><circle cx="529.9" cy="479.5"/><circle cx="583.8" cy="431.5"/><circle cx="618.1" cy="394.5"/><circle cx="786.2" cy="291.7"/><circle cx="590.9" cy="427.1"/><circle cx="619.8" cy="413.6"/><circle cx="695" cy="334.2"/><circle cx="584.4" cy="430.9"/><circle cx="408.1" cy="595.9"/><circle cx="652.7" cy="386.7"/><circle cx="555.1" cy="469.8"/><circle cx="612.9" cy="403.8"/><circle cx="506.9" cy="474.7"/><circle cx="754.4" cy="319.4"/><circle cx="645.2" cy="397.5"/><circle cx="644.1" cy="399.7"/><circle cx="373.5" cy="602.5"/><circle cx="575.9" cy="438"/><circle cx="499.6" cy="499"/><circle cx="533.4" cy="458.5"/><circle cx="604.7" cy="431.9"/><circle cx="606.5" cy="407.4"/><circle cx="676.8" cy="340.3"/><circle cx="671" cy="370"/><circle cx="527.5" cy="479.8"/><circle cx="585.7" cy="424.6"/><circle cx="647.2" cy="391.1"/><circle cx="530.1" cy="488.5"/><circle cx="498.4" cy="524.1"/><circle cx="583.2" cy="428.1"/><circle cx="670.2" cy="359.6"/><circle cx="835.5" cy="237"/><circle cx="709.4" cy="340.1"/><circle cx="486.1" cy="510.3"/><circle cx="589.8" cy="446.2"/><circle cx="591.4" cy="453.2"/><circle cx="674.5" cy="376.4"/><circle cx="732.1" cy="310.5"/><circle cx="434.9" cy="572.8"/><circle cx="708.4" cy="336.9"/><circle cx="507.7" cy="496.5"/><circle cx="549.4" cy="498.4"/><circle cx="575.6" cy="457.9"/><circle cx="740" cy="317.2"/><circle cx="728.1" cy="324.6"/><circle cx="539.5" cy="445.6"/><circle cx="419.7" cy="580.2"/><circle cx="543" cy="466.7"/><circle cx="563.5" cy="459.3"/><circle cx="597" cy="449.3"/><circle cx="541.5" cy="458.2"/><circle cx="519.9" cy="495.3"/><circle cx="689.8" cy="325.8"/><circle cx="661.3" cy="382.6"/><circle cx="528.3" cy="493.7"/><circle cx="539.4" cy="461"/><circle cx="618.3" cy="427.5"/><circle cx="611.1" cy="414.5"/><circle cx="632" cy="416.1"/><circle cx="484" cy="505.7"/><circle cx="715.7" cy="323.7"/><circle cx="640.4" cy="411.5"/><circle cx="539.7" cy="493.5"/><circle cx="661.5" cy="362.1"/><circle cx="651.8" cy="406.1"/><circle cx="577.1" cy="418.4"/><circle cx="797.4" cy="270"/><circle cx="560.4" cy="438.5"/><circle cx="454.6" cy="526.3"/><circle cx="703.2" cy="343.3"/><circle cx="627.3" cy="398.4"/><circle cx="595.3" cy="442.3"/><circle cx="586.8" cy="429.9"/><circle cx="594.7" cy="400.7"/><circle cx="673.7" cy="380.5"/><circle cx="719.9" cy="353.8"/><circle cx="522" cy="457.6"/><circle cx="703.7" cy="355.9"/><circle cx="685.5" cy="335.6"/><circle cx="557.2" cy="468.6"/><circle cx="508.7" cy="491"/><circle cx="651.9" cy="364.5"/><circle cx="749.2" cy="308.7"/><circle cx="674.9" cy="355.8"/><circle cx="830.2" cy="246.1"/><circle cx="726.8" cy="323.3"/><circle cx="564" cy="457.8"/><circle cx="546.8" cy="466.7"/><circle cx="735.6" cy="327.7"/><circle cx="490.3" cy="501.7"/><circle cx="634.1" cy="400.5"/><circle cx="716.2" cy="336.8"/><circle cx="528" cy="482.2"/><circle cx="681" cy="364.4"/><circle cx="623.9" cy="399.9"/><circle cx="624.6" cy="397.1"/><circle cx="623.4" cy="399.6"/><circle cx="578.2" cy="446.5"/><circle cx="597.5" cy="442.9"/><circle cx="553.7" cy="466.6"/><circle cx="665.7" cy="370.8"/><circle cx="697.5" cy="354.8"/><circle cx="501.7" cy="518.2"/><circle cx="523.1" cy="493.6"/><circle cx="581.8" cy="466.9"/><circle cx="688.3" cy="356.7"/><circle cx="666.8" cy="373.8"/><circle cx="712.7" cy="330"/><circle cx="533.1" cy="465.1"/><circle cx="528.5" cy="485"/><circle cx="676.5" cy="360.5"/><circle cx="758.1" cy="307.7"/><circle cx="330.8" cy="647.5"/><circle cx="729.3" cy="325"/><circle cx="617.7" cy="440.6"/><circle cx="620.9" cy="421.2"/><circle cx="648.6" cy="402.9"/><circle cx="492" cy="500.5"/><circle cx="377.3" cy="593.9"/><circle cx="541.7" cy="463.7"/><circle cx="570.8" cy="467.4"/><circle cx="570.2" cy="432"/><circle cx="538.9" cy="474.3"/><circle cx="583" cy="464.1"/><circle cx="486.3" cy="511"/><circle cx="541.7" cy="471.1"/><circle cx="709.6" cy="347"/><circle cx="402.7" cy="558.6"/><circle cx="605.7" cy="441.1"/><circle cx="580.9" cy="435.4"/><circle cx="639.3" cy="389.1"/><circle cx="705.8" cy="320.9"/><circle cx="547.7" cy="453.8"/><circle cx="556.6" cy="416.4"/><circle cx="614.6" cy="432.3"/><circle cx="763.1" cy="310"/><circle cx="738.6" cy="307.6"/><circle cx="606.7" cy="436.1"/><circle cx="673.5" cy="374.6"/><circle cx="618" cy="394.8"/><circle cx="647.3" cy="371"/><circle cx="456.2" cy="509.3"/><circle cx="742.9" cy="297"/><circle cx="686.2" cy="332.9"/><circle cx="768.9" cy="297.6"/><circle cx="520.6" cy="519.2"/><circle cx="579" cy="449.5"/><circle cx="694.2" cy="326.8"/><circle cx="540.4" cy="464.8"/><circle cx="703.3" cy="342.8"/><circle cx="612" cy="390.5"/><circle cx="603.6" cy="406.1"/><circle cx="686.6" cy="361.7"/><circle cx="445.5" cy="541.4"/><circle cx="532.4" cy="465.5"/><circle cx="655.3" cy="353.4"/><circle cx="731.4" cy="331.5"/><circle cx="540.3" cy="477.6"/><circle cx="716" cy="357"/><circle cx="714.9" cy="318.5"/><circle cx="733.8" cy="326.8"/><circle cx="697.4" cy="357.6"/><circle cx="655.7" cy="382.5"/><circle cx="826.1" cy="238.3"/><circle cx="544.1" cy="460.9"/><circle cx="494.5" cy="509.7"/><circle cx="590.4" cy="442.8"/><circle cx="608.7" cy="417.8"/><circle cx="497.9" cy="500.5"/><circle cx="531.2" cy="480.2"/><circle cx="577" cy="444"/><circle cx="404.9" cy="589.8"/><circle cx="598.6" cy="427.9"/><circle cx="536.5" cy="460.5"/><circle cx="423.6" cy="554.4"/><circle cx="639.8" cy="394"/><circle cx="557.7" cy="456.1"/><circle cx="667" cy="394.2"/><circle cx="571.1" cy="436.1"/><circle cx="430" cy="552.9"/><circle cx="646.6" cy="382.3"/><circle cx="544.2" cy="445"/><circle cx="663.8" cy="376.4"/><circle cx="692.3" cy="339.7"/><circle cx="675.7" cy="358.7"/><circle cx="672.6" cy="354.9"/><circle cx="524.4" cy="480.6"/><circle cx="698.3" cy="349.6"/><circle cx="560.5" cy="413.1"/><circle cx="649.5" cy="383.4"/><circle cx="528.8" cy="484.5"/><circle cx="713.4" cy="322.2"/><circle cx="742" cy="308"/><circle cx="579.6" cy="468.9"/><circle cx="580.6" cy="431"/><circle cx="677" cy="371.1"/><circle cx="593" cy="411.5"/><circle cx="816.8" cy="254.9"/><circle cx="651" cy="355"/><circle cx="679.3" cy="364.4"/><circle cx="427" cy="555.1"/><circle cx="575.9" cy="445.1"/><circle cx="565.5" cy="449.7"/><circle cx="660.5" cy="384.5"/><circle cx="638.6" cy="373.8"/><circle cx="585.5" cy="412.5"/><circle cx="605.3" cy="425.7"/><circle cx="578.3" cy="443"/><circle cx="493" cy="474.3"/><circle cx="624.9" cy="429"/><circle cx="659.8" cy="373.5"/><circle cx="492.7" cy="508.2"/><circle cx="583.2" cy="408.8"/><circle cx="628.3" cy="401.7"/><circle cx="457.8" cy="544.2"/><circle cx="511.8" cy="503.8"/><circle cx="622" cy="387.8"/><circle cx="543.3" cy="480.6"/><circle cx="590.5" cy="446.3"/><circle cx="724.3" cy="348.8"/><circle cx="591.7" cy="427.5"/><circle cx="485" cy="520.7"/><circle cx="580.7" cy="403"/><circle cx="440.8" cy="517.2"/><circle cx="483.1" cy="516.1"/><circle cx="623.3" cy="406"/><circle cx="651.8" cy="380.4"/><circle cx="548" cy="457.1"/><circle cx="599.1" cy="434"/><circle cx="655.4" cy="390.4"/><circle cx="721" cy="325.3"/><circle cx="583.2" cy="437.5"/><circle cx="632.4" cy="404.6"/><circle cx="658.8" cy="381"/><circle cx="594.8" cy="403"/><circle cx="611" cy="407.9"/><circle cx="704.3" cy="336.5"/><circle cx="631.3" cy="420"/><circle cx="728.9" cy="313.3"/><circle cx="656.4" cy="376.5"/><circle cx="669.7" cy="364.7"/><circle cx="664.7" cy="366.6"/><circle cx="546.1" cy="439.7"/><circle cx="534.7" cy="502.9"/><circle cx="576.4" cy="440"/><circle cx="639.2" cy="399.8"/><circle cx="691.8" cy="356"/><circle cx="532.7" cy="469.3"/><circle cx="769.6" cy="272.7"/><circle cx="750.9" cy="304.7"/><circle cx="668.6" cy="388.3"/><circle cx="709.2" cy="321.7"/><circle cx="702.6" cy="342.7"/><circle cx="632.1" cy="401.4"/><circle cx="549.4" cy="456.5"/><circle cx="571" cy="439.2"/><circle cx="745.4" cy="316"/><circle cx="582" cy="433.5"/><circle cx="628.8" cy="431.8"/><circle cx="622" cy="414.4"/><circle cx="680.1" cy="381.7"/><circle cx="626.9" cy="411.9"/><circle cx="686.6" cy="343.7"/><circle cx="528.9" cy="476.9"/><circle cx="562.2" cy="452.6"/><circle cx="674.6" cy="365.3"/><circle cx="626.4" cy="373.6"/><circle cx="739.3" cy="320.9"/><circle cx="488.9" cy="521"/><circle cx="422.5" cy="566.6"/><circle cx="608.3" cy="395"/><circle cx="482.6" cy="545.4"/><circle cx="564.1" cy="444.9"/><circle cx="598.5" cy="415.2"/><circle cx="657" cy="388.9"/><circle cx="666.7" cy="386.4"/><circle cx="686.9" cy="369"/><circle cx="693.3" cy="322.3"/><circle cx="557.8" cy="474.5"/><circle cx="597.9" cy="418.8"/><circle cx="618.4" cy="402.4"/><circle cx="747.6" cy="300.9"/><circle cx="682.1" cy="367.1"/><circle cx="656" cy="395.1"/><circle cx="602.3" cy="421.3"/><circle cx="607.5" cy="410.8"/><circle cx="596.6" cy="444.1"/><circle cx="645.9" cy="385"/><circle cx="559.6" cy="458.3"/><circle cx="470.2" cy="520.6"/><circle cx="577.4" cy="445.8"/><circle cx="579.7" cy="446.6"/><circle cx="530.3" cy="465.7"/><circle cx="592.9" cy="406.1"/><circle cx="614.1" cy="407.6"/><circle cx="598.9" cy="401.9"/><circle cx="605.6" cy="415.7"/><circle cx="533.6" cy="491.9"/><circle cx="507.3" cy="492.4"/><circle cx="581.5" cy="395.8"/><circle cx="540.5" cy="454.3"/><circle cx="538.2" cy="475"/><circle cx="576.4" cy="444.4"/><circle cx="592.7" cy="415.4"/><circle cx="672.1" cy="375.1"/><circle cx="612.1" cy="400"/><circle cx="570.9" cy="471.2"/><circle cx="559.2" cy="469.8"/><circle cx="512.3" cy="501.8"/><circle cx="671.2" cy="371.4"/><circle cx="572" cy="425.1"/><circle cx="523.7" cy="484.3"/><circle cx="625.6" cy="383.4"/><circle cx="629.9" cy="415.5"/><circle cx="698.4" cy="337.5"/><circle cx="565.7" cy="448.3"/><circle cx="689.8" cy="333.5"/><circle cx="403.2" cy="575"/><circle cx="420.6" cy="544.3"/><circle cx="560.2" cy="435.3"/><circle cx="642.6" cy="389.4"/><circle cx="697.3" cy="324.8"/><circle cx="601.8" cy="431.8"/><circle cx="491.5" cy="509"/><circle cx="698" cy="340.3"/><circle cx="700.8" cy="340.3"/><circle cx="474.8" cy="516.4"/><circle cx="618.6" cy="403.2"/><circle cx="611.4" cy="410.6"/><circle cx="589.8" cy="423.4"/><circle cx="711.4" cy="349.1"/><circle cx="732.3" cy="323.3"/><circle cx="602.2" cy="424.2"/><circle cx="734" cy="298.7"/><circle cx="475.2" cy="522.5"/><circle cx="641.6" cy="407.2"/><circle cx="740.5" cy="304.5"/><circle cx="683.2" cy="375"/><circle cx="681.8" cy="364"/><circle cx="741.8" cy="315.8"/><circle cx="800.5" cy="268"/><circle cx="520.6" cy="477.6"/><circle cx="496.3" cy="504.3"/><circle cx="586.9" cy="451.3"/><circle cx="552.2" cy="484.3"/><circle cx="584.7" cy="454.6"/><circle cx="635.9" cy="419.3"/><circle cx="669.8" cy="387"/><circle cx="710.2" cy="318.9"/><circle cx="673.5" cy="373.5"/><circle cx="766.2" cy="280.1"/><circle cx="618.9" cy="390.1"/><circle cx="537.3" cy="452.4"/><circle cx="512.9" cy="479.1"/><circle cx="610.1" cy="416.4"/><circle cx="763.5" cy="287.5"/><circle cx="666.7" cy="374.5"/><circle cx="652.2" cy="399.3"/><circle cx="562.5" cy="459.4"/><circle cx="635.9" cy="364.5"/><circle cx="582.9" cy="432.5"/><circle cx="718" cy="339.9"/><circle cx="539.1" cy="466.2"/><circle cx="520.6" cy="492.3"/><circle cx="665" cy="359.1"/><circle cx="782.7" cy="277.7"/><circle cx="570.1" cy="459.8"/><circle cx="570.4" cy="427.5"/><circle cx="624.2" cy="401.9"/><circle cx="601.2" cy="419"/><circle cx="600.6" cy="415.5"/><circle cx="726.4" cy="329.4"/><circle cx="659.2" cy="396.8"/><circle cx="595.3" cy="422.6"/><circle cx="518.1" cy="477.6"/><circle cx="511.2" cy="489.5"/><circle cx="474.7" cy="547.5"/><circle cx="535.8" cy="459.5"/><circle cx="623.1" cy="386.4"/><circle cx="653.7" cy="372.2"/><circle cx="605.8" cy="429.7"/><circle cx="555.2" cy="458.2"/><circle cx="496.4" cy="517.5"/><circle cx="731.4" cy="308.2"/><circle cx="400.3" cy="581.5"/><circle cx="615.6" cy="392.4"/><circle cx="575.9" cy="425.4"/><circle cx="589.7" cy="436.7"/><circle cx="444.6" cy="543"/><circle cx="492.5" cy="543.5"/><circle cx="605.5" cy="438.1"/><circle cx="644.1" cy="388.8"/><circle cx="531.2" cy="473.2"/><circle cx="767.8" cy="279.7"/><circle cx="587.7" cy="404"/><circle cx="684" cy="373.5"/><circle cx="511.4" cy="484.2"/><circle cx="624.1" cy="407.2"/><circle cx="669.3" cy="370.6"/><circle cx="589.5" cy="443.3"/><circle cx="695.3" cy="372.9"/><circle cx="705.1" cy="352.4"/><circle cx="694.2" cy="348.1"/><circle cx="505.4" cy="521.1"/><circle cx="609.4" cy="423.8"/><circle cx="503.4" cy="498.3"/><circle cx="514.4" cy="493.7"/><circle cx="693.1" cy="363.6"/><circle cx="809.5" cy="263.7"/><circle cx="623.6" cy="393.5"/><circle cx="511.4" cy="488.9"/><circle cx="624.6" cy="379.9"/><circle cx="666.2" cy="385.4"/><circle cx="655.6" cy="376.6"/><circle cx="619.1" cy="434"/><circle cx="685.2" cy="377.4"/><circle cx="614.1" cy="414.7"/><circle cx="432.8" cy="561.8"/><circle cx="623.2" cy="391.9"/><circle cx="709.3" cy="330.1"/><circle cx="521.3" cy="486.1"/><circle cx="673.4" cy="362.9"/><circle cx="671.7" cy="393.4"/><circle cx="706.1" cy="333.1"/><circle cx="590.1" cy="441.6"/><circle cx="613.8" cy="408.3"/><circle cx="612.8" cy="414.5"/><circle cx="723.7" cy="332.1"/><circle cx="570.6" cy="427.6"/><circle cx="659.1" cy="389.6"/><circle cx="544.5" cy="487.9"/><circle cx="611.5" cy="432.3"/><circle cx="516.1" cy="487.2"/><circle cx="699.5" cy="335.7"/><circle cx="568.3" cy="463.1"/><circle cx="769.4" cy="287"/><circle cx="562.5" cy="456.8"/><circle cx="645.7" cy="358.5"/><circle cx="569" cy="422.6"/><circle cx="643.4" cy="386"/><circle cx="526.7" cy="477.7"/><circle cx="737.8" cy="305.3"/><circle cx="544.1" cy="438.9"/><circle cx="373.9" cy="615.1"/><circle cx="739.9" cy="296.5"/><circle cx="577" cy="429.2"/><circle cx="536.9" cy="484.9"/><circle cx="584.6" cy="434.6"/><circle cx="546.9" cy="470.7"/><circle cx="653.5" cy="383.5"/><circle cx="620.3" cy="408.8"/><circle cx="638.7" cy="389.3"/><circle cx="673.5" cy="351.8"/><circle cx="695.8" cy="363.6"/><circle cx="475.3" cy="527.5"/><circle cx="577" cy="443.3"/><circle cx="621.4" cy="388.3"/><circle cx="566.3" cy="468.3"/><circle cx="550.6" cy="465.8"/><circle cx="550.1" cy="441.5"/><circle cx="452.5" cy="531"/><circle cx="572.6" cy="438.1"/><circle cx="569.7" cy="422.8"/><circle cx="703.1" cy="337.2"/><circle cx="458" cy="551.9"/><circle cx="611.1" cy="435.6"/><circle cx="731.7" cy="324.4"/><circle cx="585.7" cy="436.5"/><circle cx="614.1" cy="408.8"/><circle cx="691.2" cy="342.9"/><circle cx="481" cy="513.6"/><circle cx="536.6" cy="479.1"/><circle cx="582.9" cy="413.3"/><circle cx="520.3" cy="482.6"/><circle cx="721" cy="330.9"/><circle cx="584" cy="439.7"/><circle cx="567.2" cy="424.2"/><circle cx="722.4" cy="346.1"/><circle cx="617.2" cy="417.9"/><circle cx="671.5" cy="355"/><circle cx="682.4" cy="353.2"/><circle cx="732.5" cy="329"/><circle cx="608.7" cy="431.9"/><circle cx="561.8" cy="441"/><circle cx="712.7" cy="324.2"/><circle cx="682" cy="377.6"/><circle cx="496.8" cy="514.6"/><circle cx="689.3" cy="353.2"/><circle cx="623.2" cy="395.9"/><circle cx="609.9" cy="412.3"/><circle cx="515.8" cy="475"/><circle cx="520.6" cy="500.9"/><circle cx="681.1" cy="363.6"/><circle cx="660.6" cy="381.6"/><circle cx="635.1" cy="401.5"/><circle cx="739.8" cy="303.3"/><circle cx="552" cy="451.4"/><circle cx="682.2" cy="374.6"/><circle cx="674.3" cy="384.6"/><circle cx="631.8" cy="401.4"/><circle cx="720.7" cy="326"/><circle cx="553.9" cy="474.5"/><circle cx="612.6" cy="395.4"/><circle cx="652.6" cy="367.7"/><circle cx="603.4" cy="418"/><circle cx="732.9" cy="325.1"/><circle cx="514.5" cy="494.3"/><circle cx="541.7" cy="474.1"/><circle cx="633.3" cy="376.4"/><circle cx="383.6" cy="594.7"/><circle cx="519" cy="486.1"/><circle cx="631.8" cy="391.4"/><circle cx="595.1" cy="417.3"/><circle cx="751.4" cy="311.2"/><circle cx="604.3" cy="414.6"/><circle cx="587.1" cy="418.9"/><circle cx="720.7" cy="342.4"/><circle cx="736.8" cy="318.3"/><circle cx="644.2" cy="361.8"/><circle cx="644.2" cy="395.5"/><circle cx="486.8" cy="548"/><circle cx="435.1" cy="572.3"/><circle cx="694.5" cy="365.8"/><circle cx="732.6" cy="335.2"/><circle cx="594.5" cy="434.8"/><circle cx="542.3" cy="457.7"/><circle cx="657" cy="395.7"/><circle cx="463" cy="513.3"/><circle cx="688.8" cy="356.1"/><circle cx="593.1" cy="439.1"/><circle cx="594.3" cy="433.1"/><circle cx="609.6" cy="409.1"/><circle cx="587.9" cy="413.9"/><circle cx="488.8" cy="545.2"/><circle cx="627" cy="413.5"/><circle cx="553.2" cy="450.9"/><circle cx="655" cy="363.9"/><circle cx="630.2" cy="401.4"/><circle cx="578.3" cy="442.2"/><circle cx="608.6" cy="419.3"/><circle cx="551.2" cy="485.5"/><circle cx="602.5" cy="409.3"/><circle cx="582.9" cy="444.5"/><circle cx="614" cy="443.2"/><circle cx="821.8" cy="237.7"/><circle cx="461.4" cy="530.6"/><circle cx="492.4" cy="534.9"/><circle cx="448.3" cy="521.5"/><circle cx="532.6" cy="490"/><circle cx="539.2" cy="439.2"/><circle cx="722.9" cy="323.6"/><circle cx="602.8" cy="418.2"/><circle cx="665.1" cy="364.8"/><circle cx="579.7" cy="447.9"/><circle cx="595.3" cy="437"/><circle cx="726" cy="336.7"/><circle cx="547.8" cy="458.8"/><circle cx="534.4" cy="463.7"/><circle cx="468.6" cy="550.4"/><circle cx="504.8" cy="490.2"/><circle cx="761.3" cy="303.5"/><circle cx="533.8" cy="465"/><circle cx="630.2" cy="408.2"/><circle cx="634.2" cy="409.4"/><circle cx="681.2" cy="350.7"/><circle cx="435.9" cy="556"/><circle cx="572.9" cy="449.3"/><circle cx="524.9" cy="482"/><circle cx="590.9" cy="444.5"/><circle cx="634.1" cy="409.7"/><circle cx="379.2" cy="609.5"/><circle cx="661.8" cy="401.8"/><circle cx="693.2" cy="340.2"/><circle cx="645.5" cy="378.2"/><circle cx="724.2" cy="301.5"/><circle cx="591.9" cy="433.5"/><circle cx="568" cy="444.1"/><circle cx="615.1" cy="418.2"/><circle cx="766" cy="287.7"/><circle cx="658.7" cy="364.7"/><circle cx="544.8" cy="468.4"/><circle cx="498.4" cy="495.2"/><circle cx="472" cy="533.1"/><circle cx="586" cy="439.9"/><circle cx="576.3" cy="441"/><circle cx="591.5" cy="443"/><circle cx="434.3" cy="558.6"/><circle cx="663.5" cy="368.7"/><circle cx="556.2" cy="443.3"/><circle cx="689.6" cy="359.9"/><circle cx="564.7" cy="438.8"/><circle cx="425.7" cy="582"/><circle cx="702.2" cy="349.3"/><circle cx="728.7" cy="318"/><circle cx="414.5" cy="554.3"/><circle cx="560.1" cy="434.9"/><circle cx="659.1" cy="399.8"/><circle cx="571.7" cy="410.8"/><circle cx="494.6" cy="496.3"/><circle cx="610.7" cy="430.1"/><circle cx="684.4" cy="382.3"/><circle cx="611.5" cy="424"/><circle cx="502.4" cy="504.7"/><circle cx="552.6" cy="469.4"/><circle cx="621.4" cy="372.8"/><circle cx="721" cy="314.6"/><circle cx="767.8" cy="286.5"/><circle cx="673.6" cy="352"/><circle cx="660.4" cy="358.5"/><circle cx="458.7" cy="521.8"/><circle cx="546.2" cy="482.4"/><circle cx="535.6" cy="442.8"/><circle cx="670.6" cy="337.2"/><circle cx="691.1" cy="354.2"/><circle cx="645.8" cy="398.6"/><circle cx="723.8" cy="313.8"/><circle cx="702.9" cy="341.1"/><circle cx="697.5" cy="366.6"/><circle cx="652.4" cy="402.9"/><circle cx="673.5" cy="353.6"/><circle cx="483.6" cy="549.5"/><circle cx="625.8" cy="429.3"/><circle cx="676.8" cy="379.2"/><circle cx="500.3" cy="479.7"/><circle cx="693.9" cy="341.6"/><circle cx="710.1" cy="344"/><circle cx="670.2" cy="368.4"/><circle cx="586.4" cy="436"/><circle cx="569" cy="456.6"/><circle cx="610.2" cy="419.5"/><circle cx="408.7" cy="592.9"/><circle cx="538.3" cy="499.3"/><circle cx="555.6" cy="463.5"/><circle cx="701.2" cy="341.1"/><circle cx="641.1" cy="391.6"/><circle cx="644.2" cy="370.2"/><circle cx="666.7" cy="374.5"/><circle cx="593.3" cy="450.1"/><circle cx="716.8" cy="309.1"/><circle cx="611.3" cy="383.2"/><circle cx="575.9" cy="460.3"/><circle cx="448.7" cy="533"/><circle cx="530.6" cy="477.1"/><circle cx="548.4" cy="472.6"/><circle cx="589.4" cy="463.3"/><circle cx="678.9" cy="377.3"/><circle cx="650.1" cy="401.1"/><circle cx="572.7" cy="457.8"/><circle cx="541.9" cy="456.1"/><circle cx="676.5" cy="371.6"/><circle cx="530.3" cy="504.4"/><circle cx="521.2" cy="454.3"/><circle cx="618.1" cy="419.2"/><circle cx="631.9" cy="378.5"/><circle cx="411.1" cy="571.5"/><circle cx="631.1" cy="404.2"/><circle cx="546.6" cy="495.1"/><circle cx="559.3" cy="456"/><circle cx="490.3" cy="517.1"/><circle cx="742.1" cy="328"/><circle cx="555.6" cy="447"/><circle cx="596.7" cy="402.9"/><circle cx="520.7" cy="508.2"/><circle cx="544.7" cy="431.6"/><circle cx="657.5" cy="353.5"/><circle cx="567.9" cy="427.9"/><circle cx="634.3" cy="409.5"/><circle cx="587.1" cy="448.1"/><circle cx="611.8" cy="423.6"/><circle cx="578" cy="460"/><circle cx="553.1" cy="447.6"/><circle cx="640.2" cy="388.4"/><circle cx="522.3" cy="475.6"/><circle cx="702.2" cy="345.4"/><circle cx="624.9" cy="403.7"/><circle cx="506.7" cy="479.2"/><circle cx="508.5" cy="502.8"/><circle cx="597" cy="436.8"/><circle cx="501.6" cy="515.3"/><circle cx="521" cy="483.6"/><circle cx="548.5" cy="468.3"/><circle cx="643.4" cy="384.8"/><circle cx="548.5" cy="433.8"/><circle cx="397" cy="610.4"/><circle cx="605.9" cy="440.2"/><circle cx="626.5" cy="386.3"/><circle cx="469.4" cy="524.7"/><circle cx="607.8" cy="421.5"/><circle cx="472.1" cy="535.7"/><circle cx="563.5" cy="455.1"/><circle cx="727.5" cy="324.6"/><circle cx="563.5" cy="457.5"/><circle cx="778.1" cy="272.3"/><circle cx="595" cy="432.1"/><circle cx="601.7" cy="419.1"/><circle cx="761.3" cy="318"/><circle cx="546.7" cy="494.9"/><circle cx="739.6" cy="320.1"/><circle cx="638.8" cy="387.3"/><circle cx="626.7" cy="416.3"/><circle cx="711.4" cy="326.6"/><circle cx="697.6" cy="367.3"/><circle cx="648.2" cy="381.8"/><circle cx="672.3" cy="369.6"/><circle cx="649.2" cy="370.2"/><circle cx="558.4" cy="444"/><circle cx="697.6" cy="372.5"/><circle cx="333.6" cy="655.4"/><circle cx="700.5" cy="342.7"/><circle cx="737.4" cy="328.8"/><circle cx="533.9" cy="473.2"/><circle cx="655.1" cy="385.3"/><circle cx="580.6" cy="445.7"/><circle cx="712.9" cy="327.8"/><circle cx="701.5" cy="345.6"/><circle cx="554.5" cy="474.8"/><circle cx="642.7" cy="398"/><circle cx="447.3" cy="520.4"/><circle cx="670.5" cy="364.8"/><circle cx="534.7" cy="460.2"/><circle cx="578.5" cy="430.3"/><circle cx="540.2" cy="472.6"/><circle cx="602.3" cy="400.4"/><circle cx="542.7" cy="439.2"/><circle cx="544.7" cy="490.2"/><circle cx="552.8" cy="434.3"/><circle cx="560.3" cy="474.4"/><circle cx="599.2" cy="428.4"/><circle cx="507.2" cy="504"/><circle cx="621.5" cy="438.9"/><circle cx="709.9" cy="325.2"/><circle cx="567.3" cy="424.1"/><circle cx="637.7" cy="412.6"/><circle cx="604.9" cy="439.5"/><circle cx="603.1" cy="428.3"/><circle cx="564.5" cy="438"/><circle cx="722.1" cy="314.2"/><circle cx="749.6" cy="305"/><circle cx="728.9" cy="328.4"/><circle cx="664.8" cy="355.5"/><circle cx="512.7" cy="511.2"/><circle cx="606" cy="408.4"/><circle cx="607.6" cy="412.2"/><circle cx="808.6" cy="263.6"/><circle cx="658.5" cy="371.8"/><circle cx="768.6" cy="302"/><circle cx="712.5" cy="339.7"/><circle cx="642.8" cy="378"/><circle cx="522.2" cy="475.3"/><circle cx="717.6" cy="338.7"/><circle cx="748.1" cy="316.5"/><circle cx="421.5" cy="582.3"/><circle cx="508.5" cy="518"/><circle cx="622.9" cy="417.5"/><circle cx="518.4" cy="498.1"/><circle cx="460.7" cy="532.3"/><circle cx="625.6" cy="402.6"/><circle cx="462.7" cy="516.4"/><circle cx="598.7" cy="415.7"/><circle cx="573.6" cy="445"/><circle cx="607.7" cy="411.5"/><circle cx="631.6" cy="367.3"/><circle cx="638.8" cy="374"/><circle cx="593.8" cy="453.9"/><circle cx="582.7" cy="416.2"/><circle cx="598" cy="447.1"/><circle cx="524.6" cy="489.3"/><circle cx="598.9" cy="435.2"/><circle cx="628.7" cy="411.5"/><circle cx="541.1" cy="463.1"/><circle cx="615" cy="398.1"/><circle cx="522.3" cy="477.4"/><circle cx="549.7" cy="475.9"/><circle cx="424.2" cy="545.7"/><circle cx="595.5" cy="428.7"/><circle cx="701.3" cy="349.3"/><circle cx="548.4" cy="473.6"/><circle cx="554.1" cy="467.2"/><circle cx="728.8" cy="308.4"/><circle cx="735.9" cy="338.6"/><circle cx="538.9" cy="462.4"/><circle cx="509" cy="508.1"/><circle cx="497.3" cy="505.5"/><circle cx="529.5" cy="476.9"/><circle cx="652" cy="374.5"/><circle cx="434.6" cy="584.5"/><circle cx="685.3" cy="353.1"/><circle cx="546.4" cy="445.9"/><circle cx="621.7" cy="383.9"/><circle cx="717.7" cy="325.4"/><circle cx="692.3" cy="366.9"/><circle cx="640.5" cy="386.1"/><circle cx="618.5" cy="409.9"/><circle cx="664.1" cy="391.7"/><circle cx="625.5" cy="416.9"/><circle cx="502.9" cy="517"/><circle cx="511.6" cy="504.9"/><circle cx="679.6" cy="363.3"/><circle cx="584.6" cy="440.3"/><circle cx="557" cy="466.8"/><circle cx="723" cy="331.5"/><circle cx="627.9" cy="403.4"/><circle cx="778.7" cy="280"/><circle cx="599.9" cy="409.2"/><circle cx="639.8" cy="388.9"/><circle cx="651.6" cy="371.6"/><circle cx="699.8" cy="327.9"/><circle cx="585.3" cy="451.6"/><circle cx="442.1" cy="531.2"/><circle cx="570.9" cy="462.4"/><circle cx="572.3" cy="456.2"/><circle cx="674.4" cy="366.5"/><circle cx="785.7" cy="289.6"/><circle cx="736.7" cy="302.3"/><circle cx="461.8" cy="536.7"/><circle cx="705.5" cy="359.7"/><circle cx="661.2" cy="382"/><circle cx="761" cy="291.5"/><circle cx="605.9" cy="397.5"/><circle cx="586.2" cy="436.6"/><circle cx="580.9" cy="414.8"/><circle cx="690.8" cy="364.9"/><circle cx="540.2" cy="481.4"/><circle cx="646.3" cy="351.6"/><circle cx="674.4" cy="358.8"/><circle cx="575.5" cy="466.7"/><circle cx="583.1" cy="449.8"/><circle cx="507.4" cy="481.3"/><circle cx="612.4" cy="392.5"/><circle cx="702.8" cy="329.1"/><circle cx="710.3" cy="328.3"/><circle cx="615.8" cy="418.8"/><circle cx="604.1" cy="424.6"/><circle cx="660.7" cy="399.7"/><circle cx="583" cy="444.9"/><circle cx="617.4" cy="427"/><circle cx="731" cy="319.8"/><circle cx="509.1" cy="488.8"/><circle cx="652.3" cy="371.4"/><circle cx="686.6" cy="339.9"/><circle cx="650.3" cy="414.8"/><circle cx="648.9" cy="371.1"/><circle cx="579.2" cy="458.7"/><circle cx="680.5" cy="355.6"/><circle cx="620.6" cy="415.6"/><circle cx="694.3" cy="359.3"/><circle cx="410.2" cy="601.3"/><circle cx="600.5" cy="412.6"/><circle cx="481.1" cy="524.3"/><circle cx="460.7" cy="528.8"/><circle cx="585.4" cy="446.2"/><circle cx="684.7" cy="375.3"/><circle cx="594.2" cy="413.3"/><circle cx="688.5" cy="367.1"/><circle cx="615" cy="405.4"/><circle cx="588.6" cy="405.8"/><circle cx="715.5" cy="323.2"/><circle cx="694.6" cy="357"/><circle cx="530.9" cy="481.3"/><circle cx="789.6" cy="268.9"/><circle cx="599.6" cy="418.1"/><circle cx="694.8" cy="351.7"/><circle cx="608.2" cy="431"/><circle cx="501.4" cy="487.1"/><circle cx="704.8" cy="328.8"/><circle cx="555.1" cy="476.8"/><circle cx="618.9" cy="403.4"/><circle cx="576.9" cy="423.8"/><circle cx="583.1" cy="457.3"/><circle cx="597" cy="432.8"/><circle cx="673.9" cy="356.8"/><circle cx="519.2" cy="486.2"/><circle cx="720.5" cy="331"/><circle cx="668.6" cy="354.7"/><circle cx="665" cy="360"/><circle cx="643" cy="413.4"/><circle cx="480.2" cy="527.1"/><circle cx="505.5" cy="501.7"/><circle cx="686.1" cy="359.1"/><circle cx="448.3" cy="539.9"/><circle cx="611.9" cy="447.2"/><circle cx="770.9" cy="290.7"/><circle cx="614.8" cy="428.3"/><circle cx="661.9" cy="370.8"/><circle cx="664.8" cy="383.6"/><circle cx="593.8" cy="399.2"/><circle cx="519.2" cy="486.6"/><circle cx="691.2" cy="362.9"/><circle cx="527" cy="485.5"/><circle cx="568.8" cy="436"/><circle cx="582.2" cy="446.3"/><circle cx="729.2" cy="340.9"/><circle cx="565.6" cy="412.7"/><circle cx="609.7" cy="418.4"/><circle cx="679.6" cy="363.7"/><circle cx="742.9" cy="314.6"/><circle cx="694.3" cy="336.6"/><circle cx="691.2" cy="371.2"/><circle cx="641.4" cy="374.5"/><circle cx="595.3" cy="426.6"/><circle cx="560.8" cy="465.8"/><circle cx="620.8" cy="420.3"/><circle cx="697.7" cy="368.2"/><circle cx="636" cy="378"/><circle cx="678.4" cy="352.9"/><circle cx="650.3" cy="396.9"/><circle cx="622.5" cy="414.6"/><circle cx="678.2" cy="362"/><circle cx="626.8" cy="361.3"/><circle cx="664.2" cy="373.1"/><circle cx="638" cy="391"/><circle cx="593" cy="424.9"/><circle cx="598.1" cy="398.4"/><circle cx="493.6" cy="530.7"/><circle cx="506.3" cy="475.5"/><circle cx="588.4" cy="440.5"/><circle cx="635.3" cy="384.9"/><circle cx="723.8" cy="341.7"/><circle cx="497.9" cy="493.1"/><circle cx="665.5" cy="361.1"/><circle cx="821.1" cy="250.7"/><circle cx="411.2" cy="558.1"/><circle cx="595.8" cy="438"/><circle cx="644.5" cy="381"/><circle cx="635.3" cy="393.9"/><circle cx="535.6" cy="491.5"/><circle cx="530.8" cy="492.1"/><circle cx="575.9" cy="434.1"/><circle cx="693.5" cy="357.6"/><circle cx="490.7" cy="520.7"/><circle cx="598.3" cy="437.3"/><circle cx="524.9" cy="474"/><circle cx="589.2" cy="462"/><circle cx="673.7" cy="355.9"/><circle cx="723" cy="312.7"/><circle cx="641" cy="385.8"/><circle cx="581.6" cy="439.7"/><circle cx="560.2" cy="440"/><circle cx="643" cy="388"/><circle cx="667.9" cy="361.1"/><circle cx="533.5" cy="477"/><circle cx="766.4" cy="291.7"/><circle cx="710.8" cy="352.9"/><circle cx="787.1" cy="270.1"/><circle cx="680.5" cy="351.9"/><circle cx="613.6" cy="420.2"/><circle cx="609.7" cy="415.3"/><circle cx="484.6" cy="534.9"/><circle cx="642.1" cy="381.1"/><circle cx="628.6" cy="415.4"/><circle cx="691.9" cy="345.5"/><circle cx="418.7" cy="555.1"/><circle cx="807.9" cy="262.5"/><circle cx="755.2" cy="305.2"/><circle cx="565.2" cy="454.5"/><circle cx="602.5" cy="402.8"/><circle cx="577.1" cy="431.5"/><circle cx="654" cy="385.6"/><circle cx="661.7" cy="365.3"/><circle cx="664.8" cy="357.3"/><circle cx="558.5" cy="444.9"/><circle cx="778.9" cy="282.8"/><circle cx="644.9" cy="367.9"/><circle cx="640.1" cy="405.6"/><circle cx="623.4" cy="380.6"/><circle cx="501.4" cy="498.3"/><circle cx="681.7" cy="362"/><circle cx="460.7" cy="524.5"/><circle cx="674.6" cy="364.1"/><circle cx="560.9" cy="423.9"/><circle cx="605.6" cy="409.2"/><circle cx="645.7" cy="396.3"/><circle cx="692.3" cy="354.4"/><circle cx="604.3" cy="413.7"/><circle cx="736.3" cy="321.3"/><circle cx="581.7" cy="431.1"/><circle cx="588.4" cy="424.9"/><circle cx="683.3" cy="369.1"/><circle cx="612.2" cy="405.7"/><circle cx="627.5" cy="388.9"/><circle cx="478.8" cy="534.9"/><circle cx="699" cy="374.2"/><circle cx="557.3" cy="423.8"/><circle cx="484.7" cy="538.8"/><circle cx="709.6" cy="358.5"/><circle cx="554.8" cy="447.2"/><circle cx="536.5" cy="451.9"/><circle cx="664.5" cy="358.3"/><circle cx="153" cy="718.6"/><circle cx="153.4" cy="736.4"/><circle cx="196" cy="696.6"/><circle cx="189" cy="714.6"/><circle cx="215.4" cy="715"/><circle cx="228" cy="713"/><circle cx="235" cy="716.6"/><circle cx="244" cy="709"/><circle cx="216" cy="732.6"/><circle cx="220.4" cy="747"/><circle cx="233" cy="748"/><circle cx="234.4" cy="747.6"/><circle cx="246" cy="751"/><circle cx="254" cy="746.6"/><circle cx="257.6" cy="744.4"/><circle cx="270" cy="736.4"/><circle cx="281" cy="739.6"/><circle cx="296.6" cy="732"/><circle cx="314" cy="726"/><circle cx="301.6" cy="720.4"/><circle cx="315" cy="711"/><circle cx="265" cy="721.4"/><circle cx="271" cy="721"/><circle cx="189.6" cy="767.4"/><circle cx="164.4" cy="776"/><circle cx="185.6" cy="789"/><circle cx="206.6" cy="781.4"/><circle cx="229.2" cy="783.4"/><circle cx="252" cy="820"/><circle cx="227.4" cy="658.4"/><circle cx="237.6" cy="665.6"/><circle cx="247.6" cy="667"/><circle cx="244.4" cy="653"/><circle cx="223" cy="678"/><circle cx="230.4" cy="680"/><circle cx="232" cy="685"/><circle cx="243" cy="691.6"/><circle cx="247.4" cy="684.4"/><circle cx="252" cy="684.4"/><circle cx="251" cy="693.6"/><circle cx="263.6" cy="677"/><circle cx="270.4" cy="669"/><circle cx="269" cy="655"/><circle cx="264" cy="652"/><circle cx="278" cy="650"/><circle cx="283" cy="666"/><circle cx="292" cy="667"/><circle cx="282" cy="677"/><circle cx="267" cy="689.6"/><circle cx="271" cy="688"/><circle cx="272" cy="685"/><circle cx="273" cy="690"/><circle cx="272" cy="698"/><circle cx="263.6" cy="705.6"/><circle cx="280" cy="691"/><circle cx="286" cy="684"/><circle cx="288" cy="684.4"/><circle cx="290.4" cy="697"/><circle cx="290.4" cy="704"/><circle cx="301.4" cy="688"/><circle cx="310.4" cy="694"/><circle cx="320" cy="685.6"/><circle cx="302" cy="654"/><circle cx="298.6" cy="663"/><circle cx="306" cy="662"/><circle cx="308" cy="660"/><circle cx="313" cy="658"/><circle cx="317" cy="659"/><circle cx="306" cy="667"/><circle cx="320" cy="726"/><circle cx="306.4" cy="517"/><circle cx="313.6" cy="586.4"/><circle cx="291.6" cy="590.4"/><circle cx="292" cy="600.6"/><circle cx="315" cy="608.6"/><circle cx="300" cy="621"/><circle cx="267" cy="628"/><circle cx="289.6" cy="627"/><circle cx="290.6" cy="628.6"/><circle cx="308" cy="630.4"/><circle cx="318" cy="631"/><circle cx="252.4" cy="643"/><circle cx="264.4" cy="649"/><circle cx="277.4" cy="648"/><circle cx="281.6" cy="644.4"/><circle cx="288" cy="643"/><circle cx="291.6" cy="641.4"/><circle cx="318" cy="646"/><circle cx="319" cy="652"/><circle cx="386" cy="649"/><circle cx="325.6" cy="671"/><circle cx="323" cy="685"/><circle cx="343" cy="666.4"/><circle cx="341.6" cy="681"/><circle cx="348" cy="683.6"/><circle cx="354.4" cy="678"/><circle cx="353" cy="671.6"/><circle cx="360" cy="671.6"/><circle cx="370" cy="673"/><circle cx="380" cy="672.4"/><circle cx="390.6" cy="685"/><circle cx="385" cy="708.4"/><circle cx="323" cy="726"/><circle cx="363" cy="660.4"/><circle cx="356" cy="659"/><circle cx="352" cy="661"/><circle cx="357" cy="654"/><circle cx="340" cy="654"/><circle cx="335" cy="657"/><circle cx="324" cy="653"/><circle cx="332" cy="653"/><circle cx="374" cy="502"/><circle cx="379.4" cy="512.4"/><circle cx="410" cy="510"/><circle cx="367" cy="528.4"/><circle cx="381.6" cy="534.4"/><circle cx="401" cy="527"/><circle cx="405" cy="532"/><circle cx="409" cy="532"/><circle cx="425" cy="517"/><circle cx="424" cy="500"/><circle cx="436" cy="501"/><circle cx="362.4" cy="546"/><circle cx="372.4" cy="542.4"/><circle cx="376" cy="549.6"/><circle cx="369.4" cy="554"/><circle cx="390.4" cy="555"/><circle cx="401" cy="543"/><circle cx="400" cy="549"/><circle cx="358.4" cy="570.4"/><circle cx="378" cy="570"/><circle cx="389" cy="567"/><circle cx="393" cy="567"/><circle cx="364.4" cy="582"/><circle cx="341.6" cy="588"/><circle cx="348" cy="592"/><circle cx="353" cy="592"/><circle cx="360" cy="590"/><circle cx="359" cy="593"/><circle cx="380" cy="584"/><circle cx="386" cy="583"/><circle cx="390" cy="581"/><circle cx="394" cy="584"/><circle cx="376" cy="588"/><circle cx="373" cy="594"/><circle cx="378" cy="596"/><circle cx="382" cy="595"/><circle cx="342" cy="604"/><circle cx="346" cy="601"/><circle cx="345" cy="611"/><circle cx="352" cy="600"/><circle cx="366" cy="600"/><circle cx="370" cy="602"/><circle cx="365" cy="607"/><circle cx="380" cy="603"/><circle cx="384" cy="604"/><circle cx="378" cy="610"/><circle cx="374" cy="614"/><circle cx="329" cy="616"/><circle cx="363" cy="617"/><circle cx="358" cy="621"/><circle cx="340" cy="623"/><circle cx="330" cy="625"/><circle cx="346" cy="625"/><circle cx="350" cy="629"/><circle cx="349" cy="633"/><circle cx="330" cy="632"/><circle cx="325" cy="638"/><circle cx="332" cy="641"/><circle cx="327" cy="647"/><circle cx="322" cy="644"/><circle cx="366" cy="643"/><circle cx="363" cy="633"/><circle cx="376" cy="634"/><circle cx="380" cy="626"/><circle cx="386" cy="648"/><circle cx="392.4" cy="639.4"/><circle cx="401" cy="627"/><circle cx="400" cy="628"/><circle cx="399" cy="619"/><circle cx="397" cy="611"/><circle cx="388" cy="611"/><circle cx="410" cy="611"/><circle cx="412" cy="604"/><circle cx="406" cy="602"/><circle cx="417" cy="619"/><circle cx="423" cy="618"/><circle cx="425.6" cy="641"/><circle cx="431" cy="602.4"/><circle cx="456" cy="605"/><circle cx="494.6" cy="635.4"/><circle cx="508" cy="590"/><circle cx="475" cy="584"/><circle cx="484" cy="582.4"/><circle cx="489.6" cy="582.4"/><circle cx="500" cy="570"/><circle cx="502.4" cy="570.4"/><circle cx="506" cy="570.6"/><circle cx="494" cy="554.4"/><circle cx="496" cy="546"/><circle cx="513" cy="549"/><circle cx="517" cy="543"/><circle cx="520" cy="538"/><circle cx="472" cy="564"/><circle cx="471" cy="566"/><circle cx="467" cy="556"/><circle cx="459" cy="577"/><circle cx="457" cy="582"/><circle cx="457" cy="586.4"/><circle cx="444" cy="594"/><circle cx="445" cy="588"/><circle cx="429" cy="591"/><circle cx="429" cy="586"/><circle cx="420" cy="592"/><circle cx="424" cy="588"/><circle cx="414" cy="591"/><circle cx="402" cy="591"/><circle cx="411" cy="598"/><circle cx="452" cy="568"/><circle cx="448" cy="573"/><circle cx="442" cy="580"/><circle cx="450" cy="580"/><circle cx="438" cy="586"/><circle cx="460" cy="560"/><circle cx="478" cy="553"/><circle cx="488" cy="540"/><circle cx="500" cy="536"/><circle cx="482" cy="548"/><circle cx="346" cy="653"/><circle cx="356" cy="653"/><circle cx="352" cy="658"/><circle cx="357" cy="660"/><circle cx="351" cy="662"/><circle cx="354" cy="672"/><circle cx="334" cy="658"/><circle cx="322" cy="658"/><circle cx="325" cy="652"/><circle cx="511.6" cy="347.4"/><circle cx="520" cy="357.6"/><circle cx="474" cy="383.6"/><circle cx="517" cy="382"/><circle cx="516" cy="386"/><circle cx="510" cy="402.4"/><circle cx="507.6" cy="404.4"/><circle cx="517" cy="405.4"/><circle cx="518" cy="417"/><circle cx="457" cy="419.4"/><circle cx="515" cy="428"/><circle cx="515.6" cy="431"/><circle cx="486" cy="433.6"/><circle cx="486" cy="439"/><circle cx="494" cy="444"/><circle cx="504" cy="438"/><circle cx="508" cy="440"/><circle cx="509" cy="451"/><circle cx="429" cy="436.4"/><circle cx="437.4" cy="446"/><circle cx="424.6" cy="459.4"/><circle cx="441.6" cy="465"/><circle cx="447.4" cy="471"/><circle cx="378" cy="477"/><circle cx="424.4" cy="497"/><circle cx="435.6" cy="498"/><circle cx="465.6" cy="472"/><circle cx="474" cy="467.6"/><circle cx="475" cy="472"/><circle cx="477" cy="473.6"/><circle cx="462.4" cy="484"/><circle cx="462" cy="486"/><circle cx="473" cy="486"/><circle cx="492" cy="463"/><circle cx="501" cy="462"/><circle cx="488" cy="474"/><circle cx="480" cy="480"/><circle cx="440" cy="504"/><circle cx="561" cy="304.4"/><circle cx="568.6" cy="304.4"/><circle cx="646.6" cy="307.6"/><circle cx="551" cy="324.6"/><circle cx="550" cy="334.4"/><circle cx="588" cy="331"/><circle cx="647" cy="324.6"/><circle cx="563" cy="347.6"/><circle cx="629" cy="339"/><circle cx="630.6" cy="339.4"/><circle cx="522" cy="357.6"/><circle cx="520" cy="382"/><circle cx="703" cy="301.6"/><circle cx="667" cy="313"/><circle cx="681" cy="313"/><circle cx="674" cy="318"/><circle cx="666" cy="324"/><circle cx="659" cy="332"/><circle cx="694" cy="312"/><circle cx="644" cy="348"/><circle cx="648" cy="343"/><circle cx="656" cy="344"/><circle cx="613.4" cy="358"/><circle cx="606" cy="365"/><circle cx="618" cy="362"/><circle cx="627" cy="361"/><circle cx="632" cy="363"/><circle cx="568" cy="379"/><circle cx="563" cy="383"/><circle cx="567" cy="384"/><circle cx="590" cy="379"/><circle cx="584" cy="386"/><circle cx="600" cy="377"/><circle cx="580" cy="392"/><circle cx="553" cy="397"/><circle cx="560" cy="394"/><circle cx="538" cy="401.6"/><circle cx="524" cy="403"/><circle cx="527" cy="414"/><circle cx="536" cy="418"/><circle cx="545" cy="414"/><circle cx="550" cy="418"/><circle cx="537" cy="424"/><circle cx="526" cy="431"/><circle cx="520" cy="428"/><circle cx="711" cy="409"/><circle cx="695.6" cy="428"/><circle cx="679" cy="427"/><circle cx="668" cy="428"/><circle cx="663" cy="425"/><circle cx="658" cy="420"/><circle cx="658" cy="424"/><circle cx="648" cy="430"/><circle cx="646" cy="426"/><circle cx="671" cy="417"/><circle cx="682" cy="413"/><circle cx="678" cy="409"/><circle cx="670" cy="408"/><circle cx="690" cy="400"/><circle cx="686" cy="397"/><circle cx="694" cy="391"/><circle cx="715" cy="378"/><circle cx="717" cy="372"/><circle cx="708" cy="374"/><circle cx="641" cy="444"/><circle cx="644" cy="447"/><circle cx="635.6" cy="461"/><circle cx="645" cy="459"/><circle cx="648" cy="459.4"/><circle cx="663.6" cy="457.4"/><circle cx="663.6" cy="469"/><circle cx="672.4" cy="469.6"/><circle cx="684" cy="486.4"/><circle cx="608" cy="485.4"/><circle cx="619.4" cy="498"/><circle cx="587" cy="489"/><circle cx="589" cy="487"/><circle cx="586" cy="492"/><circle cx="619" cy="452"/><circle cx="614" cy="460"/><circle cx="617" cy="460"/><circle cx="606" cy="472"/><circle cx="600" cy="470"/><circle cx="592" cy="474"/><circle cx="574" cy="488"/><circle cx="566" cy="492"/><circle cx="628" cy="438"/><circle cx="636" cy="436"/><circle cx="624" cy="444"/><circle cx="789.6" cy="301"/><circle cx="779" cy="299"/><circle cx="791.6" cy="331.4"/><circle cx="769" cy="349"/><circle cx="769.6" cy="357.4"/><circle cx="753.4" cy="360.6"/><circle cx="756.4" cy="344"/><circle cx="726" cy="381.6"/><circle cx="781" cy="406.6"/><circle cx="735" cy="425.4"/><circle cx="734" cy="365"/><circle cx="724" cy="362"/><circle cx="723" cy="373"/><circle cx="742" cy="353"/><circle cx="747" cy="353"/><circle cx="765" cy="330"/><circle cx="763" cy="329"/><circle cx="771" cy="319"/><circle cx="766" cy="315"/><circle cx="772" cy="306"/><circle cx="758" cy="324"/><circle cx="752" cy="334"/><circle cx="746" cy="342"/><circle cx="730" cy="350"/><circle cx="877.8" cy="149.6"/><circle cx="902.4" cy="164"/><circle cx="906.8" cy="192.6"/><circle cx="886.6" cy="199"/><circle cx="831" cy="200.6"/><circle cx="847.4" cy="207.4"/><circle cx="858" cy="209"/><circle cx="855" cy="217"/><circle cx="838" cy="220"/><circle cx="832" cy="224"/><circle cx="876.4" cy="220"/><circle cx="868" cy="222.4"/><circle cx="863" cy="224"/><circle cx="857.6" cy="232.4"/><circle cx="847" cy="228.6"/><circle cx="776.4" cy="233.4"/><circle cx="792" cy="237"/><circle cx="766.4" cy="250.4"/><circle cx="727" cy="260.6"/><circle cx="732.4" cy="261.4"/><circle cx="740" cy="269"/><circle cx="750" cy="266.6"/><circle cx="748" cy="281"/><circle cx="729" cy="282"/><circle cx="824" cy="285.6"/><circle cx="804.4" cy="294.4"/><circle cx="798" cy="287"/><circle cx="788" cy="292"/><circle cx="840" cy="266"/><circle cx="850" cy="264"/><circle cx="846" cy="260"/><circle cx="838" cy="256"/><circle cx="836" cy="251"/><circle cx="831" cy="247"/><circle cx="826" cy="265"/><circle cx="821" cy="260"/><circle cx="809" cy="258"/><circle cx="820" cy="249"/><circle cx="824" cy="226"/><circle cx="819" cy="229"/><circle cx="814" cy="233"/><circle cx="808" cy="237"/><circle cx="811" cy="240"/><circle cx="816" cy="238"/><circle cx="822" cy="234"/><circle cx="828" cy="230"/><circle cx="834" cy="229"/><circle cx="802" cy="245"/><circle cx="796" cy="250"/><circle cx="798" cy="254"/><circle cx="788" cy="254"/><circle cx="779" cy="253"/><circle cx="778" cy="262"/><circle cx="786" cy="262"/><circle cx="790" cy="264"/><circle cx="801" cy="267"/><circle cx="702.4" cy="260"/><circle cx="715" cy="267.6"/><circle cx="708" cy="273.6"/><circle cx="691" cy="272"/><circle cx="680" cy="274.6"/><circle cx="633.6" cy="273"/><circle cx="679" cy="289"/><circle cx="711" cy="290.4"/><circle cx="718" cy="282"/><circle cx="703" cy="300.6"/><circle cx="566.6" cy="297"/><circle cx="714" cy="307"/><circle cx="706" cy="314"/><circle cx="720" cy="298"/><circle cx="728" cy="288"/><circle cx="732" cy="293"/><circle cx="724" cy="294"/><circle cx="595" cy="512.6"/><circle cx="612" cy="523"/><circle cx="674.4" cy="542.4"/><circle cx="578.4" cy="534"/><circle cx="562" cy="514.4"/><circle cx="557.6" cy="524.6"/><circle cx="565" cy="528"/><circle cx="558" cy="536"/><circle cx="545.4" cy="530.6"/><circle cx="543" cy="546"/><circle cx="554.4" cy="555"/><circle cx="565" cy="554.4"/><circle cx="527" cy="562.6"/><circle cx="537" cy="586.4"/><circle cx="540" cy="520"/><circle cx="530" cy="521"/><circle cx="524" cy="538"/><circle cx="520" cy="542"/><circle cx="569" cy="498"/><circle cx="559" cy="506"/><circle cx="607" cy="472"/><circle cx="549" cy="507"/><circle cx="538" cy="512"/><circle cx="523" cy="538"/><circle cx="906" cy="522.6"/><circle cx="799" cy="544.6"/><circle cx="866" cy="561.4"/><circle cx="830.6" cy="591"/><circle cx="856.4" cy="592"/><circle cx="418" cy="618.4"/><circle cx="460" cy="561"/><circle cx="441.6" cy="504"/><circle cx="526" cy="414"/><circle cx="538" cy="403"/><circle cx="516" cy="406"/><circle cx="523" cy="404"/><circle cx="538" cy="424"/><circle cx="548" cy="416"/><circle cx="554" cy="408"/></g>
<path class="ln" d="M243.2 846.8H794.6M243.2 846.8v15.6M427 846.8v15.6M610.8 846.8v15.6M794.6 846.8v15.6"/>
<path class="ln" d="M123.1 730.8V267.3M123.1 730.8h-15.6M123.1 576.3h-15.6M123.1 421.8h-15.6M123.1 267.3h-15.6"/>
<g class="ax">
<text transform="translate(243.2 900.7) scale(1 1.05)">-10</text><text transform="translate(427 900.7) scale(1 1.05)">-5</text><text transform="translate(610.8 900.7) scale(1 1.05)">0</text><text transform="translate(794.6 900.7) scale(1 1.05)">5</text>
<text transform="translate(86.8 730.8) rotate(-90) scale(1 1.05)">-10</text><text transform="translate(86.8 576.3) rotate(-90) scale(1 1.05)">-5</text><text transform="translate(86.8 421.8) rotate(-90) scale(1 1.05)">0</text><text transform="translate(86.8 267.3) rotate(-90) scale(1 1.05)">5</text>
<text transform="translate(530.1 960.7) scale(1.018 1.085)">JKM139_2_T240 log2 densities</text>
<text transform="translate(27 485.9) rotate(-90) scale(1.018 1.085)">JKM139_1_T0 log2 densities</text>
</g>
<rect class="ln" x="123.1" y="122.95" width="813.85" height="723.85"/>
<path d="M123.1 831.6L936.95 147.8" stroke="#f00" stroke-width="1.56" fill="none"/>
</svg>
</body></html>
